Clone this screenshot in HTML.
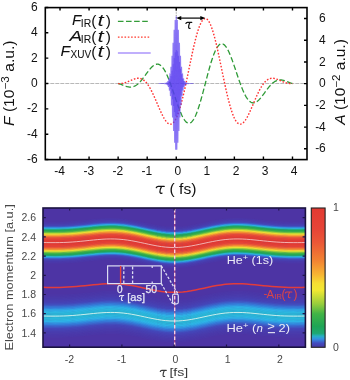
<!DOCTYPE html>
<html><head><meta charset="utf-8"><style>
html,body{margin:0;padding:0;background:#fff;width:350px;height:380px;overflow:hidden}
svg{display:block}
</style></head><body>
<svg style="will-change:transform" width="350" height="380" viewBox="0 0 350 380">
<line x1="45.3" y1="83.5" x2="307.0" y2="83.5" stroke="#b0b0b0" stroke-width="0.9" stroke-dasharray="4 1"/>
<line x1="176.25" y1="7.6" x2="176.25" y2="18" stroke="#888" stroke-width="0.9" stroke-dasharray="1.2 1.2"/>
<path d="M118.13,83.5 L118.71,83.65 L119.29,83.82 L119.87,84.01 L120.45,84.21 L121.04,84.42 L121.62,84.64 L122.2,84.87 L122.78,85.1 L123.36,85.33 L123.94,85.55 L124.52,85.77 L125.1,85.98 L125.69,86.18 L126.27,86.37 L126.85,86.54 L127.43,86.69 L128.01,86.82 L128.59,86.93 L129.17,87.01 L129.75,87.06 L130.34,87.08 L130.92,87.06 L131.5,87.01 L132.08,86.93 L132.66,86.81 L133.24,86.64 L133.82,86.44 L134.4,86.2 L134.98,85.92 L135.57,85.6 L136.15,85.24 L136.73,84.84 L137.31,84.4 L137.89,83.92 L138.47,83.4 L139.05,82.85 L139.63,82.26 L140.22,81.64 L140.8,80.99 L141.38,80.31 L141.96,79.6 L142.54,78.87 L143.12,78.13 L143.7,77.36 L144.28,76.59 L144.87,75.8 L145.45,75.01 L146.03,74.21 L146.61,73.42 L147.19,72.63 L147.77,71.86 L148.35,71.09 L148.93,70.35 L149.51,69.63 L150.1,68.93 L150.68,68.27 L151.26,67.64 L151.84,67.06 L152.42,66.51 L153,66.01 L153.58,65.57 L154.16,65.18 L154.75,64.85 L155.33,64.58 L155.91,64.37 L156.49,64.23 L157.07,64.17 L157.65,64.17 L158.23,64.25 L158.81,64.41 L159.4,64.65 L159.98,64.96 L160.56,65.36 L161.14,65.84 L161.72,66.4 L162.3,67.04 L162.88,67.76 L163.46,68.56 L164.04,69.44 L164.63,70.39 L165.21,71.43 L165.79,72.53 L166.37,73.71 L166.95,74.95 L167.53,76.26 L168.11,77.63 L168.69,79.06 L169.28,80.54 L169.86,82.07 L170.44,83.65 L171.02,85.26 L171.6,86.91 L172.18,88.59 L172.76,90.29 L173.34,92 L173.93,93.73 L174.51,95.46 L175.09,97.2 L175.67,98.92 L176.25,100.64 L176.83,102.33 L177.41,104 L177.99,105.64 L178.57,107.23 L179.16,108.79 L179.74,110.29 L180.32,111.74 L180.9,113.12 L181.48,114.44 L182.06,115.68 L182.64,116.84 L183.22,117.92 L183.81,118.91 L184.39,119.81 L184.97,120.61 L185.55,121.31 L186.13,121.91 L186.71,122.4 L187.29,122.78 L187.87,123.04 L188.46,123.2 L189.04,123.23 L189.62,123.15 L190.2,122.95 L190.78,122.63 L191.36,122.19 L191.94,121.63 L192.52,120.96 L193.1,120.17 L193.69,119.27 L194.27,118.26 L194.85,117.14 L195.43,115.91 L196.01,114.58 L196.59,113.15 L197.17,111.63 L197.75,110.02 L198.34,108.32 L198.92,106.54 L199.5,104.69 L200.08,102.77 L200.66,100.79 L201.24,98.76 L201.82,96.67 L202.4,94.54 L202.99,92.38 L203.57,90.18 L204.15,87.97 L204.73,85.74 L205.31,83.5 L205.89,81.26 L206.47,79.03 L207.05,76.82 L207.63,74.62 L208.22,72.46 L208.8,70.33 L209.38,68.24 L209.96,66.21 L210.54,64.23 L211.12,62.31 L211.7,60.46 L212.28,58.68 L212.87,56.98 L213.45,55.37 L214.03,53.85 L214.61,52.42 L215.19,51.09 L215.77,49.86 L216.35,48.74 L216.93,47.73 L217.52,46.83 L218.1,46.04 L218.68,45.37 L219.26,44.81 L219.84,44.37 L220.42,44.05 L221,43.85 L221.58,43.77 L222.16,43.8 L222.75,43.96 L223.33,44.22 L223.91,44.6 L224.49,45.09 L225.07,45.69 L225.65,46.39 L226.23,47.19 L226.81,48.09 L227.4,49.08 L227.98,50.16 L228.56,51.32 L229.14,52.56 L229.72,53.88 L230.3,55.26 L230.88,56.71 L231.46,58.21 L232.05,59.77 L232.63,61.36 L233.21,63 L233.79,64.67 L234.37,66.36 L234.95,68.08 L235.53,69.8 L236.11,71.54 L236.69,73.27 L237.28,75 L237.86,76.71 L238.44,78.41 L239.02,80.09 L239.6,81.74 L240.18,83.35 L240.76,84.93 L241.34,86.46 L241.93,87.94 L242.51,89.37 L243.09,90.74 L243.67,92.05 L244.25,93.29 L244.83,94.47 L245.41,95.57 L245.99,96.61 L246.58,97.56 L247.16,98.44 L247.74,99.24 L248.32,99.96 L248.9,100.6 L249.48,101.16 L250.06,101.64 L250.64,102.04 L251.22,102.35 L251.81,102.59 L252.39,102.75 L252.97,102.83 L253.55,102.83 L254.13,102.77 L254.71,102.63 L255.29,102.42 L255.87,102.15 L256.46,101.82 L257.04,101.43 L257.62,100.99 L258.2,100.49 L258.78,99.94 L259.36,99.36 L259.94,98.73 L260.52,98.07 L261.11,97.37 L261.69,96.65 L262.27,95.91 L262.85,95.14 L263.43,94.37 L264.01,93.58 L264.59,92.79 L265.17,91.99 L265.75,91.2 L266.34,90.41 L266.92,89.64 L267.5,88.87 L268.08,88.13 L268.66,87.4 L269.24,86.69 L269.82,86.01 L270.4,85.36 L270.99,84.74 L271.57,84.15 L272.15,83.6 L272.73,83.08 L273.31,82.6 L273.89,82.16 L274.47,81.76 L275.05,81.4 L275.64,81.08 L276.22,80.8 L276.8,80.56 L277.38,80.36 L277.96,80.19 L278.54,80.07 L279.12,79.99 L279.7,79.94 L280.28,79.92 L280.87,79.94 L281.45,79.99 L282.03,80.07 L282.61,80.18 L283.19,80.31 L283.77,80.46 L284.35,80.63 L284.93,80.82 L285.52,81.02 L286.1,81.23 L286.68,81.45 L287.26,81.67 L287.84,81.9 L288.42,82.13 L289,82.36 L289.58,82.58 L290.17,82.79 L290.75,82.99 L291.33,83.18 L291.91,83.35 L292.49,83.5" fill="none" stroke="#2e9a36" stroke-width="1.3" stroke-dasharray="5.5 2.5"/>
<path d="M118.13,83.65 L118.71,83.64 L119.29,83.63 L119.87,83.6 L120.45,83.55 L121.04,83.5 L121.62,83.42 L122.2,83.33 L122.78,83.23 L123.36,83.11 L123.94,82.97 L124.52,82.82 L125.1,82.65 L125.69,82.47 L126.27,82.27 L126.85,82.06 L127.43,81.84 L128.01,81.61 L128.59,81.37 L129.17,81.12 L129.75,80.87 L130.34,80.62 L130.92,80.37 L131.5,80.11 L132.08,79.87 L132.66,79.63 L133.24,79.4 L133.82,79.19 L134.4,78.98 L134.98,78.8 L135.57,78.64 L136.15,78.51 L136.73,78.4 L137.31,78.32 L137.89,78.27 L138.47,78.26 L139.05,78.28 L139.63,78.35 L140.22,78.46 L140.8,78.62 L141.38,78.82 L141.96,79.07 L142.54,79.37 L143.12,79.73 L143.7,80.13 L144.28,80.6 L144.87,81.11 L145.45,81.69 L146.03,82.32 L146.61,83 L147.19,83.75 L147.77,84.54 L148.35,85.4 L148.93,86.3 L149.51,87.26 L150.1,88.27 L150.68,89.32 L151.26,90.42 L151.84,91.57 L152.42,92.75 L153,93.98 L153.58,95.23 L154.16,96.52 L154.75,97.83 L155.33,99.16 L155.91,100.51 L156.49,101.87 L157.07,103.24 L157.65,104.61 L158.23,105.97 L158.81,107.33 L159.4,108.68 L159.98,110 L160.56,111.3 L161.14,112.57 L161.72,113.8 L162.3,114.99 L162.88,116.14 L163.46,117.22 L164.04,118.25 L164.63,119.22 L165.21,120.11 L165.79,120.92 L166.37,121.66 L166.95,122.31 L167.53,122.87 L168.11,123.33 L168.69,123.7 L169.28,123.96 L169.86,124.12 L170.44,124.16 L171.02,124.1 L171.6,123.91 L172.18,123.61 L172.76,123.19 L173.34,122.65 L173.93,121.99 L174.51,121.2 L175.09,120.29 L175.67,119.26 L176.25,118.1 L176.83,116.83 L177.41,115.44 L177.99,113.92 L178.57,112.3 L179.16,110.56 L179.74,108.72 L180.32,106.77 L180.9,104.72 L181.48,102.57 L182.06,100.33 L182.64,98.01 L183.22,95.61 L183.81,93.13 L184.39,90.59 L184.97,87.99 L185.55,85.33 L186.13,82.63 L186.71,79.89 L187.29,77.12 L187.87,74.33 L188.46,71.52 L189.04,68.7 L189.62,65.89 L190.2,63.09 L190.78,60.3 L191.36,57.54 L191.94,54.82 L192.52,52.14 L193.1,49.51 L193.69,46.95 L194.27,44.45 L194.85,42.02 L195.43,39.68 L196.01,37.43 L196.59,35.28 L197.17,33.23 L197.75,31.29 L198.34,29.47 L198.92,27.78 L199.5,26.21 L200.08,24.77 L200.66,23.48 L201.24,22.33 L201.82,21.32 L202.4,20.46 L202.99,19.75 L203.57,19.2 L204.15,18.81 L204.73,18.57 L205.31,18.49 L205.89,18.57 L206.47,18.81 L207.05,19.2 L207.63,19.75 L208.22,20.46 L208.8,21.32 L209.38,22.33 L209.96,23.48 L210.54,24.77 L211.12,26.21 L211.7,27.78 L212.28,29.47 L212.87,31.29 L213.45,33.23 L214.03,35.28 L214.61,37.43 L215.19,39.68 L215.77,42.02 L216.35,44.45 L216.93,46.95 L217.52,49.51 L218.1,52.14 L218.68,54.82 L219.26,57.54 L219.84,60.3 L220.42,63.09 L221,65.89 L221.58,68.7 L222.16,71.52 L222.75,74.33 L223.33,77.12 L223.91,79.89 L224.49,82.63 L225.07,85.33 L225.65,87.99 L226.23,90.59 L226.81,93.13 L227.4,95.61 L227.98,98.01 L228.56,100.33 L229.14,102.57 L229.72,104.72 L230.3,106.77 L230.88,108.72 L231.46,110.56 L232.05,112.3 L232.63,113.92 L233.21,115.44 L233.79,116.83 L234.37,118.1 L234.95,119.26 L235.53,120.29 L236.11,121.2 L236.69,121.99 L237.28,122.65 L237.86,123.19 L238.44,123.61 L239.02,123.91 L239.6,124.1 L240.18,124.16 L240.76,124.12 L241.34,123.96 L241.93,123.7 L242.51,123.33 L243.09,122.87 L243.67,122.31 L244.25,121.66 L244.83,120.92 L245.41,120.11 L245.99,119.22 L246.58,118.25 L247.16,117.22 L247.74,116.14 L248.32,114.99 L248.9,113.8 L249.48,112.57 L250.06,111.3 L250.64,110 L251.22,108.68 L251.81,107.33 L252.39,105.97 L252.97,104.61 L253.55,103.24 L254.13,101.87 L254.71,100.51 L255.29,99.16 L255.87,97.83 L256.46,96.52 L257.04,95.23 L257.62,93.98 L258.2,92.75 L258.78,91.57 L259.36,90.42 L259.94,89.32 L260.52,88.27 L261.11,87.26 L261.69,86.3 L262.27,85.4 L262.85,84.54 L263.43,83.75 L264.01,83 L264.59,82.32 L265.17,81.69 L265.75,81.11 L266.34,80.6 L266.92,80.13 L267.5,79.73 L268.08,79.37 L268.66,79.07 L269.24,78.82 L269.82,78.62 L270.4,78.46 L270.99,78.35 L271.57,78.28 L272.15,78.26 L272.73,78.27 L273.31,78.32 L273.89,78.4 L274.47,78.51 L275.05,78.64 L275.64,78.8 L276.22,78.98 L276.8,79.19 L277.38,79.4 L277.96,79.63 L278.54,79.87 L279.12,80.11 L279.7,80.37 L280.28,80.62 L280.87,80.87 L281.45,81.12 L282.03,81.37 L282.61,81.61 L283.19,81.84 L283.77,82.06 L284.35,82.27 L284.93,82.47 L285.52,82.65 L286.1,82.82 L286.68,82.97 L287.26,83.11 L287.84,83.23 L288.42,83.33 L289,83.42 L289.58,83.5 L290.17,83.55 L290.75,83.6 L291.33,83.63 L291.91,83.64 L292.49,83.65" fill="none" stroke="#ff3030" stroke-width="1.4" stroke-dasharray="1.6 1.7"/>
<g fill="none" stroke="rgb(88,60,240)" stroke-opacity="0.64" stroke-width="1.2"><path d="M158.81,83.5 L158.86,83.5 L158.9,83.5 L158.94,83.5 L158.99,83.5 L159.03,83.5 L159.08,83.5 L159.12,83.5 L159.16,83.5 L159.21,83.5 L159.25,83.5 L159.29,83.5 L159.34,83.5"/><path d="M159.34,83.5 L159.38,83.5 L159.42,83.5 L159.47,83.5 L159.51,83.5 L159.56,83.5 L159.6,83.5 L159.64,83.5 L159.69,83.5 L159.73,83.5 L159.77,83.5 L159.82,83.5 L159.86,83.5"/><path d="M159.86,83.5 L159.9,83.5 L159.95,83.5 L159.99,83.5 L160.03,83.5 L160.08,83.5 L160.12,83.5 L160.17,83.5 L160.21,83.5 L160.25,83.5 L160.3,83.5 L160.34,83.5 L160.38,83.5"/><path d="M160.38,83.5 L160.43,83.5 L160.47,83.5 L160.51,83.5 L160.56,83.5 L160.6,83.5 L160.64,83.5 L160.69,83.5 L160.73,83.5 L160.78,83.5 L160.82,83.5 L160.86,83.5 L160.91,83.5"/><path d="M160.91,83.5 L160.95,83.5 L160.99,83.5 L161.04,83.5 L161.08,83.5 L161.12,83.5 L161.17,83.5 L161.21,83.5 L161.26,83.5 L161.3,83.5 L161.34,83.5 L161.39,83.5 L161.43,83.5"/><path d="M161.43,83.5 L161.47,83.5 L161.52,83.5 L161.56,83.5 L161.6,83.5 L161.65,83.5 L161.69,83.5 L161.73,83.5 L161.78,83.5 L161.82,83.5 L161.87,83.5 L161.91,83.5 L161.95,83.5"/><path d="M161.95,83.5 L162,83.5 L162.04,83.5 L162.08,83.5 L162.13,83.5 L162.17,83.5 L162.21,83.5 L162.26,83.5 L162.3,83.5 L162.34,83.5 L162.39,83.5 L162.43,83.5 L162.48,83.5"/><path d="M162.48,83.5 L162.52,83.5 L162.56,83.5 L162.61,83.49 L162.65,83.49 L162.69,83.49 L162.74,83.49 L162.78,83.5 L162.82,83.5 L162.87,83.5 L162.91,83.5 L162.96,83.5 L163,83.5"/><path d="M163,83.5 L163.04,83.51 L163.09,83.51 L163.13,83.51 L163.17,83.51 L163.22,83.51 L163.26,83.51 L163.3,83.51 L163.35,83.51 L163.39,83.5 L163.43,83.5 L163.48,83.5 L163.52,83.49"/><path d="M163.52,83.49 L163.57,83.49 L163.61,83.48 L163.65,83.48 L163.7,83.48 L163.74,83.48 L163.78,83.48 L163.83,83.48 L163.87,83.49 L163.91,83.49 L163.96,83.5 L164,83.51 L164.04,83.52"/><path d="M164.04,83.52 L164.09,83.53 L164.13,83.53 L164.18,83.54 L164.22,83.54 L164.26,83.54 L164.31,83.54 L164.35,83.54 L164.39,83.53 L164.44,83.51 L164.48,83.5 L164.52,83.48 L164.57,83.47"/><path d="M164.57,83.47 L164.61,83.45 L164.66,83.44 L164.7,83.43 L164.74,83.42 L164.79,83.42 L164.83,83.42 L164.87,83.43 L164.92,83.45 L164.96,83.47 L165,83.5 L165.05,83.53 L165.09,83.56"/><path d="M165.09,83.56 L165.13,83.59 L165.18,83.62 L165.22,83.64 L165.27,83.65 L165.31,83.65 L165.35,83.64 L165.4,83.62 L165.44,83.59 L165.48,83.55 L165.53,83.5 L165.57,83.45 L165.61,83.39"/><path d="M165.61,83.39 L165.66,83.34 L165.7,83.3 L165.74,83.26 L165.79,83.24 L165.83,83.24 L165.88,83.25 L165.92,83.29 L165.96,83.34 L166.01,83.42 L166.05,83.5 L166.09,83.59 L166.14,83.69"/><path d="M166.14,83.69 L166.18,83.78 L166.22,83.85 L166.27,83.91 L166.31,83.95 L166.36,83.95 L166.4,83.92 L166.44,83.86 L166.49,83.77 L166.53,83.64 L166.57,83.5 L166.62,83.34 L166.66,83.18"/><path d="M166.66,83.18 L166.7,83.03 L166.75,82.91 L166.79,82.81 L166.83,82.75 L166.88,82.75 L166.92,82.8 L166.97,82.9 L167.01,83.06 L167.05,83.26 L167.1,83.5 L167.14,83.76 L167.18,84.02"/><path d="M167.18,84.02 L167.23,84.26 L167.27,84.47 L167.31,84.63 L167.36,84.71 L167.4,84.72 L167.44,84.64 L167.49,84.46 L167.53,84.21 L167.58,83.88 L167.62,83.5 L167.66,83.09 L167.71,82.67"/><path d="M167.71,82.67 L167.75,82.29 L167.79,81.96 L167.84,81.71 L167.88,81.58 L167.92,81.58 L167.97,81.71 L168.01,81.99 L168.06,82.39 L168.1,82.9 L168.14,83.5 L168.19,84.14 L168.23,84.78"/><path d="M168.23,84.78 L168.27,85.38 L168.32,85.88 L168.36,86.25 L168.4,86.45 L168.45,86.45 L168.49,86.24 L168.53,85.81 L168.58,85.19 L168.62,84.41 L168.67,83.5 L168.71,82.53 L168.75,81.56"/><path d="M168.75,81.56 L168.8,80.67 L168.84,79.92 L168.88,79.37 L168.93,79.09 L168.97,79.1 L169.01,79.42 L169.06,80.06 L169.1,80.99 L169.14,82.16 L169.19,83.5 L169.23,84.93 L169.28,86.34"/><path d="M169.28,86.34 L169.32,87.65 L169.36,88.73 L169.41,89.52 L169.45,89.92 L169.49,89.89 L169.54,89.4 L169.58,88.47 L169.62,87.12 L169.67,85.43 L169.71,83.5 L169.76,81.46 L169.8,79.44"/><path d="M169.8,79.44 L169.84,77.59 L169.89,76.06 L169.93,74.96 L169.97,74.41 L170.02,74.48 L170.06,75.18 L170.1,76.52 L170.15,78.43 L170.19,80.8 L170.23,83.5 L170.28,86.34 L170.32,89.14"/><path d="M170.32,89.14 L170.37,91.69 L170.41,93.79 L170.45,95.28 L170.5,96.01 L170.54,95.89 L170.58,94.89 L170.63,93.04 L170.67,90.41 L170.71,87.17 L170.76,83.5 L170.8,79.65 L170.84,75.88"/><path d="M170.84,75.88 L170.89,72.46 L170.93,69.66 L170.98,67.7 L171.02,66.76 L171.06,66.95 L171.11,68.32 L171.15,70.82 L171.19,74.33 L171.24,78.65 L171.28,83.5 L171.32,88.57 L171.37,93.51"/><path d="M171.37,93.51 L171.41,97.97 L171.46,101.6 L171.5,104.12 L171.54,105.3 L171.59,105 L171.63,103.18 L171.67,99.9 L171.72,95.33 L171.76,89.75 L171.8,83.5 L171.85,77 L171.89,70.7"/><path d="M171.89,70.7 L171.93,65.05 L171.98,60.47 L172.02,57.33 L172.07,55.89 L172.11,56.34 L172.15,58.7 L172.2,62.88 L172.24,68.66 L172.28,75.68 L172.33,83.5 L172.37,91.6 L172.41,99.41"/><path d="M172.41,99.41 L172.46,106.38 L172.5,112 L172.54,115.81 L172.59,117.5 L172.63,116.88 L172.68,113.9 L172.72,108.72 L172.76,101.61 L172.81,93.02 L172.85,83.5 L172.89,73.69 L172.94,64.27"/><path d="M172.94,64.27 L172.98,55.9 L173.02,49.21 L173.07,44.71 L173.11,42.77 L173.16,43.61 L173.2,47.25 L173.24,53.5 L173.29,62.01 L173.33,72.23 L173.37,83.5 L173.42,95.06 L173.46,106.12"/><path d="M173.46,106.12 L173.5,115.88 L173.55,123.64 L173.59,128.8 L173.63,130.95 L173.68,129.86 L173.72,125.54 L173.77,118.21 L173.81,108.31 L173.85,96.48 L173.9,83.5 L173.94,70.24 L173.98,57.63"/><path d="M173.98,57.63 L174.03,46.55 L174.07,37.81 L174.11,32.05 L174.16,29.73 L174.2,31.08 L174.24,36.08 L174.29,44.44 L174.33,55.64 L174.38,68.96 L174.42,83.5 L174.46,98.28 L174.51,112.27"/><path d="M174.51,112.27 L174.55,124.5 L174.59,134.09 L174.64,140.34 L174.68,142.76 L174.72,141.13 L174.77,135.52 L174.81,126.25 L174.86,113.92 L174.9,99.34 L174.94,83.5 L174.99,67.47 L175.03,52.37"/><path d="M175.03,52.37 L175.07,39.24 L175.12,29.02 L175.16,22.43 L175.2,19.98 L175.25,21.86 L175.29,28 L175.33,37.99 L175.38,51.2 L175.42,66.71 L175.47,83.5 L175.51,100.4 L175.55,116.26"/><path d="M175.55,116.26 L175.6,129.96 L175.64,140.57 L175.68,147.31 L175.73,149.72 L175.77,147.61 L175.81,141.1 L175.86,130.61 L175.9,116.87 L175.94,100.8 L175.99,83.5 L176.03,66.16 L176.08,49.98"/><path d="M176.08,49.98 L176.12,36.06 L176.16,25.37 L176.21,18.64 L176.25,16.35 L176.29,18.64 L176.34,25.37 L176.38,36.06 L176.42,49.98 L176.47,66.16 L176.51,83.5 L176.56,100.8 L176.6,116.87"/><path d="M176.6,116.87 L176.64,130.61 L176.69,141.1 L176.73,147.61 L176.77,149.72 L176.82,147.31 L176.86,140.57 L176.9,129.96 L176.95,116.26 L176.99,100.4 L177.03,83.5 L177.08,66.71 L177.12,51.2"/><path d="M177.12,51.2 L177.17,37.99 L177.21,28 L177.25,21.86 L177.3,19.98 L177.34,22.43 L177.38,29.02 L177.43,39.24 L177.47,52.37 L177.51,67.47 L177.56,83.5 L177.6,99.34 L177.64,113.92"/><path d="M177.64,113.92 L177.69,126.25 L177.73,135.52 L177.78,141.13 L177.82,142.76 L177.86,140.34 L177.91,134.09 L177.95,124.5 L177.99,112.27 L178.04,98.28 L178.08,83.5 L178.12,68.96 L178.17,55.64"/><path d="M178.17,55.64 L178.21,44.44 L178.26,36.08 L178.3,31.08 L178.34,29.73 L178.39,32.05 L178.43,37.81 L178.47,46.55 L178.52,57.63 L178.56,70.24 L178.6,83.5 L178.65,96.48 L178.69,108.31"/><path d="M178.69,108.31 L178.73,118.21 L178.78,125.54 L178.82,129.86 L178.87,130.95 L178.91,128.8 L178.95,123.64 L179,115.88 L179.04,106.12 L179.08,95.06 L179.13,83.5 L179.17,72.23 L179.21,62.01"/><path d="M179.21,62.01 L179.26,53.5 L179.3,47.25 L179.34,43.61 L179.39,42.77 L179.43,44.71 L179.48,49.21 L179.52,55.9 L179.56,64.27 L179.61,73.69 L179.65,83.5 L179.69,93.02 L179.74,101.61"/><path d="M179.74,101.61 L179.78,108.72 L179.82,113.9 L179.87,116.88 L179.91,117.5 L179.96,115.81 L180,112 L180.04,106.38 L180.09,99.41 L180.13,91.6 L180.17,83.5 L180.22,75.68 L180.26,68.66"/><path d="M180.26,68.66 L180.3,62.88 L180.35,58.7 L180.39,56.34 L180.43,55.89 L180.48,57.33 L180.52,60.47 L180.57,65.05 L180.61,70.7 L180.65,77 L180.7,83.5 L180.74,89.75 L180.78,95.33"/><path d="M180.78,95.33 L180.83,99.9 L180.87,103.18 L180.91,105 L180.96,105.3 L181,104.12 L181.04,101.6 L181.09,97.97 L181.13,93.51 L181.18,88.57 L181.22,83.5 L181.26,78.65 L181.31,74.33"/><path d="M181.31,74.33 L181.35,70.82 L181.39,68.32 L181.44,66.95 L181.48,66.76 L181.52,67.7 L181.57,69.66 L181.61,72.46 L181.66,75.88 L181.7,79.65 L181.74,83.5 L181.79,87.17 L181.83,90.41"/><path d="M181.83,90.41 L181.87,93.04 L181.92,94.89 L181.96,95.89 L182,96.01 L182.05,95.28 L182.09,93.79 L182.13,91.69 L182.18,89.14 L182.22,86.34 L182.27,83.5 L182.31,80.8 L182.35,78.43"/><path d="M182.35,78.43 L182.4,76.52 L182.44,75.18 L182.48,74.48 L182.53,74.41 L182.57,74.96 L182.61,76.06 L182.66,77.59 L182.7,79.44 L182.74,81.46 L182.79,83.5 L182.83,85.43 L182.88,87.12"/><path d="M182.88,87.12 L182.92,88.47 L182.96,89.4 L183.01,89.89 L183.05,89.92 L183.09,89.52 L183.14,88.73 L183.18,87.65 L183.22,86.34 L183.27,84.93 L183.31,83.5 L183.36,82.16 L183.4,80.99"/><path d="M183.4,80.99 L183.44,80.06 L183.49,79.42 L183.53,79.1 L183.57,79.09 L183.62,79.37 L183.66,79.92 L183.7,80.67 L183.75,81.56 L183.79,82.53 L183.83,83.5 L183.88,84.41 L183.92,85.19"/><path d="M183.92,85.19 L183.97,85.81 L184.01,86.24 L184.05,86.45 L184.1,86.45 L184.14,86.25 L184.18,85.88 L184.23,85.38 L184.27,84.78 L184.31,84.14 L184.36,83.5 L184.4,82.9 L184.44,82.39"/><path d="M184.44,82.39 L184.49,81.99 L184.53,81.71 L184.58,81.58 L184.62,81.58 L184.66,81.71 L184.71,81.96 L184.75,82.29 L184.79,82.67 L184.84,83.09 L184.88,83.5 L184.92,83.88 L184.97,84.21"/><path d="M184.97,84.21 L185.01,84.46 L185.06,84.64 L185.1,84.72 L185.14,84.71 L185.19,84.63 L185.23,84.47 L185.27,84.26 L185.32,84.02 L185.36,83.76 L185.4,83.5 L185.45,83.26 L185.49,83.06"/><path d="M185.49,83.06 L185.53,82.9 L185.58,82.8 L185.62,82.75 L185.67,82.75 L185.71,82.81 L185.75,82.91 L185.8,83.03 L185.84,83.18 L185.88,83.34 L185.93,83.5 L185.97,83.64 L186.01,83.77"/><path d="M186.01,83.77 L186.06,83.86 L186.1,83.92 L186.14,83.95 L186.19,83.95 L186.23,83.91 L186.28,83.85 L186.32,83.78 L186.36,83.69 L186.41,83.59 L186.45,83.5 L186.49,83.42 L186.54,83.34"/><path d="M186.54,83.34 L186.58,83.29 L186.62,83.25 L186.67,83.24 L186.71,83.24 L186.76,83.26 L186.8,83.3 L186.84,83.34 L186.89,83.39 L186.93,83.45 L186.97,83.5 L187.02,83.55 L187.06,83.59"/><path d="M187.06,83.59 L187.1,83.62 L187.15,83.64 L187.19,83.65 L187.23,83.65 L187.28,83.64 L187.32,83.62 L187.37,83.59 L187.41,83.56 L187.45,83.53 L187.5,83.5 L187.54,83.47 L187.58,83.45"/><path d="M187.58,83.45 L187.63,83.43 L187.67,83.42 L187.71,83.42 L187.76,83.42 L187.8,83.43 L187.84,83.44 L187.89,83.45 L187.93,83.47 L187.98,83.48 L188.02,83.5 L188.06,83.51 L188.11,83.53"/><path d="M188.11,83.53 L188.15,83.54 L188.19,83.54 L188.24,83.54 L188.28,83.54 L188.32,83.54 L188.37,83.53 L188.41,83.53 L188.46,83.52 L188.5,83.51 L188.54,83.5 L188.59,83.49 L188.63,83.49"/><path d="M188.63,83.49 L188.67,83.48 L188.72,83.48 L188.76,83.48 L188.8,83.48 L188.85,83.48 L188.89,83.48 L188.93,83.49 L188.98,83.49 L189.02,83.5 L189.07,83.5 L189.11,83.5 L189.15,83.51"/><path d="M189.15,83.51 L189.2,83.51 L189.24,83.51 L189.28,83.51 L189.33,83.51 L189.37,83.51 L189.41,83.51 L189.46,83.51 L189.5,83.5 L189.54,83.5 L189.59,83.5 L189.63,83.5 L189.68,83.5"/><path d="M189.68,83.5 L189.72,83.5 L189.76,83.49 L189.81,83.49 L189.85,83.49 L189.89,83.49 L189.94,83.5 L189.98,83.5 L190.02,83.5 L190.07,83.5 L190.11,83.5 L190.16,83.5 L190.2,83.5"/><path d="M190.2,83.5 L190.24,83.5 L190.29,83.5 L190.33,83.5 L190.37,83.5 L190.42,83.5 L190.46,83.5 L190.5,83.5 L190.55,83.5 L190.59,83.5 L190.63,83.5 L190.68,83.5 L190.72,83.5"/><path d="M190.72,83.5 L190.77,83.5 L190.81,83.5 L190.85,83.5 L190.9,83.5 L190.94,83.5 L190.98,83.5 L191.03,83.5 L191.07,83.5 L191.11,83.5 L191.16,83.5 L191.2,83.5 L191.24,83.5"/><path d="M191.24,83.5 L191.29,83.5 L191.33,83.5 L191.38,83.5 L191.42,83.5 L191.46,83.5 L191.51,83.5 L191.55,83.5 L191.59,83.5 L191.64,83.5 L191.68,83.5 L191.72,83.5 L191.77,83.5"/><path d="M191.77,83.5 L191.81,83.5 L191.86,83.5 L191.9,83.5 L191.94,83.5 L191.99,83.5 L192.03,83.5 L192.07,83.5 L192.12,83.5 L192.16,83.5 L192.2,83.5 L192.25,83.5 L192.29,83.5"/><path d="M192.29,83.5 L192.33,83.5 L192.38,83.5 L192.42,83.5 L192.47,83.5 L192.51,83.5 L192.55,83.5 L192.6,83.5 L192.64,83.5 L192.68,83.5 L192.73,83.5 L192.77,83.5 L192.81,83.5"/><path d="M192.81,83.5 L192.86,83.5 L192.9,83.5 L192.94,83.5 L192.99,83.5 L193.03,83.5 L193.08,83.5 L193.12,83.5 L193.16,83.5 L193.21,83.5 L193.25,83.5 L193.29,83.5 L193.34,83.5"/></g>
<rect x="45.3" y="7.6" width="261.7" height="152" fill="none" stroke="#000" stroke-width="1.6"/>
<path d="M60.01,7.6v3M60.01,159.6v-3M89.07,7.6v3M89.07,159.6v-3M118.13,7.6v3M118.13,159.6v-3M147.19,7.6v3M147.19,159.6v-3M176.25,7.6v3M176.25,159.6v-3M205.31,7.6v3M205.31,159.6v-3M234.37,7.6v3M234.37,159.6v-3M263.43,7.6v3M263.43,159.6v-3M292.49,7.6v3M292.49,159.6v-3M45.3,159.52h3M307.0,148.81h-3M45.3,134.18h3M307.0,127.09h-3M45.3,108.84h3M307.0,105.37h-3M45.3,83.5h3M307.0,83.65h-3M45.3,58.16h3M307.0,61.93h-3M45.3,32.82h3M307.0,40.21h-3M45.3,7.48h3M307.0,18.49h-3" stroke="#000" stroke-width="1.4" fill="none"/>
<g font-family="Liberation Sans, sans-serif" font-size="12" fill="#111"><text x="59.71" y="175.3" text-anchor="middle">-4</text><text x="88.77" y="175.3" text-anchor="middle">-3</text><text x="117.83" y="175.3" text-anchor="middle">-2</text><text x="146.89" y="175.3" text-anchor="middle">-1</text><text x="177.85" y="175.3" text-anchor="middle">0</text><text x="206.91" y="175.3" text-anchor="middle">1</text><text x="235.97" y="175.3" text-anchor="middle">2</text><text x="265.03" y="175.3" text-anchor="middle">3</text><text x="294.09" y="175.3" text-anchor="middle">4</text><text x="37.6" y="163.12" text-anchor="end">-6</text><text x="325.8" y="152.41" text-anchor="end">-6</text><text x="37.6" y="137.78" text-anchor="end">-4</text><text x="325.8" y="130.69" text-anchor="end">-4</text><text x="37.6" y="112.44" text-anchor="end">-2</text><text x="325.8" y="108.97" text-anchor="end">-2</text><text x="37.6" y="87.1" text-anchor="end">0</text><text x="325.8" y="87.25" text-anchor="end">0</text><text x="37.6" y="61.76" text-anchor="end">2</text><text x="325.8" y="65.53" text-anchor="end">2</text><text x="37.6" y="36.42" text-anchor="end">4</text><text x="325.8" y="43.81" text-anchor="end">4</text><text x="37.6" y="11.08" text-anchor="end">6</text><text x="325.8" y="22.09" text-anchor="end">6</text></g>
<text font-family="Liberation Sans, sans-serif" font-size="14" fill="#111" transform="translate(14.2,126) rotate(-90)" textLength="85.5" lengthAdjust="spacingAndGlyphs"><tspan font-style="italic">F</tspan> (10<tspan font-size="10.5" dy="-5.5">−3</tspan><tspan dy="5.5"> a.u.)</tspan></text>
<text font-family="Liberation Sans, sans-serif" font-size="14" fill="#111" transform="translate(345.2,124.7) rotate(-90)" textLength="85.5" lengthAdjust="spacingAndGlyphs"><tspan font-style="italic">A</tspan> (10<tspan font-size="10.5" dy="-5.5">−2</tspan><tspan dy="5.5"> a.u.)</tspan></text>
<path d="M0,0.22 C0.05,0.08 0.12,0.05 0.25,0.05 L1,0.05 M0.66,0.07 C0.52,0.35 0.45,0.6 0.46,0.78 C0.47,0.95 0.58,0.98 0.72,0.95" transform="translate(156.3,186.0) scale(7.9,7.6)" fill="none" stroke="#111" stroke-width="1.3" vector-effect="non-scaling-stroke" stroke-linecap="round"/>
<text font-family="Liberation Sans, sans-serif" font-size="14" fill="#111" x="169.5" y="193.7" textLength="27" lengthAdjust="spacingAndGlyphs">( fs)</text>
<g font-family="Liberation Sans, sans-serif" fill="#111" stroke="#111" stroke-width="0.05"><text x="72.0" y="25.2" font-size="14" font-style="italic" textLength="9.2" lengthAdjust="spacingAndGlyphs">F</text><text x="80.8" y="27.2" font-size="10.5" textLength="10.4" lengthAdjust="spacingAndGlyphs">IR</text><text x="69.6" y="40.9" font-size="14" font-style="italic" textLength="12.6" lengthAdjust="spacingAndGlyphs">A</text><text x="80.8" y="42.9" font-size="10.5" textLength="10.4" lengthAdjust="spacingAndGlyphs">IR</text><text x="60.4" y="56.2" font-size="14" font-style="italic" textLength="9.6" lengthAdjust="spacingAndGlyphs">F</text><text x="70.4" y="58.2" font-size="10.5" textLength="20.8" lengthAdjust="spacingAndGlyphs">XUV</text></g>
<g font-family="Liberation Sans, sans-serif" fill="#111"><text x="91.2" y="25.8" font-size="15.5">(</text><text x="97.4" y="25.8" font-size="16" font-style="italic" textLength="6.2" lengthAdjust="spacingAndGlyphs">t</text><text x="105.8" y="25.8" font-size="15.5">)</text><text x="91.2" y="41.5" font-size="15.5">(</text><text x="97.4" y="41.5" font-size="16" font-style="italic" textLength="6.2" lengthAdjust="spacingAndGlyphs">t</text><text x="105.8" y="41.5" font-size="15.5">)</text><text x="91.2" y="56.800000000000004" font-size="15.5">(</text><text x="97.4" y="56.800000000000004" font-size="16" font-style="italic" textLength="6.2" lengthAdjust="spacingAndGlyphs">t</text><text x="105.8" y="56.800000000000004" font-size="15.5">)</text></g>
<line x1="117.9" y1="21.4" x2="148" y2="21.4" stroke="#339c38" stroke-width="1.25" stroke-dasharray="5.6 2.5"/>
<line x1="117.9" y1="37.1" x2="150.7" y2="37.1" stroke="#ff3a2e" stroke-width="1.25" stroke-dasharray="1.6 1.7"/>
<line x1="117.9" y1="52.9" x2="150.7" y2="52.9" stroke="rgba(140,110,250,0.55)" stroke-width="2"/>
<line x1="179.25" y1="18.1" x2="202.31" y2="18.1" stroke="#000" stroke-width="1.2"/>
<path d="M176.25,18.1 l5,-2.2 v4.4z M205.31,18.1 l-5,-2.2 v4.4z" fill="#000"/>
<path d="M0,0.22 C0.05,0.08 0.12,0.05 0.25,0.05 L1,0.05 M0.66,0.07 C0.52,0.35 0.45,0.6 0.46,0.78 C0.47,0.95 0.58,0.98 0.72,0.95" transform="translate(185.9,22.0) scale(5.9,6.6)" fill="none" stroke="#111" stroke-width="1.2" vector-effect="non-scaling-stroke" stroke-linecap="round"/>
<defs>
<clipPath id="cb"><rect x="43.0" y="208.0" width="262.4" height="139.2"/></clipPath>
</defs>
<g clip-path="url(#cb)">
<rect x="43.0" y="208.0" width="262.4" height="139.2" fill="#4d34a4"/>
<path d="M38.22,222.03l4.25 0.08 4.25 0.07 4.25 0.05 4.25 0.01 4.25 -0.05 4.25 -0.11 4.25 -0.19 4.25 -0.26 4.25 -0.33 4.25 -0.39 4.25 -0.43 4.25 -0.45 4.25 -0.44 4.25 -0.4 4.25 -0.33 4.25 -0.23 4.25 -0.1 4.25 0.05 4.25 0.21 4.25 0.37 4.25 0.53 4.25 0.67 4.25 0.79 4.25 0.88 4.25 0.92 4.25 0.92 4.25 0.88 4.25 0.79 4.25 0.67 4.25 0.5 4.25 0.31 4.25 0.11 4.25 -0.11 4.25 -0.31 4.25 -0.5 4.25 -0.67 4.25 -0.79 4.25 -0.88 4.25 -0.92 4.25 -0.92 4.25 -0.88 4.25 -0.79 4.25 -0.67 4.25 -0.53 4.25 -0.37 4.25 -0.21 4.25 -0.05 4.25 0.1 4.25 0.23 4.25 0.33 4.25 0.4 4.25 0.44 4.25 0.45 4.25 0.43 4.25 0.39 4.25 0.33 4.25 0.26 4.25 0.19 4.25 0.11 4.25 0.05 4.25 -0.01 4.25 -0.05 4.25 -0.07 4.25 -0.08" fill="none" stroke="#4c37a7" stroke-width="1.08"/>
<path d="M38.22,262.83l4.25 0.08 4.25 0.07 4.25 0.05 4.25 0.01 4.25 -0.05 4.25 -0.11 4.25 -0.19 4.25 -0.26 4.25 -0.33 4.25 -0.39 4.25 -0.43 4.25 -0.45 4.25 -0.44 4.25 -0.4 4.25 -0.33 4.25 -0.23 4.25 -0.1 4.25 0.05 4.25 0.21 4.25 0.37 4.25 0.53 4.25 0.67 4.25 0.79 4.25 0.88 4.25 0.92 4.25 0.92 4.25 0.88 4.25 0.79 4.25 0.67 4.25 0.5 4.25 0.31 4.25 0.11 4.25 -0.11 4.25 -0.31 4.25 -0.5 4.25 -0.67 4.25 -0.79 4.25 -0.88 4.25 -0.92 4.25 -0.92 4.25 -0.88 4.25 -0.79 4.25 -0.67 4.25 -0.53 4.25 -0.37 4.25 -0.21 4.25 -0.05 4.25 0.1 4.25 0.23 4.25 0.33 4.25 0.4 4.25 0.44 4.25 0.45 4.25 0.43 4.25 0.39 4.25 0.33 4.25 0.26 4.25 0.19 4.25 0.11 4.25 0.05 4.25 -0.01 4.25 -0.05 4.25 -0.07 4.25 -0.08" fill="none" stroke="#4c37a7" stroke-width="1.08"/>
<path d="M38.22,222.63l4.25 0.08 4.25 0.07 4.25 0.05 4.25 0.01 4.25 -0.05 4.25 -0.11 4.25 -0.19 4.25 -0.26 4.25 -0.33 4.25 -0.39 4.25 -0.43 4.25 -0.45 4.25 -0.44 4.25 -0.4 4.25 -0.33 4.25 -0.23 4.25 -0.1 4.25 0.05 4.25 0.21 4.25 0.37 4.25 0.53 4.25 0.67 4.25 0.79 4.25 0.88 4.25 0.92 4.25 0.92 4.25 0.88 4.25 0.79 4.25 0.67 4.25 0.5 4.25 0.31 4.25 0.11 4.25 -0.11 4.25 -0.31 4.25 -0.5 4.25 -0.67 4.25 -0.79 4.25 -0.88 4.25 -0.92 4.25 -0.92 4.25 -0.88 4.25 -0.79 4.25 -0.67 4.25 -0.53 4.25 -0.37 4.25 -0.21 4.25 -0.05 4.25 0.1 4.25 0.23 4.25 0.33 4.25 0.4 4.25 0.44 4.25 0.45 4.25 0.43 4.25 0.39 4.25 0.33 4.25 0.26 4.25 0.19 4.25 0.11 4.25 0.05 4.25 -0.01 4.25 -0.05 4.25 -0.07 4.25 -0.08" fill="none" stroke="#4b38a9" stroke-width="1.08"/>
<path d="M38.22,262.23l4.25 0.08 4.25 0.07 4.25 0.05 4.25 0.01 4.25 -0.05 4.25 -0.11 4.25 -0.19 4.25 -0.26 4.25 -0.33 4.25 -0.39 4.25 -0.43 4.25 -0.45 4.25 -0.44 4.25 -0.4 4.25 -0.33 4.25 -0.23 4.25 -0.1 4.25 0.05 4.25 0.21 4.25 0.37 4.25 0.53 4.25 0.67 4.25 0.79 4.25 0.88 4.25 0.92 4.25 0.92 4.25 0.88 4.25 0.79 4.25 0.67 4.25 0.5 4.25 0.31 4.25 0.11 4.25 -0.11 4.25 -0.31 4.25 -0.5 4.25 -0.67 4.25 -0.79 4.25 -0.88 4.25 -0.92 4.25 -0.92 4.25 -0.88 4.25 -0.79 4.25 -0.67 4.25 -0.53 4.25 -0.37 4.25 -0.21 4.25 -0.05 4.25 0.1 4.25 0.23 4.25 0.33 4.25 0.4 4.25 0.44 4.25 0.45 4.25 0.43 4.25 0.39 4.25 0.33 4.25 0.26 4.25 0.19 4.25 0.11 4.25 0.05 4.25 -0.01 4.25 -0.05 4.25 -0.07 4.25 -0.08" fill="none" stroke="#4b38a9" stroke-width="1.08"/>
<path d="M38.22,223.23l4.25 0.08 4.25 0.07 4.25 0.05 4.25 0.01 4.25 -0.05 4.25 -0.11 4.25 -0.19 4.25 -0.26 4.25 -0.33 4.25 -0.39 4.25 -0.43 4.25 -0.45 4.25 -0.44 4.25 -0.4 4.25 -0.33 4.25 -0.23 4.25 -0.1 4.25 0.05 4.25 0.21 4.25 0.37 4.25 0.53 4.25 0.67 4.25 0.79 4.25 0.88 4.25 0.92 4.25 0.92 4.25 0.88 4.25 0.79 4.25 0.67 4.25 0.5 4.25 0.31 4.25 0.11 4.25 -0.11 4.25 -0.31 4.25 -0.5 4.25 -0.67 4.25 -0.79 4.25 -0.88 4.25 -0.92 4.25 -0.92 4.25 -0.88 4.25 -0.79 4.25 -0.67 4.25 -0.53 4.25 -0.37 4.25 -0.21 4.25 -0.05 4.25 0.1 4.25 0.23 4.25 0.33 4.25 0.4 4.25 0.44 4.25 0.45 4.25 0.43 4.25 0.39 4.25 0.33 4.25 0.26 4.25 0.19 4.25 0.11 4.25 0.05 4.25 -0.01 4.25 -0.05 4.25 -0.07 4.25 -0.08" fill="none" stroke="#4b39aa" stroke-width="1.08"/>
<path d="M38.22,261.63l4.25 0.08 4.25 0.07 4.25 0.05 4.25 0.01 4.25 -0.05 4.25 -0.11 4.25 -0.19 4.25 -0.26 4.25 -0.33 4.25 -0.39 4.25 -0.43 4.25 -0.45 4.25 -0.44 4.25 -0.4 4.25 -0.33 4.25 -0.23 4.25 -0.1 4.25 0.05 4.25 0.21 4.25 0.37 4.25 0.53 4.25 0.67 4.25 0.79 4.25 0.88 4.25 0.92 4.25 0.92 4.25 0.88 4.25 0.79 4.25 0.67 4.25 0.5 4.25 0.31 4.25 0.11 4.25 -0.11 4.25 -0.31 4.25 -0.5 4.25 -0.67 4.25 -0.79 4.25 -0.88 4.25 -0.92 4.25 -0.92 4.25 -0.88 4.25 -0.79 4.25 -0.67 4.25 -0.53 4.25 -0.37 4.25 -0.21 4.25 -0.05 4.25 0.1 4.25 0.23 4.25 0.33 4.25 0.4 4.25 0.44 4.25 0.45 4.25 0.43 4.25 0.39 4.25 0.33 4.25 0.26 4.25 0.19 4.25 0.11 4.25 0.05 4.25 -0.01 4.25 -0.05 4.25 -0.07 4.25 -0.08" fill="none" stroke="#4b39aa" stroke-width="1.08"/>
<path d="M38.22,223.83l4.25 0.08 4.25 0.07 4.25 0.05 4.25 0.01 4.25 -0.05 4.25 -0.11 4.25 -0.19 4.25 -0.26 4.25 -0.33 4.25 -0.39 4.25 -0.43 4.25 -0.45 4.25 -0.44 4.25 -0.4 4.25 -0.33 4.25 -0.23 4.25 -0.1 4.25 0.05 4.25 0.21 4.25 0.37 4.25 0.53 4.25 0.67 4.25 0.79 4.25 0.88 4.25 0.92 4.25 0.92 4.25 0.88 4.25 0.79 4.25 0.67 4.25 0.5 4.25 0.31 4.25 0.11 4.25 -0.11 4.25 -0.31 4.25 -0.5 4.25 -0.67 4.25 -0.79 4.25 -0.88 4.25 -0.92 4.25 -0.92 4.25 -0.88 4.25 -0.79 4.25 -0.67 4.25 -0.53 4.25 -0.37 4.25 -0.21 4.25 -0.05 4.25 0.1 4.25 0.23 4.25 0.33 4.25 0.4 4.25 0.44 4.25 0.45 4.25 0.43 4.25 0.39 4.25 0.33 4.25 0.26 4.25 0.19 4.25 0.11 4.25 0.05 4.25 -0.01 4.25 -0.05 4.25 -0.07 4.25 -0.08" fill="none" stroke="#4a3bac" stroke-width="1.08"/>
<path d="M38.22,261.03l4.25 0.08 4.25 0.07 4.25 0.05 4.25 0.01 4.25 -0.05 4.25 -0.11 4.25 -0.19 4.25 -0.26 4.25 -0.33 4.25 -0.39 4.25 -0.43 4.25 -0.45 4.25 -0.44 4.25 -0.4 4.25 -0.33 4.25 -0.23 4.25 -0.1 4.25 0.05 4.25 0.21 4.25 0.37 4.25 0.53 4.25 0.67 4.25 0.79 4.25 0.88 4.25 0.92 4.25 0.92 4.25 0.88 4.25 0.79 4.25 0.67 4.25 0.5 4.25 0.31 4.25 0.11 4.25 -0.11 4.25 -0.31 4.25 -0.5 4.25 -0.67 4.25 -0.79 4.25 -0.88 4.25 -0.92 4.25 -0.92 4.25 -0.88 4.25 -0.79 4.25 -0.67 4.25 -0.53 4.25 -0.37 4.25 -0.21 4.25 -0.05 4.25 0.1 4.25 0.23 4.25 0.33 4.25 0.4 4.25 0.44 4.25 0.45 4.25 0.43 4.25 0.39 4.25 0.33 4.25 0.26 4.25 0.19 4.25 0.11 4.25 0.05 4.25 -0.01 4.25 -0.05 4.25 -0.07 4.25 -0.08" fill="none" stroke="#4a3bac" stroke-width="1.08"/>
<path d="M38.22,224.43l4.25 0.08 4.25 0.07 4.25 0.05 4.25 0.01 4.25 -0.05 4.25 -0.11 4.25 -0.19 4.25 -0.26 4.25 -0.33 4.25 -0.39 4.25 -0.43 4.25 -0.45 4.25 -0.44 4.25 -0.4 4.25 -0.33 4.25 -0.23 4.25 -0.1 4.25 0.05 4.25 0.21 4.25 0.37 4.25 0.53 4.25 0.67 4.25 0.79 4.25 0.88 4.25 0.92 4.25 0.92 4.25 0.88 4.25 0.79 4.25 0.67 4.25 0.5 4.25 0.31 4.25 0.11 4.25 -0.11 4.25 -0.31 4.25 -0.5 4.25 -0.67 4.25 -0.79 4.25 -0.88 4.25 -0.92 4.25 -0.92 4.25 -0.88 4.25 -0.79 4.25 -0.67 4.25 -0.53 4.25 -0.37 4.25 -0.21 4.25 -0.05 4.25 0.1 4.25 0.23 4.25 0.33 4.25 0.4 4.25 0.44 4.25 0.45 4.25 0.43 4.25 0.39 4.25 0.33 4.25 0.26 4.25 0.19 4.25 0.11 4.25 0.05 4.25 -0.01 4.25 -0.05 4.25 -0.07 4.25 -0.08" fill="none" stroke="#493eaf" stroke-width="1.08"/>
<path d="M38.22,260.43l4.25 0.08 4.25 0.07 4.25 0.05 4.25 0.01 4.25 -0.05 4.25 -0.11 4.25 -0.19 4.25 -0.26 4.25 -0.33 4.25 -0.39 4.25 -0.43 4.25 -0.45 4.25 -0.44 4.25 -0.4 4.25 -0.33 4.25 -0.23 4.25 -0.1 4.25 0.05 4.25 0.21 4.25 0.37 4.25 0.53 4.25 0.67 4.25 0.79 4.25 0.88 4.25 0.92 4.25 0.92 4.25 0.88 4.25 0.79 4.25 0.67 4.25 0.5 4.25 0.31 4.25 0.11 4.25 -0.11 4.25 -0.31 4.25 -0.5 4.25 -0.67 4.25 -0.79 4.25 -0.88 4.25 -0.92 4.25 -0.92 4.25 -0.88 4.25 -0.79 4.25 -0.67 4.25 -0.53 4.25 -0.37 4.25 -0.21 4.25 -0.05 4.25 0.1 4.25 0.23 4.25 0.33 4.25 0.4 4.25 0.44 4.25 0.45 4.25 0.43 4.25 0.39 4.25 0.33 4.25 0.26 4.25 0.19 4.25 0.11 4.25 0.05 4.25 -0.01 4.25 -0.05 4.25 -0.07 4.25 -0.08" fill="none" stroke="#493eaf" stroke-width="1.08"/>
<path d="M38.22,225.03l4.25 0.08 4.25 0.07 4.25 0.05 4.25 0.01 4.25 -0.05 4.25 -0.11 4.25 -0.19 4.25 -0.26 4.25 -0.33 4.25 -0.39 4.25 -0.43 4.25 -0.45 4.25 -0.44 4.25 -0.4 4.25 -0.33 4.25 -0.23 4.25 -0.1 4.25 0.05 4.25 0.21 4.25 0.37 4.25 0.53 4.25 0.67 4.25 0.79 4.25 0.88 4.25 0.92 4.25 0.92 4.25 0.88 4.25 0.79 4.25 0.67 4.25 0.5 4.25 0.31 4.25 0.11 4.25 -0.11 4.25 -0.31 4.25 -0.5 4.25 -0.67 4.25 -0.79 4.25 -0.88 4.25 -0.92 4.25 -0.92 4.25 -0.88 4.25 -0.79 4.25 -0.67 4.25 -0.53 4.25 -0.37 4.25 -0.21 4.25 -0.05 4.25 0.1 4.25 0.23 4.25 0.33 4.25 0.4 4.25 0.44 4.25 0.45 4.25 0.43 4.25 0.39 4.25 0.33 4.25 0.26 4.25 0.19 4.25 0.11 4.25 0.05 4.25 -0.01 4.25 -0.05 4.25 -0.07 4.25 -0.08" fill="none" stroke="#4741b2" stroke-width="1.08"/>
<path d="M38.22,259.83l4.25 0.08 4.25 0.07 4.25 0.05 4.25 0.01 4.25 -0.05 4.25 -0.11 4.25 -0.19 4.25 -0.26 4.25 -0.33 4.25 -0.39 4.25 -0.43 4.25 -0.45 4.25 -0.44 4.25 -0.4 4.25 -0.33 4.25 -0.23 4.25 -0.1 4.25 0.05 4.25 0.21 4.25 0.37 4.25 0.53 4.25 0.67 4.25 0.79 4.25 0.88 4.25 0.92 4.25 0.92 4.25 0.88 4.25 0.79 4.25 0.67 4.25 0.5 4.25 0.31 4.25 0.11 4.25 -0.11 4.25 -0.31 4.25 -0.5 4.25 -0.67 4.25 -0.79 4.25 -0.88 4.25 -0.92 4.25 -0.92 4.25 -0.88 4.25 -0.79 4.25 -0.67 4.25 -0.53 4.25 -0.37 4.25 -0.21 4.25 -0.05 4.25 0.1 4.25 0.23 4.25 0.33 4.25 0.4 4.25 0.44 4.25 0.45 4.25 0.43 4.25 0.39 4.25 0.33 4.25 0.26 4.25 0.19 4.25 0.11 4.25 0.05 4.25 -0.01 4.25 -0.05 4.25 -0.07 4.25 -0.08" fill="none" stroke="#4741b2" stroke-width="1.08"/>
<path d="M38.22,225.63l4.25 0.08 4.25 0.07 4.25 0.05 4.25 0.01 4.25 -0.05 4.25 -0.11 4.25 -0.19 4.25 -0.26 4.25 -0.33 4.25 -0.39 4.25 -0.43 4.25 -0.45 4.25 -0.44 4.25 -0.4 4.25 -0.33 4.25 -0.23 4.25 -0.1 4.25 0.05 4.25 0.21 4.25 0.37 4.25 0.53 4.25 0.67 4.25 0.79 4.25 0.88 4.25 0.92 4.25 0.92 4.25 0.88 4.25 0.79 4.25 0.67 4.25 0.5 4.25 0.31 4.25 0.11 4.25 -0.11 4.25 -0.31 4.25 -0.5 4.25 -0.67 4.25 -0.79 4.25 -0.88 4.25 -0.92 4.25 -0.92 4.25 -0.88 4.25 -0.79 4.25 -0.67 4.25 -0.53 4.25 -0.37 4.25 -0.21 4.25 -0.05 4.25 0.1 4.25 0.23 4.25 0.33 4.25 0.4 4.25 0.44 4.25 0.45 4.25 0.43 4.25 0.39 4.25 0.33 4.25 0.26 4.25 0.19 4.25 0.11 4.25 0.05 4.25 -0.01 4.25 -0.05 4.25 -0.07 4.25 -0.08" fill="none" stroke="#4644b6" stroke-width="1.08"/>
<path d="M38.22,259.23l4.25 0.08 4.25 0.07 4.25 0.05 4.25 0.01 4.25 -0.05 4.25 -0.11 4.25 -0.19 4.25 -0.26 4.25 -0.33 4.25 -0.39 4.25 -0.43 4.25 -0.45 4.25 -0.44 4.25 -0.4 4.25 -0.33 4.25 -0.23 4.25 -0.1 4.25 0.05 4.25 0.21 4.25 0.37 4.25 0.53 4.25 0.67 4.25 0.79 4.25 0.88 4.25 0.92 4.25 0.92 4.25 0.88 4.25 0.79 4.25 0.67 4.25 0.5 4.25 0.31 4.25 0.11 4.25 -0.11 4.25 -0.31 4.25 -0.5 4.25 -0.67 4.25 -0.79 4.25 -0.88 4.25 -0.92 4.25 -0.92 4.25 -0.88 4.25 -0.79 4.25 -0.67 4.25 -0.53 4.25 -0.37 4.25 -0.21 4.25 -0.05 4.25 0.1 4.25 0.23 4.25 0.33 4.25 0.4 4.25 0.44 4.25 0.45 4.25 0.43 4.25 0.39 4.25 0.33 4.25 0.26 4.25 0.19 4.25 0.11 4.25 0.05 4.25 -0.01 4.25 -0.05 4.25 -0.07 4.25 -0.08" fill="none" stroke="#4644b6" stroke-width="1.08"/>
<path d="M38.22,226.23l4.25 0.08 4.25 0.07 4.25 0.05 4.25 0.01 4.25 -0.05 4.25 -0.11 4.25 -0.19 4.25 -0.26 4.25 -0.33 4.25 -0.39 4.25 -0.43 4.25 -0.45 4.25 -0.44 4.25 -0.4 4.25 -0.33 4.25 -0.23 4.25 -0.1 4.25 0.05 4.25 0.21 4.25 0.37 4.25 0.53 4.25 0.67 4.25 0.79 4.25 0.88 4.25 0.92 4.25 0.92 4.25 0.88 4.25 0.79 4.25 0.67 4.25 0.5 4.25 0.31 4.25 0.11 4.25 -0.11 4.25 -0.31 4.25 -0.5 4.25 -0.67 4.25 -0.79 4.25 -0.88 4.25 -0.92 4.25 -0.92 4.25 -0.88 4.25 -0.79 4.25 -0.67 4.25 -0.53 4.25 -0.37 4.25 -0.21 4.25 -0.05 4.25 0.1 4.25 0.23 4.25 0.33 4.25 0.4 4.25 0.44 4.25 0.45 4.25 0.43 4.25 0.39 4.25 0.33 4.25 0.26 4.25 0.19 4.25 0.11 4.25 0.05 4.25 -0.01 4.25 -0.05 4.25 -0.07 4.25 -0.08" fill="none" stroke="#434cbc" stroke-width="1.08"/>
<path d="M38.22,258.63l4.25 0.08 4.25 0.07 4.25 0.05 4.25 0.01 4.25 -0.05 4.25 -0.11 4.25 -0.19 4.25 -0.26 4.25 -0.33 4.25 -0.39 4.25 -0.43 4.25 -0.45 4.25 -0.44 4.25 -0.4 4.25 -0.33 4.25 -0.23 4.25 -0.1 4.25 0.05 4.25 0.21 4.25 0.37 4.25 0.53 4.25 0.67 4.25 0.79 4.25 0.88 4.25 0.92 4.25 0.92 4.25 0.88 4.25 0.79 4.25 0.67 4.25 0.5 4.25 0.31 4.25 0.11 4.25 -0.11 4.25 -0.31 4.25 -0.5 4.25 -0.67 4.25 -0.79 4.25 -0.88 4.25 -0.92 4.25 -0.92 4.25 -0.88 4.25 -0.79 4.25 -0.67 4.25 -0.53 4.25 -0.37 4.25 -0.21 4.25 -0.05 4.25 0.1 4.25 0.23 4.25 0.33 4.25 0.4 4.25 0.44 4.25 0.45 4.25 0.43 4.25 0.39 4.25 0.33 4.25 0.26 4.25 0.19 4.25 0.11 4.25 0.05 4.25 -0.01 4.25 -0.05 4.25 -0.07 4.25 -0.08" fill="none" stroke="#434cbc" stroke-width="1.08"/>
<path d="M38.22,226.83l4.25 0.08 4.25 0.07 4.25 0.05 4.25 0.01 4.25 -0.05 4.25 -0.11 4.25 -0.19 4.25 -0.26 4.25 -0.33 4.25 -0.39 4.25 -0.43 4.25 -0.45 4.25 -0.44 4.25 -0.4 4.25 -0.33 4.25 -0.23 4.25 -0.1 4.25 0.05 4.25 0.21 4.25 0.37 4.25 0.53 4.25 0.67 4.25 0.79 4.25 0.88 4.25 0.92 4.25 0.92 4.25 0.88 4.25 0.79 4.25 0.67 4.25 0.5 4.25 0.31 4.25 0.11 4.25 -0.11 4.25 -0.31 4.25 -0.5 4.25 -0.67 4.25 -0.79 4.25 -0.88 4.25 -0.92 4.25 -0.92 4.25 -0.88 4.25 -0.79 4.25 -0.67 4.25 -0.53 4.25 -0.37 4.25 -0.21 4.25 -0.05 4.25 0.1 4.25 0.23 4.25 0.33 4.25 0.4 4.25 0.44 4.25 0.45 4.25 0.43 4.25 0.39 4.25 0.33 4.25 0.26 4.25 0.19 4.25 0.11 4.25 0.05 4.25 -0.01 4.25 -0.05 4.25 -0.07 4.25 -0.08" fill="none" stroke="#3d62ca" stroke-width="1.08"/>
<path d="M38.22,258.03l4.25 0.08 4.25 0.07 4.25 0.05 4.25 0.01 4.25 -0.05 4.25 -0.11 4.25 -0.19 4.25 -0.26 4.25 -0.33 4.25 -0.39 4.25 -0.43 4.25 -0.45 4.25 -0.44 4.25 -0.4 4.25 -0.33 4.25 -0.23 4.25 -0.1 4.25 0.05 4.25 0.21 4.25 0.37 4.25 0.53 4.25 0.67 4.25 0.79 4.25 0.88 4.25 0.92 4.25 0.92 4.25 0.88 4.25 0.79 4.25 0.67 4.25 0.5 4.25 0.31 4.25 0.11 4.25 -0.11 4.25 -0.31 4.25 -0.5 4.25 -0.67 4.25 -0.79 4.25 -0.88 4.25 -0.92 4.25 -0.92 4.25 -0.88 4.25 -0.79 4.25 -0.67 4.25 -0.53 4.25 -0.37 4.25 -0.21 4.25 -0.05 4.25 0.1 4.25 0.23 4.25 0.33 4.25 0.4 4.25 0.44 4.25 0.45 4.25 0.43 4.25 0.39 4.25 0.33 4.25 0.26 4.25 0.19 4.25 0.11 4.25 0.05 4.25 -0.01 4.25 -0.05 4.25 -0.07 4.25 -0.08" fill="none" stroke="#3d62ca" stroke-width="1.08"/>
<path d="M38.22,227.43l4.25 0.08 4.25 0.07 4.25 0.05 4.25 0.01 4.25 -0.05 4.25 -0.11 4.25 -0.19 4.25 -0.26 4.25 -0.33 4.25 -0.39 4.25 -0.43 4.25 -0.45 4.25 -0.44 4.25 -0.4 4.25 -0.33 4.25 -0.23 4.25 -0.1 4.25 0.05 4.25 0.21 4.25 0.37 4.25 0.53 4.25 0.67 4.25 0.79 4.25 0.88 4.25 0.92 4.25 0.92 4.25 0.88 4.25 0.79 4.25 0.67 4.25 0.5 4.25 0.31 4.25 0.11 4.25 -0.11 4.25 -0.31 4.25 -0.5 4.25 -0.67 4.25 -0.79 4.25 -0.88 4.25 -0.92 4.25 -0.92 4.25 -0.88 4.25 -0.79 4.25 -0.67 4.25 -0.53 4.25 -0.37 4.25 -0.21 4.25 -0.05 4.25 0.1 4.25 0.23 4.25 0.33 4.25 0.4 4.25 0.44 4.25 0.45 4.25 0.43 4.25 0.39 4.25 0.33 4.25 0.26 4.25 0.19 4.25 0.11 4.25 0.05 4.25 -0.01 4.25 -0.05 4.25 -0.07 4.25 -0.08" fill="none" stroke="#357dda" stroke-width="1.08"/>
<path d="M38.22,257.43l4.25 0.08 4.25 0.07 4.25 0.05 4.25 0.01 4.25 -0.05 4.25 -0.11 4.25 -0.19 4.25 -0.26 4.25 -0.33 4.25 -0.39 4.25 -0.43 4.25 -0.45 4.25 -0.44 4.25 -0.4 4.25 -0.33 4.25 -0.23 4.25 -0.1 4.25 0.05 4.25 0.21 4.25 0.37 4.25 0.53 4.25 0.67 4.25 0.79 4.25 0.88 4.25 0.92 4.25 0.92 4.25 0.88 4.25 0.79 4.25 0.67 4.25 0.5 4.25 0.31 4.25 0.11 4.25 -0.11 4.25 -0.31 4.25 -0.5 4.25 -0.67 4.25 -0.79 4.25 -0.88 4.25 -0.92 4.25 -0.92 4.25 -0.88 4.25 -0.79 4.25 -0.67 4.25 -0.53 4.25 -0.37 4.25 -0.21 4.25 -0.05 4.25 0.1 4.25 0.23 4.25 0.33 4.25 0.4 4.25 0.44 4.25 0.45 4.25 0.43 4.25 0.39 4.25 0.33 4.25 0.26 4.25 0.19 4.25 0.11 4.25 0.05 4.25 -0.01 4.25 -0.05 4.25 -0.07 4.25 -0.08" fill="none" stroke="#357dda" stroke-width="1.08"/>
<path d="M38.22,228.03l4.25 0.08 4.25 0.07 4.25 0.05 4.25 0.01 4.25 -0.05 4.25 -0.11 4.25 -0.19 4.25 -0.26 4.25 -0.33 4.25 -0.39 4.25 -0.43 4.25 -0.45 4.25 -0.44 4.25 -0.4 4.25 -0.33 4.25 -0.23 4.25 -0.1 4.25 0.05 4.25 0.21 4.25 0.37 4.25 0.53 4.25 0.67 4.25 0.79 4.25 0.88 4.25 0.92 4.25 0.92 4.25 0.88 4.25 0.79 4.25 0.67 4.25 0.5 4.25 0.31 4.25 0.11 4.25 -0.11 4.25 -0.31 4.25 -0.5 4.25 -0.67 4.25 -0.79 4.25 -0.88 4.25 -0.92 4.25 -0.92 4.25 -0.88 4.25 -0.79 4.25 -0.67 4.25 -0.53 4.25 -0.37 4.25 -0.21 4.25 -0.05 4.25 0.1 4.25 0.23 4.25 0.33 4.25 0.4 4.25 0.44 4.25 0.45 4.25 0.43 4.25 0.39 4.25 0.33 4.25 0.26 4.25 0.19 4.25 0.11 4.25 0.05 4.25 -0.01 4.25 -0.05 4.25 -0.07 4.25 -0.08" fill="none" stroke="#30a4e4" stroke-width="1.08"/>
<path d="M38.22,256.83l4.25 0.08 4.25 0.07 4.25 0.05 4.25 0.01 4.25 -0.05 4.25 -0.11 4.25 -0.19 4.25 -0.26 4.25 -0.33 4.25 -0.39 4.25 -0.43 4.25 -0.45 4.25 -0.44 4.25 -0.4 4.25 -0.33 4.25 -0.23 4.25 -0.1 4.25 0.05 4.25 0.21 4.25 0.37 4.25 0.53 4.25 0.67 4.25 0.79 4.25 0.88 4.25 0.92 4.25 0.92 4.25 0.88 4.25 0.79 4.25 0.67 4.25 0.5 4.25 0.31 4.25 0.11 4.25 -0.11 4.25 -0.31 4.25 -0.5 4.25 -0.67 4.25 -0.79 4.25 -0.88 4.25 -0.92 4.25 -0.92 4.25 -0.88 4.25 -0.79 4.25 -0.67 4.25 -0.53 4.25 -0.37 4.25 -0.21 4.25 -0.05 4.25 0.1 4.25 0.23 4.25 0.33 4.25 0.4 4.25 0.44 4.25 0.45 4.25 0.43 4.25 0.39 4.25 0.33 4.25 0.26 4.25 0.19 4.25 0.11 4.25 0.05 4.25 -0.01 4.25 -0.05 4.25 -0.07 4.25 -0.08" fill="none" stroke="#30a4e4" stroke-width="1.08"/>
<path d="M38.22,228.63l4.25 0.08 4.25 0.07 4.25 0.05 4.25 0.01 4.25 -0.05 4.25 -0.11 4.25 -0.19 4.25 -0.26 4.25 -0.33 4.25 -0.39 4.25 -0.43 4.25 -0.45 4.25 -0.44 4.25 -0.4 4.25 -0.33 4.25 -0.23 4.25 -0.1 4.25 0.05 4.25 0.21 4.25 0.37 4.25 0.53 4.25 0.67 4.25 0.79 4.25 0.88 4.25 0.92 4.25 0.92 4.25 0.88 4.25 0.79 4.25 0.67 4.25 0.5 4.25 0.31 4.25 0.11 4.25 -0.11 4.25 -0.31 4.25 -0.5 4.25 -0.67 4.25 -0.79 4.25 -0.88 4.25 -0.92 4.25 -0.92 4.25 -0.88 4.25 -0.79 4.25 -0.67 4.25 -0.53 4.25 -0.37 4.25 -0.21 4.25 -0.05 4.25 0.1 4.25 0.23 4.25 0.33 4.25 0.4 4.25 0.44 4.25 0.45 4.25 0.43 4.25 0.39 4.25 0.33 4.25 0.26 4.25 0.19 4.25 0.11 4.25 0.05 4.25 -0.01 4.25 -0.05 4.25 -0.07 4.25 -0.08" fill="none" stroke="#2bb7d9" stroke-width="1.08"/>
<path d="M38.22,256.23l4.25 0.08 4.25 0.07 4.25 0.05 4.25 0.01 4.25 -0.05 4.25 -0.11 4.25 -0.19 4.25 -0.26 4.25 -0.33 4.25 -0.39 4.25 -0.43 4.25 -0.45 4.25 -0.44 4.25 -0.4 4.25 -0.33 4.25 -0.23 4.25 -0.1 4.25 0.05 4.25 0.21 4.25 0.37 4.25 0.53 4.25 0.67 4.25 0.79 4.25 0.88 4.25 0.92 4.25 0.92 4.25 0.88 4.25 0.79 4.25 0.67 4.25 0.5 4.25 0.31 4.25 0.11 4.25 -0.11 4.25 -0.31 4.25 -0.5 4.25 -0.67 4.25 -0.79 4.25 -0.88 4.25 -0.92 4.25 -0.92 4.25 -0.88 4.25 -0.79 4.25 -0.67 4.25 -0.53 4.25 -0.37 4.25 -0.21 4.25 -0.05 4.25 0.1 4.25 0.23 4.25 0.33 4.25 0.4 4.25 0.44 4.25 0.45 4.25 0.43 4.25 0.39 4.25 0.33 4.25 0.26 4.25 0.19 4.25 0.11 4.25 0.05 4.25 -0.01 4.25 -0.05 4.25 -0.07 4.25 -0.08" fill="none" stroke="#2bb7d9" stroke-width="1.08"/>
<path d="M38.22,229.23l4.25 0.08 4.25 0.07 4.25 0.05 4.25 0.01 4.25 -0.05 4.25 -0.11 4.25 -0.19 4.25 -0.26 4.25 -0.33 4.25 -0.39 4.25 -0.43 4.25 -0.45 4.25 -0.44 4.25 -0.4 4.25 -0.33 4.25 -0.23 4.25 -0.1 4.25 0.05 4.25 0.21 4.25 0.37 4.25 0.53 4.25 0.67 4.25 0.79 4.25 0.88 4.25 0.92 4.25 0.92 4.25 0.88 4.25 0.79 4.25 0.67 4.25 0.5 4.25 0.31 4.25 0.11 4.25 -0.11 4.25 -0.31 4.25 -0.5 4.25 -0.67 4.25 -0.79 4.25 -0.88 4.25 -0.92 4.25 -0.92 4.25 -0.88 4.25 -0.79 4.25 -0.67 4.25 -0.53 4.25 -0.37 4.25 -0.21 4.25 -0.05 4.25 0.1 4.25 0.23 4.25 0.33 4.25 0.4 4.25 0.44 4.25 0.45 4.25 0.43 4.25 0.39 4.25 0.33 4.25 0.26 4.25 0.19 4.25 0.11 4.25 0.05 4.25 -0.01 4.25 -0.05 4.25 -0.07 4.25 -0.08" fill="none" stroke="#23b0a2" stroke-width="1.08"/>
<path d="M38.22,255.63l4.25 0.08 4.25 0.07 4.25 0.05 4.25 0.01 4.25 -0.05 4.25 -0.11 4.25 -0.19 4.25 -0.26 4.25 -0.33 4.25 -0.39 4.25 -0.43 4.25 -0.45 4.25 -0.44 4.25 -0.4 4.25 -0.33 4.25 -0.23 4.25 -0.1 4.25 0.05 4.25 0.21 4.25 0.37 4.25 0.53 4.25 0.67 4.25 0.79 4.25 0.88 4.25 0.92 4.25 0.92 4.25 0.88 4.25 0.79 4.25 0.67 4.25 0.5 4.25 0.31 4.25 0.11 4.25 -0.11 4.25 -0.31 4.25 -0.5 4.25 -0.67 4.25 -0.79 4.25 -0.88 4.25 -0.92 4.25 -0.92 4.25 -0.88 4.25 -0.79 4.25 -0.67 4.25 -0.53 4.25 -0.37 4.25 -0.21 4.25 -0.05 4.25 0.1 4.25 0.23 4.25 0.33 4.25 0.4 4.25 0.44 4.25 0.45 4.25 0.43 4.25 0.39 4.25 0.33 4.25 0.26 4.25 0.19 4.25 0.11 4.25 0.05 4.25 -0.01 4.25 -0.05 4.25 -0.07 4.25 -0.08" fill="none" stroke="#23b0a2" stroke-width="1.08"/>
<path d="M38.22,229.83l4.25 0.08 4.25 0.07 4.25 0.05 4.25 0.01 4.25 -0.05 4.25 -0.11 4.25 -0.19 4.25 -0.26 4.25 -0.33 4.25 -0.39 4.25 -0.43 4.25 -0.45 4.25 -0.44 4.25 -0.4 4.25 -0.33 4.25 -0.23 4.25 -0.1 4.25 0.05 4.25 0.21 4.25 0.37 4.25 0.53 4.25 0.67 4.25 0.79 4.25 0.88 4.25 0.92 4.25 0.92 4.25 0.88 4.25 0.79 4.25 0.67 4.25 0.5 4.25 0.31 4.25 0.11 4.25 -0.11 4.25 -0.31 4.25 -0.5 4.25 -0.67 4.25 -0.79 4.25 -0.88 4.25 -0.92 4.25 -0.92 4.25 -0.88 4.25 -0.79 4.25 -0.67 4.25 -0.53 4.25 -0.37 4.25 -0.21 4.25 -0.05 4.25 0.1 4.25 0.23 4.25 0.33 4.25 0.4 4.25 0.44 4.25 0.45 4.25 0.43 4.25 0.39 4.25 0.33 4.25 0.26 4.25 0.19 4.25 0.11 4.25 0.05 4.25 -0.01 4.25 -0.05 4.25 -0.07 4.25 -0.08" fill="none" stroke="#1fa76b" stroke-width="1.08"/>
<path d="M38.22,255.03l4.25 0.08 4.25 0.07 4.25 0.05 4.25 0.01 4.25 -0.05 4.25 -0.11 4.25 -0.19 4.25 -0.26 4.25 -0.33 4.25 -0.39 4.25 -0.43 4.25 -0.45 4.25 -0.44 4.25 -0.4 4.25 -0.33 4.25 -0.23 4.25 -0.1 4.25 0.05 4.25 0.21 4.25 0.37 4.25 0.53 4.25 0.67 4.25 0.79 4.25 0.88 4.25 0.92 4.25 0.92 4.25 0.88 4.25 0.79 4.25 0.67 4.25 0.5 4.25 0.31 4.25 0.11 4.25 -0.11 4.25 -0.31 4.25 -0.5 4.25 -0.67 4.25 -0.79 4.25 -0.88 4.25 -0.92 4.25 -0.92 4.25 -0.88 4.25 -0.79 4.25 -0.67 4.25 -0.53 4.25 -0.37 4.25 -0.21 4.25 -0.05 4.25 0.1 4.25 0.23 4.25 0.33 4.25 0.4 4.25 0.44 4.25 0.45 4.25 0.43 4.25 0.39 4.25 0.33 4.25 0.26 4.25 0.19 4.25 0.11 4.25 0.05 4.25 -0.01 4.25 -0.05 4.25 -0.07 4.25 -0.08" fill="none" stroke="#1fa76b" stroke-width="1.08"/>
<path d="M38.22,230.43l4.25 0.08 4.25 0.07 4.25 0.05 4.25 0.01 4.25 -0.05 4.25 -0.11 4.25 -0.19 4.25 -0.26 4.25 -0.33 4.25 -0.39 4.25 -0.43 4.25 -0.45 4.25 -0.44 4.25 -0.4 4.25 -0.33 4.25 -0.23 4.25 -0.1 4.25 0.05 4.25 0.21 4.25 0.37 4.25 0.53 4.25 0.67 4.25 0.79 4.25 0.88 4.25 0.92 4.25 0.92 4.25 0.88 4.25 0.79 4.25 0.67 4.25 0.5 4.25 0.31 4.25 0.11 4.25 -0.11 4.25 -0.31 4.25 -0.5 4.25 -0.67 4.25 -0.79 4.25 -0.88 4.25 -0.92 4.25 -0.92 4.25 -0.88 4.25 -0.79 4.25 -0.67 4.25 -0.53 4.25 -0.37 4.25 -0.21 4.25 -0.05 4.25 0.1 4.25 0.23 4.25 0.33 4.25 0.4 4.25 0.44 4.25 0.45 4.25 0.43 4.25 0.39 4.25 0.33 4.25 0.26 4.25 0.19 4.25 0.11 4.25 0.05 4.25 -0.01 4.25 -0.05 4.25 -0.07 4.25 -0.08" fill="none" stroke="#22a753" stroke-width="1.08"/>
<path d="M38.22,254.43l4.25 0.08 4.25 0.07 4.25 0.05 4.25 0.01 4.25 -0.05 4.25 -0.11 4.25 -0.19 4.25 -0.26 4.25 -0.33 4.25 -0.39 4.25 -0.43 4.25 -0.45 4.25 -0.44 4.25 -0.4 4.25 -0.33 4.25 -0.23 4.25 -0.1 4.25 0.05 4.25 0.21 4.25 0.37 4.25 0.53 4.25 0.67 4.25 0.79 4.25 0.88 4.25 0.92 4.25 0.92 4.25 0.88 4.25 0.79 4.25 0.67 4.25 0.5 4.25 0.31 4.25 0.11 4.25 -0.11 4.25 -0.31 4.25 -0.5 4.25 -0.67 4.25 -0.79 4.25 -0.88 4.25 -0.92 4.25 -0.92 4.25 -0.88 4.25 -0.79 4.25 -0.67 4.25 -0.53 4.25 -0.37 4.25 -0.21 4.25 -0.05 4.25 0.1 4.25 0.23 4.25 0.33 4.25 0.4 4.25 0.44 4.25 0.45 4.25 0.43 4.25 0.39 4.25 0.33 4.25 0.26 4.25 0.19 4.25 0.11 4.25 0.05 4.25 -0.01 4.25 -0.05 4.25 -0.07 4.25 -0.08" fill="none" stroke="#22a753" stroke-width="1.08"/>
<path d="M38.22,231.03l4.25 0.08 4.25 0.07 4.25 0.05 4.25 0.01 4.25 -0.05 4.25 -0.11 4.25 -0.19 4.25 -0.26 4.25 -0.33 4.25 -0.39 4.25 -0.43 4.25 -0.45 4.25 -0.44 4.25 -0.4 4.25 -0.33 4.25 -0.23 4.25 -0.1 4.25 0.05 4.25 0.21 4.25 0.37 4.25 0.53 4.25 0.67 4.25 0.79 4.25 0.88 4.25 0.92 4.25 0.92 4.25 0.88 4.25 0.79 4.25 0.67 4.25 0.5 4.25 0.31 4.25 0.11 4.25 -0.11 4.25 -0.31 4.25 -0.5 4.25 -0.67 4.25 -0.79 4.25 -0.88 4.25 -0.92 4.25 -0.92 4.25 -0.88 4.25 -0.79 4.25 -0.67 4.25 -0.53 4.25 -0.37 4.25 -0.21 4.25 -0.05 4.25 0.1 4.25 0.23 4.25 0.33 4.25 0.4 4.25 0.44 4.25 0.45 4.25 0.43 4.25 0.39 4.25 0.33 4.25 0.26 4.25 0.19 4.25 0.11 4.25 0.05 4.25 -0.01 4.25 -0.05 4.25 -0.07 4.25 -0.08" fill="none" stroke="#2cac4e" stroke-width="1.08"/>
<path d="M38.22,253.83l4.25 0.08 4.25 0.07 4.25 0.05 4.25 0.01 4.25 -0.05 4.25 -0.11 4.25 -0.19 4.25 -0.26 4.25 -0.33 4.25 -0.39 4.25 -0.43 4.25 -0.45 4.25 -0.44 4.25 -0.4 4.25 -0.33 4.25 -0.23 4.25 -0.1 4.25 0.05 4.25 0.21 4.25 0.37 4.25 0.53 4.25 0.67 4.25 0.79 4.25 0.88 4.25 0.92 4.25 0.92 4.25 0.88 4.25 0.79 4.25 0.67 4.25 0.5 4.25 0.31 4.25 0.11 4.25 -0.11 4.25 -0.31 4.25 -0.5 4.25 -0.67 4.25 -0.79 4.25 -0.88 4.25 -0.92 4.25 -0.92 4.25 -0.88 4.25 -0.79 4.25 -0.67 4.25 -0.53 4.25 -0.37 4.25 -0.21 4.25 -0.05 4.25 0.1 4.25 0.23 4.25 0.33 4.25 0.4 4.25 0.44 4.25 0.45 4.25 0.43 4.25 0.39 4.25 0.33 4.25 0.26 4.25 0.19 4.25 0.11 4.25 0.05 4.25 -0.01 4.25 -0.05 4.25 -0.07 4.25 -0.08" fill="none" stroke="#2cac4e" stroke-width="1.08"/>
<path d="M38.22,231.63l4.25 0.08 4.25 0.07 4.25 0.05 4.25 0.01 4.25 -0.05 4.25 -0.11 4.25 -0.19 4.25 -0.26 4.25 -0.33 4.25 -0.39 4.25 -0.43 4.25 -0.45 4.25 -0.44 4.25 -0.4 4.25 -0.33 4.25 -0.23 4.25 -0.1 4.25 0.05 4.25 0.21 4.25 0.37 4.25 0.53 4.25 0.67 4.25 0.79 4.25 0.88 4.25 0.92 4.25 0.92 4.25 0.88 4.25 0.79 4.25 0.67 4.25 0.5 4.25 0.31 4.25 0.11 4.25 -0.11 4.25 -0.31 4.25 -0.5 4.25 -0.67 4.25 -0.79 4.25 -0.88 4.25 -0.92 4.25 -0.92 4.25 -0.88 4.25 -0.79 4.25 -0.67 4.25 -0.53 4.25 -0.37 4.25 -0.21 4.25 -0.05 4.25 0.1 4.25 0.23 4.25 0.33 4.25 0.4 4.25 0.44 4.25 0.45 4.25 0.43 4.25 0.39 4.25 0.33 4.25 0.26 4.25 0.19 4.25 0.11 4.25 0.05 4.25 -0.01 4.25 -0.05 4.25 -0.07 4.25 -0.08" fill="none" stroke="#38b149" stroke-width="1.08"/>
<path d="M38.22,253.23l4.25 0.08 4.25 0.07 4.25 0.05 4.25 0.01 4.25 -0.05 4.25 -0.11 4.25 -0.19 4.25 -0.26 4.25 -0.33 4.25 -0.39 4.25 -0.43 4.25 -0.45 4.25 -0.44 4.25 -0.4 4.25 -0.33 4.25 -0.23 4.25 -0.1 4.25 0.05 4.25 0.21 4.25 0.37 4.25 0.53 4.25 0.67 4.25 0.79 4.25 0.88 4.25 0.92 4.25 0.92 4.25 0.88 4.25 0.79 4.25 0.67 4.25 0.5 4.25 0.31 4.25 0.11 4.25 -0.11 4.25 -0.31 4.25 -0.5 4.25 -0.67 4.25 -0.79 4.25 -0.88 4.25 -0.92 4.25 -0.92 4.25 -0.88 4.25 -0.79 4.25 -0.67 4.25 -0.53 4.25 -0.37 4.25 -0.21 4.25 -0.05 4.25 0.1 4.25 0.23 4.25 0.33 4.25 0.4 4.25 0.44 4.25 0.45 4.25 0.43 4.25 0.39 4.25 0.33 4.25 0.26 4.25 0.19 4.25 0.11 4.25 0.05 4.25 -0.01 4.25 -0.05 4.25 -0.07 4.25 -0.08" fill="none" stroke="#38b149" stroke-width="1.08"/>
<path d="M38.22,232.23l4.25 0.08 4.25 0.07 4.25 0.05 4.25 0.01 4.25 -0.05 4.25 -0.11 4.25 -0.19 4.25 -0.26 4.25 -0.33 4.25 -0.39 4.25 -0.43 4.25 -0.45 4.25 -0.44 4.25 -0.4 4.25 -0.33 4.25 -0.23 4.25 -0.1 4.25 0.05 4.25 0.21 4.25 0.37 4.25 0.53 4.25 0.67 4.25 0.79 4.25 0.88 4.25 0.92 4.25 0.92 4.25 0.88 4.25 0.79 4.25 0.67 4.25 0.5 4.25 0.31 4.25 0.11 4.25 -0.11 4.25 -0.31 4.25 -0.5 4.25 -0.67 4.25 -0.79 4.25 -0.88 4.25 -0.92 4.25 -0.92 4.25 -0.88 4.25 -0.79 4.25 -0.67 4.25 -0.53 4.25 -0.37 4.25 -0.21 4.25 -0.05 4.25 0.1 4.25 0.23 4.25 0.33 4.25 0.4 4.25 0.44 4.25 0.45 4.25 0.43 4.25 0.39 4.25 0.33 4.25 0.26 4.25 0.19 4.25 0.11 4.25 0.05 4.25 -0.01 4.25 -0.05 4.25 -0.07 4.25 -0.08" fill="none" stroke="#54ba44" stroke-width="1.08"/>
<path d="M38.22,252.63l4.25 0.08 4.25 0.07 4.25 0.05 4.25 0.01 4.25 -0.05 4.25 -0.11 4.25 -0.19 4.25 -0.26 4.25 -0.33 4.25 -0.39 4.25 -0.43 4.25 -0.45 4.25 -0.44 4.25 -0.4 4.25 -0.33 4.25 -0.23 4.25 -0.1 4.25 0.05 4.25 0.21 4.25 0.37 4.25 0.53 4.25 0.67 4.25 0.79 4.25 0.88 4.25 0.92 4.25 0.92 4.25 0.88 4.25 0.79 4.25 0.67 4.25 0.5 4.25 0.31 4.25 0.11 4.25 -0.11 4.25 -0.31 4.25 -0.5 4.25 -0.67 4.25 -0.79 4.25 -0.88 4.25 -0.92 4.25 -0.92 4.25 -0.88 4.25 -0.79 4.25 -0.67 4.25 -0.53 4.25 -0.37 4.25 -0.21 4.25 -0.05 4.25 0.1 4.25 0.23 4.25 0.33 4.25 0.4 4.25 0.44 4.25 0.45 4.25 0.43 4.25 0.39 4.25 0.33 4.25 0.26 4.25 0.19 4.25 0.11 4.25 0.05 4.25 -0.01 4.25 -0.05 4.25 -0.07 4.25 -0.08" fill="none" stroke="#54ba44" stroke-width="1.08"/>
<path d="M38.22,232.83l4.25 0.08 4.25 0.07 4.25 0.05 4.25 0.01 4.25 -0.05 4.25 -0.11 4.25 -0.19 4.25 -0.26 4.25 -0.33 4.25 -0.39 4.25 -0.43 4.25 -0.45 4.25 -0.44 4.25 -0.4 4.25 -0.33 4.25 -0.23 4.25 -0.1 4.25 0.05 4.25 0.21 4.25 0.37 4.25 0.53 4.25 0.67 4.25 0.79 4.25 0.88 4.25 0.92 4.25 0.92 4.25 0.88 4.25 0.79 4.25 0.67 4.25 0.5 4.25 0.31 4.25 0.11 4.25 -0.11 4.25 -0.31 4.25 -0.5 4.25 -0.67 4.25 -0.79 4.25 -0.88 4.25 -0.92 4.25 -0.92 4.25 -0.88 4.25 -0.79 4.25 -0.67 4.25 -0.53 4.25 -0.37 4.25 -0.21 4.25 -0.05 4.25 0.1 4.25 0.23 4.25 0.33 4.25 0.4 4.25 0.44 4.25 0.45 4.25 0.43 4.25 0.39 4.25 0.33 4.25 0.26 4.25 0.19 4.25 0.11 4.25 0.05 4.25 -0.01 4.25 -0.05 4.25 -0.07 4.25 -0.08" fill="none" stroke="#83c83e" stroke-width="1.08"/>
<path d="M38.22,252.03l4.25 0.08 4.25 0.07 4.25 0.05 4.25 0.01 4.25 -0.05 4.25 -0.11 4.25 -0.19 4.25 -0.26 4.25 -0.33 4.25 -0.39 4.25 -0.43 4.25 -0.45 4.25 -0.44 4.25 -0.4 4.25 -0.33 4.25 -0.23 4.25 -0.1 4.25 0.05 4.25 0.21 4.25 0.37 4.25 0.53 4.25 0.67 4.25 0.79 4.25 0.88 4.25 0.92 4.25 0.92 4.25 0.88 4.25 0.79 4.25 0.67 4.25 0.5 4.25 0.31 4.25 0.11 4.25 -0.11 4.25 -0.31 4.25 -0.5 4.25 -0.67 4.25 -0.79 4.25 -0.88 4.25 -0.92 4.25 -0.92 4.25 -0.88 4.25 -0.79 4.25 -0.67 4.25 -0.53 4.25 -0.37 4.25 -0.21 4.25 -0.05 4.25 0.1 4.25 0.23 4.25 0.33 4.25 0.4 4.25 0.44 4.25 0.45 4.25 0.43 4.25 0.39 4.25 0.33 4.25 0.26 4.25 0.19 4.25 0.11 4.25 0.05 4.25 -0.01 4.25 -0.05 4.25 -0.07 4.25 -0.08" fill="none" stroke="#83c83e" stroke-width="1.08"/>
<path d="M38.22,233.43l4.25 0.08 4.25 0.07 4.25 0.05 4.25 0.01 4.25 -0.05 4.25 -0.11 4.25 -0.19 4.25 -0.26 4.25 -0.33 4.25 -0.39 4.25 -0.43 4.25 -0.45 4.25 -0.44 4.25 -0.4 4.25 -0.33 4.25 -0.23 4.25 -0.1 4.25 0.05 4.25 0.21 4.25 0.37 4.25 0.53 4.25 0.67 4.25 0.79 4.25 0.88 4.25 0.92 4.25 0.92 4.25 0.88 4.25 0.79 4.25 0.67 4.25 0.5 4.25 0.31 4.25 0.11 4.25 -0.11 4.25 -0.31 4.25 -0.5 4.25 -0.67 4.25 -0.79 4.25 -0.88 4.25 -0.92 4.25 -0.92 4.25 -0.88 4.25 -0.79 4.25 -0.67 4.25 -0.53 4.25 -0.37 4.25 -0.21 4.25 -0.05 4.25 0.1 4.25 0.23 4.25 0.33 4.25 0.4 4.25 0.44 4.25 0.45 4.25 0.43 4.25 0.39 4.25 0.33 4.25 0.26 4.25 0.19 4.25 0.11 4.25 0.05 4.25 -0.01 4.25 -0.05 4.25 -0.07 4.25 -0.08" fill="none" stroke="#b3d539" stroke-width="1.08"/>
<path d="M38.22,251.43l4.25 0.08 4.25 0.07 4.25 0.05 4.25 0.01 4.25 -0.05 4.25 -0.11 4.25 -0.19 4.25 -0.26 4.25 -0.33 4.25 -0.39 4.25 -0.43 4.25 -0.45 4.25 -0.44 4.25 -0.4 4.25 -0.33 4.25 -0.23 4.25 -0.1 4.25 0.05 4.25 0.21 4.25 0.37 4.25 0.53 4.25 0.67 4.25 0.79 4.25 0.88 4.25 0.92 4.25 0.92 4.25 0.88 4.25 0.79 4.25 0.67 4.25 0.5 4.25 0.31 4.25 0.11 4.25 -0.11 4.25 -0.31 4.25 -0.5 4.25 -0.67 4.25 -0.79 4.25 -0.88 4.25 -0.92 4.25 -0.92 4.25 -0.88 4.25 -0.79 4.25 -0.67 4.25 -0.53 4.25 -0.37 4.25 -0.21 4.25 -0.05 4.25 0.1 4.25 0.23 4.25 0.33 4.25 0.4 4.25 0.44 4.25 0.45 4.25 0.43 4.25 0.39 4.25 0.33 4.25 0.26 4.25 0.19 4.25 0.11 4.25 0.05 4.25 -0.01 4.25 -0.05 4.25 -0.07 4.25 -0.08" fill="none" stroke="#b3d539" stroke-width="1.08"/>
<path d="M38.22,234.03l4.25 0.08 4.25 0.07 4.25 0.05 4.25 0.01 4.25 -0.05 4.25 -0.11 4.25 -0.19 4.25 -0.26 4.25 -0.33 4.25 -0.39 4.25 -0.43 4.25 -0.45 4.25 -0.44 4.25 -0.4 4.25 -0.33 4.25 -0.23 4.25 -0.1 4.25 0.05 4.25 0.21 4.25 0.37 4.25 0.53 4.25 0.67 4.25 0.79 4.25 0.88 4.25 0.92 4.25 0.92 4.25 0.88 4.25 0.79 4.25 0.67 4.25 0.5 4.25 0.31 4.25 0.11 4.25 -0.11 4.25 -0.31 4.25 -0.5 4.25 -0.67 4.25 -0.79 4.25 -0.88 4.25 -0.92 4.25 -0.92 4.25 -0.88 4.25 -0.79 4.25 -0.67 4.25 -0.53 4.25 -0.37 4.25 -0.21 4.25 -0.05 4.25 0.1 4.25 0.23 4.25 0.33 4.25 0.4 4.25 0.44 4.25 0.45 4.25 0.43 4.25 0.39 4.25 0.33 4.25 0.26 4.25 0.19 4.25 0.11 4.25 0.05 4.25 -0.01 4.25 -0.05 4.25 -0.07 4.25 -0.08" fill="none" stroke="#e3e334" stroke-width="1.08"/>
<path d="M38.22,250.83l4.25 0.08 4.25 0.07 4.25 0.05 4.25 0.01 4.25 -0.05 4.25 -0.11 4.25 -0.19 4.25 -0.26 4.25 -0.33 4.25 -0.39 4.25 -0.43 4.25 -0.45 4.25 -0.44 4.25 -0.4 4.25 -0.33 4.25 -0.23 4.25 -0.1 4.25 0.05 4.25 0.21 4.25 0.37 4.25 0.53 4.25 0.67 4.25 0.79 4.25 0.88 4.25 0.92 4.25 0.92 4.25 0.88 4.25 0.79 4.25 0.67 4.25 0.5 4.25 0.31 4.25 0.11 4.25 -0.11 4.25 -0.31 4.25 -0.5 4.25 -0.67 4.25 -0.79 4.25 -0.88 4.25 -0.92 4.25 -0.92 4.25 -0.88 4.25 -0.79 4.25 -0.67 4.25 -0.53 4.25 -0.37 4.25 -0.21 4.25 -0.05 4.25 0.1 4.25 0.23 4.25 0.33 4.25 0.4 4.25 0.44 4.25 0.45 4.25 0.43 4.25 0.39 4.25 0.33 4.25 0.26 4.25 0.19 4.25 0.11 4.25 0.05 4.25 -0.01 4.25 -0.05 4.25 -0.07 4.25 -0.08" fill="none" stroke="#e3e334" stroke-width="1.08"/>
<path d="M38.22,234.63l4.25 0.08 4.25 0.07 4.25 0.05 4.25 0.01 4.25 -0.05 4.25 -0.11 4.25 -0.19 4.25 -0.26 4.25 -0.33 4.25 -0.39 4.25 -0.43 4.25 -0.45 4.25 -0.44 4.25 -0.4 4.25 -0.33 4.25 -0.23 4.25 -0.1 4.25 0.05 4.25 0.21 4.25 0.37 4.25 0.53 4.25 0.67 4.25 0.79 4.25 0.88 4.25 0.92 4.25 0.92 4.25 0.88 4.25 0.79 4.25 0.67 4.25 0.5 4.25 0.31 4.25 0.11 4.25 -0.11 4.25 -0.31 4.25 -0.5 4.25 -0.67 4.25 -0.79 4.25 -0.88 4.25 -0.92 4.25 -0.92 4.25 -0.88 4.25 -0.79 4.25 -0.67 4.25 -0.53 4.25 -0.37 4.25 -0.21 4.25 -0.05 4.25 0.1 4.25 0.23 4.25 0.33 4.25 0.4 4.25 0.44 4.25 0.45 4.25 0.43 4.25 0.39 4.25 0.33 4.25 0.26 4.25 0.19 4.25 0.11 4.25 0.05 4.25 -0.01 4.25 -0.05 4.25 -0.07 4.25 -0.08" fill="none" stroke="#f6d532" stroke-width="1.08"/>
<path d="M38.22,250.23l4.25 0.08 4.25 0.07 4.25 0.05 4.25 0.01 4.25 -0.05 4.25 -0.11 4.25 -0.19 4.25 -0.26 4.25 -0.33 4.25 -0.39 4.25 -0.43 4.25 -0.45 4.25 -0.44 4.25 -0.4 4.25 -0.33 4.25 -0.23 4.25 -0.1 4.25 0.05 4.25 0.21 4.25 0.37 4.25 0.53 4.25 0.67 4.25 0.79 4.25 0.88 4.25 0.92 4.25 0.92 4.25 0.88 4.25 0.79 4.25 0.67 4.25 0.5 4.25 0.31 4.25 0.11 4.25 -0.11 4.25 -0.31 4.25 -0.5 4.25 -0.67 4.25 -0.79 4.25 -0.88 4.25 -0.92 4.25 -0.92 4.25 -0.88 4.25 -0.79 4.25 -0.67 4.25 -0.53 4.25 -0.37 4.25 -0.21 4.25 -0.05 4.25 0.1 4.25 0.23 4.25 0.33 4.25 0.4 4.25 0.44 4.25 0.45 4.25 0.43 4.25 0.39 4.25 0.33 4.25 0.26 4.25 0.19 4.25 0.11 4.25 0.05 4.25 -0.01 4.25 -0.05 4.25 -0.07 4.25 -0.08" fill="none" stroke="#f6d532" stroke-width="1.08"/>
<path d="M38.22,235.23l4.25 0.08 4.25 0.07 4.25 0.05 4.25 0.01 4.25 -0.05 4.25 -0.11 4.25 -0.19 4.25 -0.26 4.25 -0.33 4.25 -0.39 4.25 -0.43 4.25 -0.45 4.25 -0.44 4.25 -0.4 4.25 -0.33 4.25 -0.23 4.25 -0.1 4.25 0.05 4.25 0.21 4.25 0.37 4.25 0.53 4.25 0.67 4.25 0.79 4.25 0.88 4.25 0.92 4.25 0.92 4.25 0.88 4.25 0.79 4.25 0.67 4.25 0.5 4.25 0.31 4.25 0.11 4.25 -0.11 4.25 -0.31 4.25 -0.5 4.25 -0.67 4.25 -0.79 4.25 -0.88 4.25 -0.92 4.25 -0.92 4.25 -0.88 4.25 -0.79 4.25 -0.67 4.25 -0.53 4.25 -0.37 4.25 -0.21 4.25 -0.05 4.25 0.1 4.25 0.23 4.25 0.33 4.25 0.4 4.25 0.44 4.25 0.45 4.25 0.43 4.25 0.39 4.25 0.33 4.25 0.26 4.25 0.19 4.25 0.11 4.25 0.05 4.25 -0.01 4.25 -0.05 4.25 -0.07 4.25 -0.08" fill="none" stroke="#f7b632" stroke-width="1.08"/>
<path d="M38.22,249.63l4.25 0.08 4.25 0.07 4.25 0.05 4.25 0.01 4.25 -0.05 4.25 -0.11 4.25 -0.19 4.25 -0.26 4.25 -0.33 4.25 -0.39 4.25 -0.43 4.25 -0.45 4.25 -0.44 4.25 -0.4 4.25 -0.33 4.25 -0.23 4.25 -0.1 4.25 0.05 4.25 0.21 4.25 0.37 4.25 0.53 4.25 0.67 4.25 0.79 4.25 0.88 4.25 0.92 4.25 0.92 4.25 0.88 4.25 0.79 4.25 0.67 4.25 0.5 4.25 0.31 4.25 0.11 4.25 -0.11 4.25 -0.31 4.25 -0.5 4.25 -0.67 4.25 -0.79 4.25 -0.88 4.25 -0.92 4.25 -0.92 4.25 -0.88 4.25 -0.79 4.25 -0.67 4.25 -0.53 4.25 -0.37 4.25 -0.21 4.25 -0.05 4.25 0.1 4.25 0.23 4.25 0.33 4.25 0.4 4.25 0.44 4.25 0.45 4.25 0.43 4.25 0.39 4.25 0.33 4.25 0.26 4.25 0.19 4.25 0.11 4.25 0.05 4.25 -0.01 4.25 -0.05 4.25 -0.07 4.25 -0.08" fill="none" stroke="#f7b632" stroke-width="1.08"/>
<path d="M38.22,235.83l4.25 0.08 4.25 0.07 4.25 0.05 4.25 0.01 4.25 -0.05 4.25 -0.11 4.25 -0.19 4.25 -0.26 4.25 -0.33 4.25 -0.39 4.25 -0.43 4.25 -0.45 4.25 -0.44 4.25 -0.4 4.25 -0.33 4.25 -0.23 4.25 -0.1 4.25 0.05 4.25 0.21 4.25 0.37 4.25 0.53 4.25 0.67 4.25 0.79 4.25 0.88 4.25 0.92 4.25 0.92 4.25 0.88 4.25 0.79 4.25 0.67 4.25 0.5 4.25 0.31 4.25 0.11 4.25 -0.11 4.25 -0.31 4.25 -0.5 4.25 -0.67 4.25 -0.79 4.25 -0.88 4.25 -0.92 4.25 -0.92 4.25 -0.88 4.25 -0.79 4.25 -0.67 4.25 -0.53 4.25 -0.37 4.25 -0.21 4.25 -0.05 4.25 0.1 4.25 0.23 4.25 0.33 4.25 0.4 4.25 0.44 4.25 0.45 4.25 0.43 4.25 0.39 4.25 0.33 4.25 0.26 4.25 0.19 4.25 0.11 4.25 0.05 4.25 -0.01 4.25 -0.05 4.25 -0.07 4.25 -0.08" fill="none" stroke="#f49932" stroke-width="1.08"/>
<path d="M38.22,249.03l4.25 0.08 4.25 0.07 4.25 0.05 4.25 0.01 4.25 -0.05 4.25 -0.11 4.25 -0.19 4.25 -0.26 4.25 -0.33 4.25 -0.39 4.25 -0.43 4.25 -0.45 4.25 -0.44 4.25 -0.4 4.25 -0.33 4.25 -0.23 4.25 -0.1 4.25 0.05 4.25 0.21 4.25 0.37 4.25 0.53 4.25 0.67 4.25 0.79 4.25 0.88 4.25 0.92 4.25 0.92 4.25 0.88 4.25 0.79 4.25 0.67 4.25 0.5 4.25 0.31 4.25 0.11 4.25 -0.11 4.25 -0.31 4.25 -0.5 4.25 -0.67 4.25 -0.79 4.25 -0.88 4.25 -0.92 4.25 -0.92 4.25 -0.88 4.25 -0.79 4.25 -0.67 4.25 -0.53 4.25 -0.37 4.25 -0.21 4.25 -0.05 4.25 0.1 4.25 0.23 4.25 0.33 4.25 0.4 4.25 0.44 4.25 0.45 4.25 0.43 4.25 0.39 4.25 0.33 4.25 0.26 4.25 0.19 4.25 0.11 4.25 0.05 4.25 -0.01 4.25 -0.05 4.25 -0.07 4.25 -0.08" fill="none" stroke="#f49932" stroke-width="1.08"/>
<path d="M38.22,236.43l4.25 0.08 4.25 0.07 4.25 0.05 4.25 0.01 4.25 -0.05 4.25 -0.11 4.25 -0.19 4.25 -0.26 4.25 -0.33 4.25 -0.39 4.25 -0.43 4.25 -0.45 4.25 -0.44 4.25 -0.4 4.25 -0.33 4.25 -0.23 4.25 -0.1 4.25 0.05 4.25 0.21 4.25 0.37 4.25 0.53 4.25 0.67 4.25 0.79 4.25 0.88 4.25 0.92 4.25 0.92 4.25 0.88 4.25 0.79 4.25 0.67 4.25 0.5 4.25 0.31 4.25 0.11 4.25 -0.11 4.25 -0.31 4.25 -0.5 4.25 -0.67 4.25 -0.79 4.25 -0.88 4.25 -0.92 4.25 -0.92 4.25 -0.88 4.25 -0.79 4.25 -0.67 4.25 -0.53 4.25 -0.37 4.25 -0.21 4.25 -0.05 4.25 0.1 4.25 0.23 4.25 0.33 4.25 0.4 4.25 0.44 4.25 0.45 4.25 0.43 4.25 0.39 4.25 0.33 4.25 0.26 4.25 0.19 4.25 0.11 4.25 0.05 4.25 -0.01 4.25 -0.05 4.25 -0.07 4.25 -0.08" fill="none" stroke="#f17f33" stroke-width="1.08"/>
<path d="M38.22,248.43l4.25 0.08 4.25 0.07 4.25 0.05 4.25 0.01 4.25 -0.05 4.25 -0.11 4.25 -0.19 4.25 -0.26 4.25 -0.33 4.25 -0.39 4.25 -0.43 4.25 -0.45 4.25 -0.44 4.25 -0.4 4.25 -0.33 4.25 -0.23 4.25 -0.1 4.25 0.05 4.25 0.21 4.25 0.37 4.25 0.53 4.25 0.67 4.25 0.79 4.25 0.88 4.25 0.92 4.25 0.92 4.25 0.88 4.25 0.79 4.25 0.67 4.25 0.5 4.25 0.31 4.25 0.11 4.25 -0.11 4.25 -0.31 4.25 -0.5 4.25 -0.67 4.25 -0.79 4.25 -0.88 4.25 -0.92 4.25 -0.92 4.25 -0.88 4.25 -0.79 4.25 -0.67 4.25 -0.53 4.25 -0.37 4.25 -0.21 4.25 -0.05 4.25 0.1 4.25 0.23 4.25 0.33 4.25 0.4 4.25 0.44 4.25 0.45 4.25 0.43 4.25 0.39 4.25 0.33 4.25 0.26 4.25 0.19 4.25 0.11 4.25 0.05 4.25 -0.01 4.25 -0.05 4.25 -0.07 4.25 -0.08" fill="none" stroke="#f17f33" stroke-width="1.08"/>
<path d="M38.22,237.03l4.25 0.08 4.25 0.07 4.25 0.05 4.25 0.01 4.25 -0.05 4.25 -0.11 4.25 -0.19 4.25 -0.26 4.25 -0.33 4.25 -0.39 4.25 -0.43 4.25 -0.45 4.25 -0.44 4.25 -0.4 4.25 -0.33 4.25 -0.23 4.25 -0.1 4.25 0.05 4.25 0.21 4.25 0.37 4.25 0.53 4.25 0.67 4.25 0.79 4.25 0.88 4.25 0.92 4.25 0.92 4.25 0.88 4.25 0.79 4.25 0.67 4.25 0.5 4.25 0.31 4.25 0.11 4.25 -0.11 4.25 -0.31 4.25 -0.5 4.25 -0.67 4.25 -0.79 4.25 -0.88 4.25 -0.92 4.25 -0.92 4.25 -0.88 4.25 -0.79 4.25 -0.67 4.25 -0.53 4.25 -0.37 4.25 -0.21 4.25 -0.05 4.25 0.1 4.25 0.23 4.25 0.33 4.25 0.4 4.25 0.44 4.25 0.45 4.25 0.43 4.25 0.39 4.25 0.33 4.25 0.26 4.25 0.19 4.25 0.11 4.25 0.05 4.25 -0.01 4.25 -0.05 4.25 -0.07 4.25 -0.08" fill="none" stroke="#ee6b35" stroke-width="1.08"/>
<path d="M38.22,247.83l4.25 0.08 4.25 0.07 4.25 0.05 4.25 0.01 4.25 -0.05 4.25 -0.11 4.25 -0.19 4.25 -0.26 4.25 -0.33 4.25 -0.39 4.25 -0.43 4.25 -0.45 4.25 -0.44 4.25 -0.4 4.25 -0.33 4.25 -0.23 4.25 -0.1 4.25 0.05 4.25 0.21 4.25 0.37 4.25 0.53 4.25 0.67 4.25 0.79 4.25 0.88 4.25 0.92 4.25 0.92 4.25 0.88 4.25 0.79 4.25 0.67 4.25 0.5 4.25 0.31 4.25 0.11 4.25 -0.11 4.25 -0.31 4.25 -0.5 4.25 -0.67 4.25 -0.79 4.25 -0.88 4.25 -0.92 4.25 -0.92 4.25 -0.88 4.25 -0.79 4.25 -0.67 4.25 -0.53 4.25 -0.37 4.25 -0.21 4.25 -0.05 4.25 0.1 4.25 0.23 4.25 0.33 4.25 0.4 4.25 0.44 4.25 0.45 4.25 0.43 4.25 0.39 4.25 0.33 4.25 0.26 4.25 0.19 4.25 0.11 4.25 0.05 4.25 -0.01 4.25 -0.05 4.25 -0.07 4.25 -0.08" fill="none" stroke="#ee6b35" stroke-width="1.08"/>
<path d="M38.22,237.63l4.25 0.08 4.25 0.07 4.25 0.05 4.25 0.01 4.25 -0.05 4.25 -0.11 4.25 -0.19 4.25 -0.26 4.25 -0.33 4.25 -0.39 4.25 -0.43 4.25 -0.45 4.25 -0.44 4.25 -0.4 4.25 -0.33 4.25 -0.23 4.25 -0.1 4.25 0.05 4.25 0.21 4.25 0.37 4.25 0.53 4.25 0.67 4.25 0.79 4.25 0.88 4.25 0.92 4.25 0.92 4.25 0.88 4.25 0.79 4.25 0.67 4.25 0.5 4.25 0.31 4.25 0.11 4.25 -0.11 4.25 -0.31 4.25 -0.5 4.25 -0.67 4.25 -0.79 4.25 -0.88 4.25 -0.92 4.25 -0.92 4.25 -0.88 4.25 -0.79 4.25 -0.67 4.25 -0.53 4.25 -0.37 4.25 -0.21 4.25 -0.05 4.25 0.1 4.25 0.23 4.25 0.33 4.25 0.4 4.25 0.44 4.25 0.45 4.25 0.43 4.25 0.39 4.25 0.33 4.25 0.26 4.25 0.19 4.25 0.11 4.25 0.05 4.25 -0.01 4.25 -0.05 4.25 -0.07 4.25 -0.08" fill="none" stroke="#eb5937" stroke-width="1.08"/>
<path d="M38.22,247.23l4.25 0.08 4.25 0.07 4.25 0.05 4.25 0.01 4.25 -0.05 4.25 -0.11 4.25 -0.19 4.25 -0.26 4.25 -0.33 4.25 -0.39 4.25 -0.43 4.25 -0.45 4.25 -0.44 4.25 -0.4 4.25 -0.33 4.25 -0.23 4.25 -0.1 4.25 0.05 4.25 0.21 4.25 0.37 4.25 0.53 4.25 0.67 4.25 0.79 4.25 0.88 4.25 0.92 4.25 0.92 4.25 0.88 4.25 0.79 4.25 0.67 4.25 0.5 4.25 0.31 4.25 0.11 4.25 -0.11 4.25 -0.31 4.25 -0.5 4.25 -0.67 4.25 -0.79 4.25 -0.88 4.25 -0.92 4.25 -0.92 4.25 -0.88 4.25 -0.79 4.25 -0.67 4.25 -0.53 4.25 -0.37 4.25 -0.21 4.25 -0.05 4.25 0.1 4.25 0.23 4.25 0.33 4.25 0.4 4.25 0.44 4.25 0.45 4.25 0.43 4.25 0.39 4.25 0.33 4.25 0.26 4.25 0.19 4.25 0.11 4.25 0.05 4.25 -0.01 4.25 -0.05 4.25 -0.07 4.25 -0.08" fill="none" stroke="#eb5937" stroke-width="1.08"/>
<path d="M38.22,238.23l4.25 0.08 4.25 0.07 4.25 0.05 4.25 0.01 4.25 -0.05 4.25 -0.11 4.25 -0.19 4.25 -0.26 4.25 -0.33 4.25 -0.39 4.25 -0.43 4.25 -0.45 4.25 -0.44 4.25 -0.4 4.25 -0.33 4.25 -0.23 4.25 -0.1 4.25 0.05 4.25 0.21 4.25 0.37 4.25 0.53 4.25 0.67 4.25 0.79 4.25 0.88 4.25 0.92 4.25 0.92 4.25 0.88 4.25 0.79 4.25 0.67 4.25 0.5 4.25 0.31 4.25 0.11 4.25 -0.11 4.25 -0.31 4.25 -0.5 4.25 -0.67 4.25 -0.79 4.25 -0.88 4.25 -0.92 4.25 -0.92 4.25 -0.88 4.25 -0.79 4.25 -0.67 4.25 -0.53 4.25 -0.37 4.25 -0.21 4.25 -0.05 4.25 0.1 4.25 0.23 4.25 0.33 4.25 0.4 4.25 0.44 4.25 0.45 4.25 0.43 4.25 0.39 4.25 0.33 4.25 0.26 4.25 0.19 4.25 0.11 4.25 0.05 4.25 -0.01 4.25 -0.05 4.25 -0.07 4.25 -0.08" fill="none" stroke="#e84e37" stroke-width="1.08"/>
<path d="M38.22,246.63l4.25 0.08 4.25 0.07 4.25 0.05 4.25 0.01 4.25 -0.05 4.25 -0.11 4.25 -0.19 4.25 -0.26 4.25 -0.33 4.25 -0.39 4.25 -0.43 4.25 -0.45 4.25 -0.44 4.25 -0.4 4.25 -0.33 4.25 -0.23 4.25 -0.1 4.25 0.05 4.25 0.21 4.25 0.37 4.25 0.53 4.25 0.67 4.25 0.79 4.25 0.88 4.25 0.92 4.25 0.92 4.25 0.88 4.25 0.79 4.25 0.67 4.25 0.5 4.25 0.31 4.25 0.11 4.25 -0.11 4.25 -0.31 4.25 -0.5 4.25 -0.67 4.25 -0.79 4.25 -0.88 4.25 -0.92 4.25 -0.92 4.25 -0.88 4.25 -0.79 4.25 -0.67 4.25 -0.53 4.25 -0.37 4.25 -0.21 4.25 -0.05 4.25 0.1 4.25 0.23 4.25 0.33 4.25 0.4 4.25 0.44 4.25 0.45 4.25 0.43 4.25 0.39 4.25 0.33 4.25 0.26 4.25 0.19 4.25 0.11 4.25 0.05 4.25 -0.01 4.25 -0.05 4.25 -0.07 4.25 -0.08" fill="none" stroke="#e84e37" stroke-width="1.08"/>
<path d="M38.22,238.83l4.25 0.08 4.25 0.07 4.25 0.05 4.25 0.01 4.25 -0.05 4.25 -0.11 4.25 -0.19 4.25 -0.26 4.25 -0.33 4.25 -0.39 4.25 -0.43 4.25 -0.45 4.25 -0.44 4.25 -0.4 4.25 -0.33 4.25 -0.23 4.25 -0.1 4.25 0.05 4.25 0.21 4.25 0.37 4.25 0.53 4.25 0.67 4.25 0.79 4.25 0.88 4.25 0.92 4.25 0.92 4.25 0.88 4.25 0.79 4.25 0.67 4.25 0.5 4.25 0.31 4.25 0.11 4.25 -0.11 4.25 -0.31 4.25 -0.5 4.25 -0.67 4.25 -0.79 4.25 -0.88 4.25 -0.92 4.25 -0.92 4.25 -0.88 4.25 -0.79 4.25 -0.67 4.25 -0.53 4.25 -0.37 4.25 -0.21 4.25 -0.05 4.25 0.1 4.25 0.23 4.25 0.33 4.25 0.4 4.25 0.44 4.25 0.45 4.25 0.43 4.25 0.39 4.25 0.33 4.25 0.26 4.25 0.19 4.25 0.11 4.25 0.05 4.25 -0.01 4.25 -0.05 4.25 -0.07 4.25 -0.08" fill="none" stroke="#e64437" stroke-width="1.08"/>
<path d="M38.22,246.03l4.25 0.08 4.25 0.07 4.25 0.05 4.25 0.01 4.25 -0.05 4.25 -0.11 4.25 -0.19 4.25 -0.26 4.25 -0.33 4.25 -0.39 4.25 -0.43 4.25 -0.45 4.25 -0.44 4.25 -0.4 4.25 -0.33 4.25 -0.23 4.25 -0.1 4.25 0.05 4.25 0.21 4.25 0.37 4.25 0.53 4.25 0.67 4.25 0.79 4.25 0.88 4.25 0.92 4.25 0.92 4.25 0.88 4.25 0.79 4.25 0.67 4.25 0.5 4.25 0.31 4.25 0.11 4.25 -0.11 4.25 -0.31 4.25 -0.5 4.25 -0.67 4.25 -0.79 4.25 -0.88 4.25 -0.92 4.25 -0.92 4.25 -0.88 4.25 -0.79 4.25 -0.67 4.25 -0.53 4.25 -0.37 4.25 -0.21 4.25 -0.05 4.25 0.1 4.25 0.23 4.25 0.33 4.25 0.4 4.25 0.44 4.25 0.45 4.25 0.43 4.25 0.39 4.25 0.33 4.25 0.26 4.25 0.19 4.25 0.11 4.25 0.05 4.25 -0.01 4.25 -0.05 4.25 -0.07 4.25 -0.08" fill="none" stroke="#e64437" stroke-width="1.08"/>
<path d="M38.22,239.43l4.25 0.08 4.25 0.07 4.25 0.05 4.25 0.01 4.25 -0.05 4.25 -0.11 4.25 -0.19 4.25 -0.26 4.25 -0.33 4.25 -0.39 4.25 -0.43 4.25 -0.45 4.25 -0.44 4.25 -0.4 4.25 -0.33 4.25 -0.23 4.25 -0.1 4.25 0.05 4.25 0.21 4.25 0.37 4.25 0.53 4.25 0.67 4.25 0.79 4.25 0.88 4.25 0.92 4.25 0.92 4.25 0.88 4.25 0.79 4.25 0.67 4.25 0.5 4.25 0.31 4.25 0.11 4.25 -0.11 4.25 -0.31 4.25 -0.5 4.25 -0.67 4.25 -0.79 4.25 -0.88 4.25 -0.92 4.25 -0.92 4.25 -0.88 4.25 -0.79 4.25 -0.67 4.25 -0.53 4.25 -0.37 4.25 -0.21 4.25 -0.05 4.25 0.1 4.25 0.23 4.25 0.33 4.25 0.4 4.25 0.44 4.25 0.45 4.25 0.43 4.25 0.39 4.25 0.33 4.25 0.26 4.25 0.19 4.25 0.11 4.25 0.05 4.25 -0.01 4.25 -0.05 4.25 -0.07 4.25 -0.08" fill="none" stroke="#e54136" stroke-width="1.08"/>
<path d="M38.22,245.43l4.25 0.08 4.25 0.07 4.25 0.05 4.25 0.01 4.25 -0.05 4.25 -0.11 4.25 -0.19 4.25 -0.26 4.25 -0.33 4.25 -0.39 4.25 -0.43 4.25 -0.45 4.25 -0.44 4.25 -0.4 4.25 -0.33 4.25 -0.23 4.25 -0.1 4.25 0.05 4.25 0.21 4.25 0.37 4.25 0.53 4.25 0.67 4.25 0.79 4.25 0.88 4.25 0.92 4.25 0.92 4.25 0.88 4.25 0.79 4.25 0.67 4.25 0.5 4.25 0.31 4.25 0.11 4.25 -0.11 4.25 -0.31 4.25 -0.5 4.25 -0.67 4.25 -0.79 4.25 -0.88 4.25 -0.92 4.25 -0.92 4.25 -0.88 4.25 -0.79 4.25 -0.67 4.25 -0.53 4.25 -0.37 4.25 -0.21 4.25 -0.05 4.25 0.1 4.25 0.23 4.25 0.33 4.25 0.4 4.25 0.44 4.25 0.45 4.25 0.43 4.25 0.39 4.25 0.33 4.25 0.26 4.25 0.19 4.25 0.11 4.25 0.05 4.25 -0.01 4.25 -0.05 4.25 -0.07 4.25 -0.08" fill="none" stroke="#e54136" stroke-width="1.08"/>
<path d="M38.22,240.03l4.25 0.08 4.25 0.07 4.25 0.05 4.25 0.01 4.25 -0.05 4.25 -0.11 4.25 -0.19 4.25 -0.26 4.25 -0.33 4.25 -0.39 4.25 -0.43 4.25 -0.45 4.25 -0.44 4.25 -0.4 4.25 -0.33 4.25 -0.23 4.25 -0.1 4.25 0.05 4.25 0.21 4.25 0.37 4.25 0.53 4.25 0.67 4.25 0.79 4.25 0.88 4.25 0.92 4.25 0.92 4.25 0.88 4.25 0.79 4.25 0.67 4.25 0.5 4.25 0.31 4.25 0.11 4.25 -0.11 4.25 -0.31 4.25 -0.5 4.25 -0.67 4.25 -0.79 4.25 -0.88 4.25 -0.92 4.25 -0.92 4.25 -0.88 4.25 -0.79 4.25 -0.67 4.25 -0.53 4.25 -0.37 4.25 -0.21 4.25 -0.05 4.25 0.1 4.25 0.23 4.25 0.33 4.25 0.4 4.25 0.44 4.25 0.45 4.25 0.43 4.25 0.39 4.25 0.33 4.25 0.26 4.25 0.19 4.25 0.11 4.25 0.05 4.25 -0.01 4.25 -0.05 4.25 -0.07 4.25 -0.08" fill="none" stroke="#e43f34" stroke-width="1.08"/>
<path d="M38.22,244.83l4.25 0.08 4.25 0.07 4.25 0.05 4.25 0.01 4.25 -0.05 4.25 -0.11 4.25 -0.19 4.25 -0.26 4.25 -0.33 4.25 -0.39 4.25 -0.43 4.25 -0.45 4.25 -0.44 4.25 -0.4 4.25 -0.33 4.25 -0.23 4.25 -0.1 4.25 0.05 4.25 0.21 4.25 0.37 4.25 0.53 4.25 0.67 4.25 0.79 4.25 0.88 4.25 0.92 4.25 0.92 4.25 0.88 4.25 0.79 4.25 0.67 4.25 0.5 4.25 0.31 4.25 0.11 4.25 -0.11 4.25 -0.31 4.25 -0.5 4.25 -0.67 4.25 -0.79 4.25 -0.88 4.25 -0.92 4.25 -0.92 4.25 -0.88 4.25 -0.79 4.25 -0.67 4.25 -0.53 4.25 -0.37 4.25 -0.21 4.25 -0.05 4.25 0.1 4.25 0.23 4.25 0.33 4.25 0.4 4.25 0.44 4.25 0.45 4.25 0.43 4.25 0.39 4.25 0.33 4.25 0.26 4.25 0.19 4.25 0.11 4.25 0.05 4.25 -0.01 4.25 -0.05 4.25 -0.07 4.25 -0.08" fill="none" stroke="#e43f34" stroke-width="1.08"/>
<path d="M38.22,240.63l4.25 0.08 4.25 0.07 4.25 0.05 4.25 0.01 4.25 -0.05 4.25 -0.11 4.25 -0.19 4.25 -0.26 4.25 -0.33 4.25 -0.39 4.25 -0.43 4.25 -0.45 4.25 -0.44 4.25 -0.4 4.25 -0.33 4.25 -0.23 4.25 -0.1 4.25 0.05 4.25 0.21 4.25 0.37 4.25 0.53 4.25 0.67 4.25 0.79 4.25 0.88 4.25 0.92 4.25 0.92 4.25 0.88 4.25 0.79 4.25 0.67 4.25 0.5 4.25 0.31 4.25 0.11 4.25 -0.11 4.25 -0.31 4.25 -0.5 4.25 -0.67 4.25 -0.79 4.25 -0.88 4.25 -0.92 4.25 -0.92 4.25 -0.88 4.25 -0.79 4.25 -0.67 4.25 -0.53 4.25 -0.37 4.25 -0.21 4.25 -0.05 4.25 0.1 4.25 0.23 4.25 0.33 4.25 0.4 4.25 0.44 4.25 0.45 4.25 0.43 4.25 0.39 4.25 0.33 4.25 0.26 4.25 0.19 4.25 0.11 4.25 0.05 4.25 -0.01 4.25 -0.05 4.25 -0.07 4.25 -0.08" fill="none" stroke="#e33d33" stroke-width="1.08"/>
<path d="M38.22,244.23l4.25 0.08 4.25 0.07 4.25 0.05 4.25 0.01 4.25 -0.05 4.25 -0.11 4.25 -0.19 4.25 -0.26 4.25 -0.33 4.25 -0.39 4.25 -0.43 4.25 -0.45 4.25 -0.44 4.25 -0.4 4.25 -0.33 4.25 -0.23 4.25 -0.1 4.25 0.05 4.25 0.21 4.25 0.37 4.25 0.53 4.25 0.67 4.25 0.79 4.25 0.88 4.25 0.92 4.25 0.92 4.25 0.88 4.25 0.79 4.25 0.67 4.25 0.5 4.25 0.31 4.25 0.11 4.25 -0.11 4.25 -0.31 4.25 -0.5 4.25 -0.67 4.25 -0.79 4.25 -0.88 4.25 -0.92 4.25 -0.92 4.25 -0.88 4.25 -0.79 4.25 -0.67 4.25 -0.53 4.25 -0.37 4.25 -0.21 4.25 -0.05 4.25 0.1 4.25 0.23 4.25 0.33 4.25 0.4 4.25 0.44 4.25 0.45 4.25 0.43 4.25 0.39 4.25 0.33 4.25 0.26 4.25 0.19 4.25 0.11 4.25 0.05 4.25 -0.01 4.25 -0.05 4.25 -0.07 4.25 -0.08" fill="none" stroke="#e33d33" stroke-width="1.08"/>
<path d="M38.22,241.23l4.25 0.08 4.25 0.07 4.25 0.05 4.25 0.01 4.25 -0.05 4.25 -0.11 4.25 -0.19 4.25 -0.26 4.25 -0.33 4.25 -0.39 4.25 -0.43 4.25 -0.45 4.25 -0.44 4.25 -0.4 4.25 -0.33 4.25 -0.23 4.25 -0.1 4.25 0.05 4.25 0.21 4.25 0.37 4.25 0.53 4.25 0.67 4.25 0.79 4.25 0.88 4.25 0.92 4.25 0.92 4.25 0.88 4.25 0.79 4.25 0.67 4.25 0.5 4.25 0.31 4.25 0.11 4.25 -0.11 4.25 -0.31 4.25 -0.5 4.25 -0.67 4.25 -0.79 4.25 -0.88 4.25 -0.92 4.25 -0.92 4.25 -0.88 4.25 -0.79 4.25 -0.67 4.25 -0.53 4.25 -0.37 4.25 -0.21 4.25 -0.05 4.25 0.1 4.25 0.23 4.25 0.33 4.25 0.4 4.25 0.44 4.25 0.45 4.25 0.43 4.25 0.39 4.25 0.33 4.25 0.26 4.25 0.19 4.25 0.11 4.25 0.05 4.25 -0.01 4.25 -0.05 4.25 -0.07 4.25 -0.08" fill="none" stroke="#e23b33" stroke-width="1.08"/>
<path d="M38.22,243.63l4.25 0.08 4.25 0.07 4.25 0.05 4.25 0.01 4.25 -0.05 4.25 -0.11 4.25 -0.19 4.25 -0.26 4.25 -0.33 4.25 -0.39 4.25 -0.43 4.25 -0.45 4.25 -0.44 4.25 -0.4 4.25 -0.33 4.25 -0.23 4.25 -0.1 4.25 0.05 4.25 0.21 4.25 0.37 4.25 0.53 4.25 0.67 4.25 0.79 4.25 0.88 4.25 0.92 4.25 0.92 4.25 0.88 4.25 0.79 4.25 0.67 4.25 0.5 4.25 0.31 4.25 0.11 4.25 -0.11 4.25 -0.31 4.25 -0.5 4.25 -0.67 4.25 -0.79 4.25 -0.88 4.25 -0.92 4.25 -0.92 4.25 -0.88 4.25 -0.79 4.25 -0.67 4.25 -0.53 4.25 -0.37 4.25 -0.21 4.25 -0.05 4.25 0.1 4.25 0.23 4.25 0.33 4.25 0.4 4.25 0.44 4.25 0.45 4.25 0.43 4.25 0.39 4.25 0.33 4.25 0.26 4.25 0.19 4.25 0.11 4.25 0.05 4.25 -0.01 4.25 -0.05 4.25 -0.07 4.25 -0.08" fill="none" stroke="#e23b33" stroke-width="1.08"/>
<path d="M38.22,241.83l4.25 0.08 4.25 0.07 4.25 0.05 4.25 0.01 4.25 -0.05 4.25 -0.11 4.25 -0.19 4.25 -0.26 4.25 -0.33 4.25 -0.39 4.25 -0.43 4.25 -0.45 4.25 -0.44 4.25 -0.4 4.25 -0.33 4.25 -0.23 4.25 -0.1 4.25 0.05 4.25 0.21 4.25 0.37 4.25 0.53 4.25 0.67 4.25 0.79 4.25 0.88 4.25 0.92 4.25 0.92 4.25 0.88 4.25 0.79 4.25 0.67 4.25 0.5 4.25 0.31 4.25 0.11 4.25 -0.11 4.25 -0.31 4.25 -0.5 4.25 -0.67 4.25 -0.79 4.25 -0.88 4.25 -0.92 4.25 -0.92 4.25 -0.88 4.25 -0.79 4.25 -0.67 4.25 -0.53 4.25 -0.37 4.25 -0.21 4.25 -0.05 4.25 0.1 4.25 0.23 4.25 0.33 4.25 0.4 4.25 0.44 4.25 0.45 4.25 0.43 4.25 0.39 4.25 0.33 4.25 0.26 4.25 0.19 4.25 0.11 4.25 0.05 4.25 -0.01 4.25 -0.05 4.25 -0.07 4.25 -0.08" fill="none" stroke="#e23a32" stroke-width="1.08"/>
<path d="M38.22,243.03l4.25 0.08 4.25 0.07 4.25 0.05 4.25 0.01 4.25 -0.05 4.25 -0.11 4.25 -0.19 4.25 -0.26 4.25 -0.33 4.25 -0.39 4.25 -0.43 4.25 -0.45 4.25 -0.44 4.25 -0.4 4.25 -0.33 4.25 -0.23 4.25 -0.1 4.25 0.05 4.25 0.21 4.25 0.37 4.25 0.53 4.25 0.67 4.25 0.79 4.25 0.88 4.25 0.92 4.25 0.92 4.25 0.88 4.25 0.79 4.25 0.67 4.25 0.5 4.25 0.31 4.25 0.11 4.25 -0.11 4.25 -0.31 4.25 -0.5 4.25 -0.67 4.25 -0.79 4.25 -0.88 4.25 -0.92 4.25 -0.92 4.25 -0.88 4.25 -0.79 4.25 -0.67 4.25 -0.53 4.25 -0.37 4.25 -0.21 4.25 -0.05 4.25 0.1 4.25 0.23 4.25 0.33 4.25 0.4 4.25 0.44 4.25 0.45 4.25 0.43 4.25 0.39 4.25 0.33 4.25 0.26 4.25 0.19 4.25 0.11 4.25 0.05 4.25 -0.01 4.25 -0.05 4.25 -0.07 4.25 -0.08" fill="none" stroke="#e23a32" stroke-width="1.08"/>
<path d="M38.22,242.43l4.25 0.08 4.25 0.07 4.25 0.05 4.25 0.01 4.25 -0.05 4.25 -0.11 4.25 -0.19 4.25 -0.26 4.25 -0.33 4.25 -0.39 4.25 -0.43 4.25 -0.45 4.25 -0.44 4.25 -0.4 4.25 -0.33 4.25 -0.23 4.25 -0.1 4.25 0.05 4.25 0.21 4.25 0.37 4.25 0.53 4.25 0.67 4.25 0.79 4.25 0.88 4.25 0.92 4.25 0.92 4.25 0.88 4.25 0.79 4.25 0.67 4.25 0.5 4.25 0.31 4.25 0.11 4.25 -0.11 4.25 -0.31 4.25 -0.5 4.25 -0.67 4.25 -0.79 4.25 -0.88 4.25 -0.92 4.25 -0.92 4.25 -0.88 4.25 -0.79 4.25 -0.67 4.25 -0.53 4.25 -0.37 4.25 -0.21 4.25 -0.05 4.25 0.1 4.25 0.23 4.25 0.33 4.25 0.4 4.25 0.44 4.25 0.45 4.25 0.43 4.25 0.39 4.25 0.33 4.25 0.26 4.25 0.19 4.25 0.11 4.25 0.05 4.25 -0.01 4.25 -0.05 4.25 -0.07 4.25 -0.08" fill="none" stroke="#e23a32" stroke-width="1.2"/>
<path d="M38.22,294.93l4.25 0.08 4.25 0.07 4.25 0.05 4.25 0.01 4.25 -0.05 4.25 -0.11 4.25 -0.19 4.25 -0.26 4.25 -0.33 4.25 -0.39 4.25 -0.43 4.25 -0.45 4.25 -0.44 4.25 -0.4 4.25 -0.33 4.25 -0.23 4.25 -0.1 4.25 0.05 4.25 0.21 4.25 0.37 4.25 0.53 4.25 0.67 4.25 0.79 4.25 0.88 4.25 0.92 4.25 0.92 4.25 0.88 4.25 0.79 4.25 0.67 4.25 0.5 4.25 0.31 4.25 0.11 4.25 -0.11 4.25 -0.31 4.25 -0.5 4.25 -0.67 4.25 -0.79 4.25 -0.88 4.25 -0.92 4.25 -0.92 4.25 -0.88 4.25 -0.79 4.25 -0.67 4.25 -0.53 4.25 -0.37 4.25 -0.21 4.25 -0.05 4.25 0.1 4.25 0.23 4.25 0.33 4.25 0.4 4.25 0.44 4.25 0.45 4.25 0.43 4.25 0.39 4.25 0.33 4.25 0.26 4.25 0.19 4.25 0.11 4.25 0.05 4.25 -0.01 4.25 -0.05 4.25 -0.07 4.25 -0.08" fill="none" stroke="#4c37a7" stroke-width="1.08"/>
<path d="M38.22,336.93l4.25 0.08 4.25 0.07 4.25 0.05 4.25 0.01 4.25 -0.05 4.25 -0.11 4.25 -0.19 4.25 -0.26 4.25 -0.33 4.25 -0.39 4.25 -0.43 4.25 -0.45 4.25 -0.44 4.25 -0.4 4.25 -0.33 4.25 -0.23 4.25 -0.1 4.25 0.05 4.25 0.21 4.25 0.37 4.25 0.53 4.25 0.67 4.25 0.79 4.25 0.88 4.25 0.92 4.25 0.92 4.25 0.88 4.25 0.79 4.25 0.67 4.25 0.5 4.25 0.31 4.25 0.11 4.25 -0.11 4.25 -0.31 4.25 -0.5 4.25 -0.67 4.25 -0.79 4.25 -0.88 4.25 -0.92 4.25 -0.92 4.25 -0.88 4.25 -0.79 4.25 -0.67 4.25 -0.53 4.25 -0.37 4.25 -0.21 4.25 -0.05 4.25 0.1 4.25 0.23 4.25 0.33 4.25 0.4 4.25 0.44 4.25 0.45 4.25 0.43 4.25 0.39 4.25 0.33 4.25 0.26 4.25 0.19 4.25 0.11 4.25 0.05 4.25 -0.01 4.25 -0.05 4.25 -0.07 4.25 -0.08" fill="none" stroke="#4c37a7" stroke-width="1.08"/>
<path d="M38.22,295.53l4.25 0.08 4.25 0.07 4.25 0.05 4.25 0.01 4.25 -0.05 4.25 -0.11 4.25 -0.19 4.25 -0.26 4.25 -0.33 4.25 -0.39 4.25 -0.43 4.25 -0.45 4.25 -0.44 4.25 -0.4 4.25 -0.33 4.25 -0.23 4.25 -0.1 4.25 0.05 4.25 0.21 4.25 0.37 4.25 0.53 4.25 0.67 4.25 0.79 4.25 0.88 4.25 0.92 4.25 0.92 4.25 0.88 4.25 0.79 4.25 0.67 4.25 0.5 4.25 0.31 4.25 0.11 4.25 -0.11 4.25 -0.31 4.25 -0.5 4.25 -0.67 4.25 -0.79 4.25 -0.88 4.25 -0.92 4.25 -0.92 4.25 -0.88 4.25 -0.79 4.25 -0.67 4.25 -0.53 4.25 -0.37 4.25 -0.21 4.25 -0.05 4.25 0.1 4.25 0.23 4.25 0.33 4.25 0.4 4.25 0.44 4.25 0.45 4.25 0.43 4.25 0.39 4.25 0.33 4.25 0.26 4.25 0.19 4.25 0.11 4.25 0.05 4.25 -0.01 4.25 -0.05 4.25 -0.07 4.25 -0.08" fill="none" stroke="#4c37a7" stroke-width="1.08"/>
<path d="M38.22,336.33l4.25 0.08 4.25 0.07 4.25 0.05 4.25 0.01 4.25 -0.05 4.25 -0.11 4.25 -0.19 4.25 -0.26 4.25 -0.33 4.25 -0.39 4.25 -0.43 4.25 -0.45 4.25 -0.44 4.25 -0.4 4.25 -0.33 4.25 -0.23 4.25 -0.1 4.25 0.05 4.25 0.21 4.25 0.37 4.25 0.53 4.25 0.67 4.25 0.79 4.25 0.88 4.25 0.92 4.25 0.92 4.25 0.88 4.25 0.79 4.25 0.67 4.25 0.5 4.25 0.31 4.25 0.11 4.25 -0.11 4.25 -0.31 4.25 -0.5 4.25 -0.67 4.25 -0.79 4.25 -0.88 4.25 -0.92 4.25 -0.92 4.25 -0.88 4.25 -0.79 4.25 -0.67 4.25 -0.53 4.25 -0.37 4.25 -0.21 4.25 -0.05 4.25 0.1 4.25 0.23 4.25 0.33 4.25 0.4 4.25 0.44 4.25 0.45 4.25 0.43 4.25 0.39 4.25 0.33 4.25 0.26 4.25 0.19 4.25 0.11 4.25 0.05 4.25 -0.01 4.25 -0.05 4.25 -0.07 4.25 -0.08" fill="none" stroke="#4c37a7" stroke-width="1.08"/>
<path d="M38.22,296.13l4.25 0.08 4.25 0.07 4.25 0.05 4.25 0.01 4.25 -0.05 4.25 -0.11 4.25 -0.19 4.25 -0.26 4.25 -0.33 4.25 -0.39 4.25 -0.43 4.25 -0.45 4.25 -0.44 4.25 -0.4 4.25 -0.33 4.25 -0.23 4.25 -0.1 4.25 0.05 4.25 0.21 4.25 0.37 4.25 0.53 4.25 0.67 4.25 0.79 4.25 0.88 4.25 0.92 4.25 0.92 4.25 0.88 4.25 0.79 4.25 0.67 4.25 0.5 4.25 0.31 4.25 0.11 4.25 -0.11 4.25 -0.31 4.25 -0.5 4.25 -0.67 4.25 -0.79 4.25 -0.88 4.25 -0.92 4.25 -0.92 4.25 -0.88 4.25 -0.79 4.25 -0.67 4.25 -0.53 4.25 -0.37 4.25 -0.21 4.25 -0.05 4.25 0.1 4.25 0.23 4.25 0.33 4.25 0.4 4.25 0.44 4.25 0.45 4.25 0.43 4.25 0.39 4.25 0.33 4.25 0.26 4.25 0.19 4.25 0.11 4.25 0.05 4.25 -0.01 4.25 -0.05 4.25 -0.07 4.25 -0.08" fill="none" stroke="#4b38a8" stroke-width="1.08"/>
<path d="M38.22,335.73l4.25 0.08 4.25 0.07 4.25 0.05 4.25 0.01 4.25 -0.05 4.25 -0.11 4.25 -0.19 4.25 -0.26 4.25 -0.33 4.25 -0.39 4.25 -0.43 4.25 -0.45 4.25 -0.44 4.25 -0.4 4.25 -0.33 4.25 -0.23 4.25 -0.1 4.25 0.05 4.25 0.21 4.25 0.37 4.25 0.53 4.25 0.67 4.25 0.79 4.25 0.88 4.25 0.92 4.25 0.92 4.25 0.88 4.25 0.79 4.25 0.67 4.25 0.5 4.25 0.31 4.25 0.11 4.25 -0.11 4.25 -0.31 4.25 -0.5 4.25 -0.67 4.25 -0.79 4.25 -0.88 4.25 -0.92 4.25 -0.92 4.25 -0.88 4.25 -0.79 4.25 -0.67 4.25 -0.53 4.25 -0.37 4.25 -0.21 4.25 -0.05 4.25 0.1 4.25 0.23 4.25 0.33 4.25 0.4 4.25 0.44 4.25 0.45 4.25 0.43 4.25 0.39 4.25 0.33 4.25 0.26 4.25 0.19 4.25 0.11 4.25 0.05 4.25 -0.01 4.25 -0.05 4.25 -0.07 4.25 -0.08" fill="none" stroke="#4b38a8" stroke-width="1.08"/>
<path d="M38.22,296.73l4.25 0.08 4.25 0.07 4.25 0.05 4.25 0.01 4.25 -0.05 4.25 -0.11 4.25 -0.19 4.25 -0.26 4.25 -0.33 4.25 -0.39 4.25 -0.43 4.25 -0.45 4.25 -0.44 4.25 -0.4 4.25 -0.33 4.25 -0.23 4.25 -0.1 4.25 0.05 4.25 0.21 4.25 0.37 4.25 0.53 4.25 0.67 4.25 0.79 4.25 0.88 4.25 0.92 4.25 0.92 4.25 0.88 4.25 0.79 4.25 0.67 4.25 0.5 4.25 0.31 4.25 0.11 4.25 -0.11 4.25 -0.31 4.25 -0.5 4.25 -0.67 4.25 -0.79 4.25 -0.88 4.25 -0.92 4.25 -0.92 4.25 -0.88 4.25 -0.79 4.25 -0.67 4.25 -0.53 4.25 -0.37 4.25 -0.21 4.25 -0.05 4.25 0.1 4.25 0.23 4.25 0.33 4.25 0.4 4.25 0.44 4.25 0.45 4.25 0.43 4.25 0.39 4.25 0.33 4.25 0.26 4.25 0.19 4.25 0.11 4.25 0.05 4.25 -0.01 4.25 -0.05 4.25 -0.07 4.25 -0.08" fill="none" stroke="#4b38a9" stroke-width="1.08"/>
<path d="M38.22,335.13l4.25 0.08 4.25 0.07 4.25 0.05 4.25 0.01 4.25 -0.05 4.25 -0.11 4.25 -0.19 4.25 -0.26 4.25 -0.33 4.25 -0.39 4.25 -0.43 4.25 -0.45 4.25 -0.44 4.25 -0.4 4.25 -0.33 4.25 -0.23 4.25 -0.1 4.25 0.05 4.25 0.21 4.25 0.37 4.25 0.53 4.25 0.67 4.25 0.79 4.25 0.88 4.25 0.92 4.25 0.92 4.25 0.88 4.25 0.79 4.25 0.67 4.25 0.5 4.25 0.31 4.25 0.11 4.25 -0.11 4.25 -0.31 4.25 -0.5 4.25 -0.67 4.25 -0.79 4.25 -0.88 4.25 -0.92 4.25 -0.92 4.25 -0.88 4.25 -0.79 4.25 -0.67 4.25 -0.53 4.25 -0.37 4.25 -0.21 4.25 -0.05 4.25 0.1 4.25 0.23 4.25 0.33 4.25 0.4 4.25 0.44 4.25 0.45 4.25 0.43 4.25 0.39 4.25 0.33 4.25 0.26 4.25 0.19 4.25 0.11 4.25 0.05 4.25 -0.01 4.25 -0.05 4.25 -0.07 4.25 -0.08" fill="none" stroke="#4b38a9" stroke-width="1.08"/>
<path d="M38.22,297.33l4.25 0.08 4.25 0.07 4.25 0.05 4.25 0.01 4.25 -0.05 4.25 -0.11 4.25 -0.19 4.25 -0.26 4.25 -0.33 4.25 -0.39 4.25 -0.43 4.25 -0.45 4.25 -0.44 4.25 -0.4 4.25 -0.33 4.25 -0.23 4.25 -0.1 4.25 0.05 4.25 0.21 4.25 0.37 4.25 0.53 4.25 0.67 4.25 0.79 4.25 0.88 4.25 0.92 4.25 0.92 4.25 0.88 4.25 0.79 4.25 0.67 4.25 0.5 4.25 0.31 4.25 0.11 4.25 -0.11 4.25 -0.31 4.25 -0.5 4.25 -0.67 4.25 -0.79 4.25 -0.88 4.25 -0.92 4.25 -0.92 4.25 -0.88 4.25 -0.79 4.25 -0.67 4.25 -0.53 4.25 -0.37 4.25 -0.21 4.25 -0.05 4.25 0.1 4.25 0.23 4.25 0.33 4.25 0.4 4.25 0.44 4.25 0.45 4.25 0.43 4.25 0.39 4.25 0.33 4.25 0.26 4.25 0.19 4.25 0.11 4.25 0.05 4.25 -0.01 4.25 -0.05 4.25 -0.07 4.25 -0.08" fill="none" stroke="#4b39a9" stroke-width="1.08"/>
<path d="M38.22,334.53l4.25 0.08 4.25 0.07 4.25 0.05 4.25 0.01 4.25 -0.05 4.25 -0.11 4.25 -0.19 4.25 -0.26 4.25 -0.33 4.25 -0.39 4.25 -0.43 4.25 -0.45 4.25 -0.44 4.25 -0.4 4.25 -0.33 4.25 -0.23 4.25 -0.1 4.25 0.05 4.25 0.21 4.25 0.37 4.25 0.53 4.25 0.67 4.25 0.79 4.25 0.88 4.25 0.92 4.25 0.92 4.25 0.88 4.25 0.79 4.25 0.67 4.25 0.5 4.25 0.31 4.25 0.11 4.25 -0.11 4.25 -0.31 4.25 -0.5 4.25 -0.67 4.25 -0.79 4.25 -0.88 4.25 -0.92 4.25 -0.92 4.25 -0.88 4.25 -0.79 4.25 -0.67 4.25 -0.53 4.25 -0.37 4.25 -0.21 4.25 -0.05 4.25 0.1 4.25 0.23 4.25 0.33 4.25 0.4 4.25 0.44 4.25 0.45 4.25 0.43 4.25 0.39 4.25 0.33 4.25 0.26 4.25 0.19 4.25 0.11 4.25 0.05 4.25 -0.01 4.25 -0.05 4.25 -0.07 4.25 -0.08" fill="none" stroke="#4b39a9" stroke-width="1.08"/>
<path d="M38.22,297.93l4.25 0.08 4.25 0.07 4.25 0.05 4.25 0.01 4.25 -0.05 4.25 -0.11 4.25 -0.19 4.25 -0.26 4.25 -0.33 4.25 -0.39 4.25 -0.43 4.25 -0.45 4.25 -0.44 4.25 -0.4 4.25 -0.33 4.25 -0.23 4.25 -0.1 4.25 0.05 4.25 0.21 4.25 0.37 4.25 0.53 4.25 0.67 4.25 0.79 4.25 0.88 4.25 0.92 4.25 0.92 4.25 0.88 4.25 0.79 4.25 0.67 4.25 0.5 4.25 0.31 4.25 0.11 4.25 -0.11 4.25 -0.31 4.25 -0.5 4.25 -0.67 4.25 -0.79 4.25 -0.88 4.25 -0.92 4.25 -0.92 4.25 -0.88 4.25 -0.79 4.25 -0.67 4.25 -0.53 4.25 -0.37 4.25 -0.21 4.25 -0.05 4.25 0.1 4.25 0.23 4.25 0.33 4.25 0.4 4.25 0.44 4.25 0.45 4.25 0.43 4.25 0.39 4.25 0.33 4.25 0.26 4.25 0.19 4.25 0.11 4.25 0.05 4.25 -0.01 4.25 -0.05 4.25 -0.07 4.25 -0.08" fill="none" stroke="#4a3aaa" stroke-width="1.08"/>
<path d="M38.22,333.93l4.25 0.08 4.25 0.07 4.25 0.05 4.25 0.01 4.25 -0.05 4.25 -0.11 4.25 -0.19 4.25 -0.26 4.25 -0.33 4.25 -0.39 4.25 -0.43 4.25 -0.45 4.25 -0.44 4.25 -0.4 4.25 -0.33 4.25 -0.23 4.25 -0.1 4.25 0.05 4.25 0.21 4.25 0.37 4.25 0.53 4.25 0.67 4.25 0.79 4.25 0.88 4.25 0.92 4.25 0.92 4.25 0.88 4.25 0.79 4.25 0.67 4.25 0.5 4.25 0.31 4.25 0.11 4.25 -0.11 4.25 -0.31 4.25 -0.5 4.25 -0.67 4.25 -0.79 4.25 -0.88 4.25 -0.92 4.25 -0.92 4.25 -0.88 4.25 -0.79 4.25 -0.67 4.25 -0.53 4.25 -0.37 4.25 -0.21 4.25 -0.05 4.25 0.1 4.25 0.23 4.25 0.33 4.25 0.4 4.25 0.44 4.25 0.45 4.25 0.43 4.25 0.39 4.25 0.33 4.25 0.26 4.25 0.19 4.25 0.11 4.25 0.05 4.25 -0.01 4.25 -0.05 4.25 -0.07 4.25 -0.08" fill="none" stroke="#4a3aaa" stroke-width="1.08"/>
<path d="M38.22,298.53l4.25 0.08 4.25 0.07 4.25 0.05 4.25 0.01 4.25 -0.05 4.25 -0.11 4.25 -0.19 4.25 -0.26 4.25 -0.33 4.25 -0.39 4.25 -0.43 4.25 -0.45 4.25 -0.44 4.25 -0.4 4.25 -0.33 4.25 -0.23 4.25 -0.1 4.25 0.05 4.25 0.21 4.25 0.37 4.25 0.53 4.25 0.67 4.25 0.79 4.25 0.88 4.25 0.92 4.25 0.92 4.25 0.88 4.25 0.79 4.25 0.67 4.25 0.5 4.25 0.31 4.25 0.11 4.25 -0.11 4.25 -0.31 4.25 -0.5 4.25 -0.67 4.25 -0.79 4.25 -0.88 4.25 -0.92 4.25 -0.92 4.25 -0.88 4.25 -0.79 4.25 -0.67 4.25 -0.53 4.25 -0.37 4.25 -0.21 4.25 -0.05 4.25 0.1 4.25 0.23 4.25 0.33 4.25 0.4 4.25 0.44 4.25 0.45 4.25 0.43 4.25 0.39 4.25 0.33 4.25 0.26 4.25 0.19 4.25 0.11 4.25 0.05 4.25 -0.01 4.25 -0.05 4.25 -0.07 4.25 -0.08" fill="none" stroke="#4a3bab" stroke-width="1.08"/>
<path d="M38.22,333.33l4.25 0.08 4.25 0.07 4.25 0.05 4.25 0.01 4.25 -0.05 4.25 -0.11 4.25 -0.19 4.25 -0.26 4.25 -0.33 4.25 -0.39 4.25 -0.43 4.25 -0.45 4.25 -0.44 4.25 -0.4 4.25 -0.33 4.25 -0.23 4.25 -0.1 4.25 0.05 4.25 0.21 4.25 0.37 4.25 0.53 4.25 0.67 4.25 0.79 4.25 0.88 4.25 0.92 4.25 0.92 4.25 0.88 4.25 0.79 4.25 0.67 4.25 0.5 4.25 0.31 4.25 0.11 4.25 -0.11 4.25 -0.31 4.25 -0.5 4.25 -0.67 4.25 -0.79 4.25 -0.88 4.25 -0.92 4.25 -0.92 4.25 -0.88 4.25 -0.79 4.25 -0.67 4.25 -0.53 4.25 -0.37 4.25 -0.21 4.25 -0.05 4.25 0.1 4.25 0.23 4.25 0.33 4.25 0.4 4.25 0.44 4.25 0.45 4.25 0.43 4.25 0.39 4.25 0.33 4.25 0.26 4.25 0.19 4.25 0.11 4.25 0.05 4.25 -0.01 4.25 -0.05 4.25 -0.07 4.25 -0.08" fill="none" stroke="#4a3bab" stroke-width="1.08"/>
<path d="M38.22,299.13l4.25 0.08 4.25 0.07 4.25 0.05 4.25 0.01 4.25 -0.05 4.25 -0.11 4.25 -0.19 4.25 -0.26 4.25 -0.33 4.25 -0.39 4.25 -0.43 4.25 -0.45 4.25 -0.44 4.25 -0.4 4.25 -0.33 4.25 -0.23 4.25 -0.1 4.25 0.05 4.25 0.21 4.25 0.37 4.25 0.53 4.25 0.67 4.25 0.79 4.25 0.88 4.25 0.92 4.25 0.92 4.25 0.88 4.25 0.79 4.25 0.67 4.25 0.5 4.25 0.31 4.25 0.11 4.25 -0.11 4.25 -0.31 4.25 -0.5 4.25 -0.67 4.25 -0.79 4.25 -0.88 4.25 -0.92 4.25 -0.92 4.25 -0.88 4.25 -0.79 4.25 -0.67 4.25 -0.53 4.25 -0.37 4.25 -0.21 4.25 -0.05 4.25 0.1 4.25 0.23 4.25 0.33 4.25 0.4 4.25 0.44 4.25 0.45 4.25 0.43 4.25 0.39 4.25 0.33 4.25 0.26 4.25 0.19 4.25 0.11 4.25 0.05 4.25 -0.01 4.25 -0.05 4.25 -0.07 4.25 -0.08" fill="none" stroke="#4a3cac" stroke-width="1.08"/>
<path d="M38.22,332.73l4.25 0.08 4.25 0.07 4.25 0.05 4.25 0.01 4.25 -0.05 4.25 -0.11 4.25 -0.19 4.25 -0.26 4.25 -0.33 4.25 -0.39 4.25 -0.43 4.25 -0.45 4.25 -0.44 4.25 -0.4 4.25 -0.33 4.25 -0.23 4.25 -0.1 4.25 0.05 4.25 0.21 4.25 0.37 4.25 0.53 4.25 0.67 4.25 0.79 4.25 0.88 4.25 0.92 4.25 0.92 4.25 0.88 4.25 0.79 4.25 0.67 4.25 0.5 4.25 0.31 4.25 0.11 4.25 -0.11 4.25 -0.31 4.25 -0.5 4.25 -0.67 4.25 -0.79 4.25 -0.88 4.25 -0.92 4.25 -0.92 4.25 -0.88 4.25 -0.79 4.25 -0.67 4.25 -0.53 4.25 -0.37 4.25 -0.21 4.25 -0.05 4.25 0.1 4.25 0.23 4.25 0.33 4.25 0.4 4.25 0.44 4.25 0.45 4.25 0.43 4.25 0.39 4.25 0.33 4.25 0.26 4.25 0.19 4.25 0.11 4.25 0.05 4.25 -0.01 4.25 -0.05 4.25 -0.07 4.25 -0.08" fill="none" stroke="#4a3cac" stroke-width="1.08"/>
<path d="M38.22,299.73l4.25 0.08 4.25 0.07 4.25 0.05 4.25 0.01 4.25 -0.05 4.25 -0.11 4.25 -0.19 4.25 -0.26 4.25 -0.33 4.25 -0.39 4.25 -0.43 4.25 -0.45 4.25 -0.44 4.25 -0.4 4.25 -0.33 4.25 -0.23 4.25 -0.1 4.25 0.05 4.25 0.21 4.25 0.37 4.25 0.53 4.25 0.67 4.25 0.79 4.25 0.88 4.25 0.92 4.25 0.92 4.25 0.88 4.25 0.79 4.25 0.67 4.25 0.5 4.25 0.31 4.25 0.11 4.25 -0.11 4.25 -0.31 4.25 -0.5 4.25 -0.67 4.25 -0.79 4.25 -0.88 4.25 -0.92 4.25 -0.92 4.25 -0.88 4.25 -0.79 4.25 -0.67 4.25 -0.53 4.25 -0.37 4.25 -0.21 4.25 -0.05 4.25 0.1 4.25 0.23 4.25 0.33 4.25 0.4 4.25 0.44 4.25 0.45 4.25 0.43 4.25 0.39 4.25 0.33 4.25 0.26 4.25 0.19 4.25 0.11 4.25 0.05 4.25 -0.01 4.25 -0.05 4.25 -0.07 4.25 -0.08" fill="none" stroke="#493dae" stroke-width="1.08"/>
<path d="M38.22,332.13l4.25 0.08 4.25 0.07 4.25 0.05 4.25 0.01 4.25 -0.05 4.25 -0.11 4.25 -0.19 4.25 -0.26 4.25 -0.33 4.25 -0.39 4.25 -0.43 4.25 -0.45 4.25 -0.44 4.25 -0.4 4.25 -0.33 4.25 -0.23 4.25 -0.1 4.25 0.05 4.25 0.21 4.25 0.37 4.25 0.53 4.25 0.67 4.25 0.79 4.25 0.88 4.25 0.92 4.25 0.92 4.25 0.88 4.25 0.79 4.25 0.67 4.25 0.5 4.25 0.31 4.25 0.11 4.25 -0.11 4.25 -0.31 4.25 -0.5 4.25 -0.67 4.25 -0.79 4.25 -0.88 4.25 -0.92 4.25 -0.92 4.25 -0.88 4.25 -0.79 4.25 -0.67 4.25 -0.53 4.25 -0.37 4.25 -0.21 4.25 -0.05 4.25 0.1 4.25 0.23 4.25 0.33 4.25 0.4 4.25 0.44 4.25 0.45 4.25 0.43 4.25 0.39 4.25 0.33 4.25 0.26 4.25 0.19 4.25 0.11 4.25 0.05 4.25 -0.01 4.25 -0.05 4.25 -0.07 4.25 -0.08" fill="none" stroke="#493dae" stroke-width="1.08"/>
<path d="M38.22,300.33l4.25 0.08 4.25 0.07 4.25 0.05 4.25 0.01 4.25 -0.05 4.25 -0.11 4.25 -0.19 4.25 -0.26 4.25 -0.33 4.25 -0.39 4.25 -0.43 4.25 -0.45 4.25 -0.44 4.25 -0.4 4.25 -0.33 4.25 -0.23 4.25 -0.1 4.25 0.05 4.25 0.21 4.25 0.37 4.25 0.53 4.25 0.67 4.25 0.79 4.25 0.88 4.25 0.92 4.25 0.92 4.25 0.88 4.25 0.79 4.25 0.67 4.25 0.5 4.25 0.31 4.25 0.11 4.25 -0.11 4.25 -0.31 4.25 -0.5 4.25 -0.67 4.25 -0.79 4.25 -0.88 4.25 -0.92 4.25 -0.92 4.25 -0.88 4.25 -0.79 4.25 -0.67 4.25 -0.53 4.25 -0.37 4.25 -0.21 4.25 -0.05 4.25 0.1 4.25 0.23 4.25 0.33 4.25 0.4 4.25 0.44 4.25 0.45 4.25 0.43 4.25 0.39 4.25 0.33 4.25 0.26 4.25 0.19 4.25 0.11 4.25 0.05 4.25 -0.01 4.25 -0.05 4.25 -0.07 4.25 -0.08" fill="none" stroke="#493eaf" stroke-width="1.08"/>
<path d="M38.22,331.53l4.25 0.08 4.25 0.07 4.25 0.05 4.25 0.01 4.25 -0.05 4.25 -0.11 4.25 -0.19 4.25 -0.26 4.25 -0.33 4.25 -0.39 4.25 -0.43 4.25 -0.45 4.25 -0.44 4.25 -0.4 4.25 -0.33 4.25 -0.23 4.25 -0.1 4.25 0.05 4.25 0.21 4.25 0.37 4.25 0.53 4.25 0.67 4.25 0.79 4.25 0.88 4.25 0.92 4.25 0.92 4.25 0.88 4.25 0.79 4.25 0.67 4.25 0.5 4.25 0.31 4.25 0.11 4.25 -0.11 4.25 -0.31 4.25 -0.5 4.25 -0.67 4.25 -0.79 4.25 -0.88 4.25 -0.92 4.25 -0.92 4.25 -0.88 4.25 -0.79 4.25 -0.67 4.25 -0.53 4.25 -0.37 4.25 -0.21 4.25 -0.05 4.25 0.1 4.25 0.23 4.25 0.33 4.25 0.4 4.25 0.44 4.25 0.45 4.25 0.43 4.25 0.39 4.25 0.33 4.25 0.26 4.25 0.19 4.25 0.11 4.25 0.05 4.25 -0.01 4.25 -0.05 4.25 -0.07 4.25 -0.08" fill="none" stroke="#493eaf" stroke-width="1.08"/>
<path d="M38.22,300.93l4.25 0.08 4.25 0.07 4.25 0.05 4.25 0.01 4.25 -0.05 4.25 -0.11 4.25 -0.19 4.25 -0.26 4.25 -0.33 4.25 -0.39 4.25 -0.43 4.25 -0.45 4.25 -0.44 4.25 -0.4 4.25 -0.33 4.25 -0.23 4.25 -0.1 4.25 0.05 4.25 0.21 4.25 0.37 4.25 0.53 4.25 0.67 4.25 0.79 4.25 0.88 4.25 0.92 4.25 0.92 4.25 0.88 4.25 0.79 4.25 0.67 4.25 0.5 4.25 0.31 4.25 0.11 4.25 -0.11 4.25 -0.31 4.25 -0.5 4.25 -0.67 4.25 -0.79 4.25 -0.88 4.25 -0.92 4.25 -0.92 4.25 -0.88 4.25 -0.79 4.25 -0.67 4.25 -0.53 4.25 -0.37 4.25 -0.21 4.25 -0.05 4.25 0.1 4.25 0.23 4.25 0.33 4.25 0.4 4.25 0.44 4.25 0.45 4.25 0.43 4.25 0.39 4.25 0.33 4.25 0.26 4.25 0.19 4.25 0.11 4.25 0.05 4.25 -0.01 4.25 -0.05 4.25 -0.07 4.25 -0.08" fill="none" stroke="#483fb0" stroke-width="1.08"/>
<path d="M38.22,330.93l4.25 0.08 4.25 0.07 4.25 0.05 4.25 0.01 4.25 -0.05 4.25 -0.11 4.25 -0.19 4.25 -0.26 4.25 -0.33 4.25 -0.39 4.25 -0.43 4.25 -0.45 4.25 -0.44 4.25 -0.4 4.25 -0.33 4.25 -0.23 4.25 -0.1 4.25 0.05 4.25 0.21 4.25 0.37 4.25 0.53 4.25 0.67 4.25 0.79 4.25 0.88 4.25 0.92 4.25 0.92 4.25 0.88 4.25 0.79 4.25 0.67 4.25 0.5 4.25 0.31 4.25 0.11 4.25 -0.11 4.25 -0.31 4.25 -0.5 4.25 -0.67 4.25 -0.79 4.25 -0.88 4.25 -0.92 4.25 -0.92 4.25 -0.88 4.25 -0.79 4.25 -0.67 4.25 -0.53 4.25 -0.37 4.25 -0.21 4.25 -0.05 4.25 0.1 4.25 0.23 4.25 0.33 4.25 0.4 4.25 0.44 4.25 0.45 4.25 0.43 4.25 0.39 4.25 0.33 4.25 0.26 4.25 0.19 4.25 0.11 4.25 0.05 4.25 -0.01 4.25 -0.05 4.25 -0.07 4.25 -0.08" fill="none" stroke="#483fb0" stroke-width="1.08"/>
<path d="M38.22,301.53l4.25 0.08 4.25 0.07 4.25 0.05 4.25 0.01 4.25 -0.05 4.25 -0.11 4.25 -0.19 4.25 -0.26 4.25 -0.33 4.25 -0.39 4.25 -0.43 4.25 -0.45 4.25 -0.44 4.25 -0.4 4.25 -0.33 4.25 -0.23 4.25 -0.1 4.25 0.05 4.25 0.21 4.25 0.37 4.25 0.53 4.25 0.67 4.25 0.79 4.25 0.88 4.25 0.92 4.25 0.92 4.25 0.88 4.25 0.79 4.25 0.67 4.25 0.5 4.25 0.31 4.25 0.11 4.25 -0.11 4.25 -0.31 4.25 -0.5 4.25 -0.67 4.25 -0.79 4.25 -0.88 4.25 -0.92 4.25 -0.92 4.25 -0.88 4.25 -0.79 4.25 -0.67 4.25 -0.53 4.25 -0.37 4.25 -0.21 4.25 -0.05 4.25 0.1 4.25 0.23 4.25 0.33 4.25 0.4 4.25 0.44 4.25 0.45 4.25 0.43 4.25 0.39 4.25 0.33 4.25 0.26 4.25 0.19 4.25 0.11 4.25 0.05 4.25 -0.01 4.25 -0.05 4.25 -0.07 4.25 -0.08" fill="none" stroke="#4741b2" stroke-width="1.08"/>
<path d="M38.22,330.33l4.25 0.08 4.25 0.07 4.25 0.05 4.25 0.01 4.25 -0.05 4.25 -0.11 4.25 -0.19 4.25 -0.26 4.25 -0.33 4.25 -0.39 4.25 -0.43 4.25 -0.45 4.25 -0.44 4.25 -0.4 4.25 -0.33 4.25 -0.23 4.25 -0.1 4.25 0.05 4.25 0.21 4.25 0.37 4.25 0.53 4.25 0.67 4.25 0.79 4.25 0.88 4.25 0.92 4.25 0.92 4.25 0.88 4.25 0.79 4.25 0.67 4.25 0.5 4.25 0.31 4.25 0.11 4.25 -0.11 4.25 -0.31 4.25 -0.5 4.25 -0.67 4.25 -0.79 4.25 -0.88 4.25 -0.92 4.25 -0.92 4.25 -0.88 4.25 -0.79 4.25 -0.67 4.25 -0.53 4.25 -0.37 4.25 -0.21 4.25 -0.05 4.25 0.1 4.25 0.23 4.25 0.33 4.25 0.4 4.25 0.44 4.25 0.45 4.25 0.43 4.25 0.39 4.25 0.33 4.25 0.26 4.25 0.19 4.25 0.11 4.25 0.05 4.25 -0.01 4.25 -0.05 4.25 -0.07 4.25 -0.08" fill="none" stroke="#4741b2" stroke-width="1.08"/>
<path d="M38.22,302.13l4.25 0.08 4.25 0.07 4.25 0.05 4.25 0.01 4.25 -0.05 4.25 -0.11 4.25 -0.19 4.25 -0.26 4.25 -0.33 4.25 -0.39 4.25 -0.43 4.25 -0.45 4.25 -0.44 4.25 -0.4 4.25 -0.33 4.25 -0.23 4.25 -0.1 4.25 0.05 4.25 0.21 4.25 0.37 4.25 0.53 4.25 0.67 4.25 0.79 4.25 0.88 4.25 0.92 4.25 0.92 4.25 0.88 4.25 0.79 4.25 0.67 4.25 0.5 4.25 0.31 4.25 0.11 4.25 -0.11 4.25 -0.31 4.25 -0.5 4.25 -0.67 4.25 -0.79 4.25 -0.88 4.25 -0.92 4.25 -0.92 4.25 -0.88 4.25 -0.79 4.25 -0.67 4.25 -0.53 4.25 -0.37 4.25 -0.21 4.25 -0.05 4.25 0.1 4.25 0.23 4.25 0.33 4.25 0.4 4.25 0.44 4.25 0.45 4.25 0.43 4.25 0.39 4.25 0.33 4.25 0.26 4.25 0.19 4.25 0.11 4.25 0.05 4.25 -0.01 4.25 -0.05 4.25 -0.07 4.25 -0.08" fill="none" stroke="#4742b4" stroke-width="1.08"/>
<path d="M38.22,329.73l4.25 0.08 4.25 0.07 4.25 0.05 4.25 0.01 4.25 -0.05 4.25 -0.11 4.25 -0.19 4.25 -0.26 4.25 -0.33 4.25 -0.39 4.25 -0.43 4.25 -0.45 4.25 -0.44 4.25 -0.4 4.25 -0.33 4.25 -0.23 4.25 -0.1 4.25 0.05 4.25 0.21 4.25 0.37 4.25 0.53 4.25 0.67 4.25 0.79 4.25 0.88 4.25 0.92 4.25 0.92 4.25 0.88 4.25 0.79 4.25 0.67 4.25 0.5 4.25 0.31 4.25 0.11 4.25 -0.11 4.25 -0.31 4.25 -0.5 4.25 -0.67 4.25 -0.79 4.25 -0.88 4.25 -0.92 4.25 -0.92 4.25 -0.88 4.25 -0.79 4.25 -0.67 4.25 -0.53 4.25 -0.37 4.25 -0.21 4.25 -0.05 4.25 0.1 4.25 0.23 4.25 0.33 4.25 0.4 4.25 0.44 4.25 0.45 4.25 0.43 4.25 0.39 4.25 0.33 4.25 0.26 4.25 0.19 4.25 0.11 4.25 0.05 4.25 -0.01 4.25 -0.05 4.25 -0.07 4.25 -0.08" fill="none" stroke="#4742b4" stroke-width="1.08"/>
<path d="M38.22,302.73l4.25 0.08 4.25 0.07 4.25 0.05 4.25 0.01 4.25 -0.05 4.25 -0.11 4.25 -0.19 4.25 -0.26 4.25 -0.33 4.25 -0.39 4.25 -0.43 4.25 -0.45 4.25 -0.44 4.25 -0.4 4.25 -0.33 4.25 -0.23 4.25 -0.1 4.25 0.05 4.25 0.21 4.25 0.37 4.25 0.53 4.25 0.67 4.25 0.79 4.25 0.88 4.25 0.92 4.25 0.92 4.25 0.88 4.25 0.79 4.25 0.67 4.25 0.5 4.25 0.31 4.25 0.11 4.25 -0.11 4.25 -0.31 4.25 -0.5 4.25 -0.67 4.25 -0.79 4.25 -0.88 4.25 -0.92 4.25 -0.92 4.25 -0.88 4.25 -0.79 4.25 -0.67 4.25 -0.53 4.25 -0.37 4.25 -0.21 4.25 -0.05 4.25 0.1 4.25 0.23 4.25 0.33 4.25 0.4 4.25 0.44 4.25 0.45 4.25 0.43 4.25 0.39 4.25 0.33 4.25 0.26 4.25 0.19 4.25 0.11 4.25 0.05 4.25 -0.01 4.25 -0.05 4.25 -0.07 4.25 -0.08" fill="none" stroke="#4644b6" stroke-width="1.08"/>
<path d="M38.22,329.13l4.25 0.08 4.25 0.07 4.25 0.05 4.25 0.01 4.25 -0.05 4.25 -0.11 4.25 -0.19 4.25 -0.26 4.25 -0.33 4.25 -0.39 4.25 -0.43 4.25 -0.45 4.25 -0.44 4.25 -0.4 4.25 -0.33 4.25 -0.23 4.25 -0.1 4.25 0.05 4.25 0.21 4.25 0.37 4.25 0.53 4.25 0.67 4.25 0.79 4.25 0.88 4.25 0.92 4.25 0.92 4.25 0.88 4.25 0.79 4.25 0.67 4.25 0.5 4.25 0.31 4.25 0.11 4.25 -0.11 4.25 -0.31 4.25 -0.5 4.25 -0.67 4.25 -0.79 4.25 -0.88 4.25 -0.92 4.25 -0.92 4.25 -0.88 4.25 -0.79 4.25 -0.67 4.25 -0.53 4.25 -0.37 4.25 -0.21 4.25 -0.05 4.25 0.1 4.25 0.23 4.25 0.33 4.25 0.4 4.25 0.44 4.25 0.45 4.25 0.43 4.25 0.39 4.25 0.33 4.25 0.26 4.25 0.19 4.25 0.11 4.25 0.05 4.25 -0.01 4.25 -0.05 4.25 -0.07 4.25 -0.08" fill="none" stroke="#4644b6" stroke-width="1.08"/>
<path d="M38.22,303.33l4.25 0.08 4.25 0.07 4.25 0.05 4.25 0.01 4.25 -0.05 4.25 -0.11 4.25 -0.19 4.25 -0.26 4.25 -0.33 4.25 -0.39 4.25 -0.43 4.25 -0.45 4.25 -0.44 4.25 -0.4 4.25 -0.33 4.25 -0.23 4.25 -0.1 4.25 0.05 4.25 0.21 4.25 0.37 4.25 0.53 4.25 0.67 4.25 0.79 4.25 0.88 4.25 0.92 4.25 0.92 4.25 0.88 4.25 0.79 4.25 0.67 4.25 0.5 4.25 0.31 4.25 0.11 4.25 -0.11 4.25 -0.31 4.25 -0.5 4.25 -0.67 4.25 -0.79 4.25 -0.88 4.25 -0.92 4.25 -0.92 4.25 -0.88 4.25 -0.79 4.25 -0.67 4.25 -0.53 4.25 -0.37 4.25 -0.21 4.25 -0.05 4.25 0.1 4.25 0.23 4.25 0.33 4.25 0.4 4.25 0.44 4.25 0.45 4.25 0.43 4.25 0.39 4.25 0.33 4.25 0.26 4.25 0.19 4.25 0.11 4.25 0.05 4.25 -0.01 4.25 -0.05 4.25 -0.07 4.25 -0.08" fill="none" stroke="#4546b8" stroke-width="1.08"/>
<path d="M38.22,328.53l4.25 0.08 4.25 0.07 4.25 0.05 4.25 0.01 4.25 -0.05 4.25 -0.11 4.25 -0.19 4.25 -0.26 4.25 -0.33 4.25 -0.39 4.25 -0.43 4.25 -0.45 4.25 -0.44 4.25 -0.4 4.25 -0.33 4.25 -0.23 4.25 -0.1 4.25 0.05 4.25 0.21 4.25 0.37 4.25 0.53 4.25 0.67 4.25 0.79 4.25 0.88 4.25 0.92 4.25 0.92 4.25 0.88 4.25 0.79 4.25 0.67 4.25 0.5 4.25 0.31 4.25 0.11 4.25 -0.11 4.25 -0.31 4.25 -0.5 4.25 -0.67 4.25 -0.79 4.25 -0.88 4.25 -0.92 4.25 -0.92 4.25 -0.88 4.25 -0.79 4.25 -0.67 4.25 -0.53 4.25 -0.37 4.25 -0.21 4.25 -0.05 4.25 0.1 4.25 0.23 4.25 0.33 4.25 0.4 4.25 0.44 4.25 0.45 4.25 0.43 4.25 0.39 4.25 0.33 4.25 0.26 4.25 0.19 4.25 0.11 4.25 0.05 4.25 -0.01 4.25 -0.05 4.25 -0.07 4.25 -0.08" fill="none" stroke="#4546b8" stroke-width="1.08"/>
<path d="M38.22,303.93l4.25 0.08 4.25 0.07 4.25 0.05 4.25 0.01 4.25 -0.05 4.25 -0.11 4.25 -0.19 4.25 -0.26 4.25 -0.33 4.25 -0.39 4.25 -0.43 4.25 -0.45 4.25 -0.44 4.25 -0.4 4.25 -0.33 4.25 -0.23 4.25 -0.1 4.25 0.05 4.25 0.21 4.25 0.37 4.25 0.53 4.25 0.67 4.25 0.79 4.25 0.88 4.25 0.92 4.25 0.92 4.25 0.88 4.25 0.79 4.25 0.67 4.25 0.5 4.25 0.31 4.25 0.11 4.25 -0.11 4.25 -0.31 4.25 -0.5 4.25 -0.67 4.25 -0.79 4.25 -0.88 4.25 -0.92 4.25 -0.92 4.25 -0.88 4.25 -0.79 4.25 -0.67 4.25 -0.53 4.25 -0.37 4.25 -0.21 4.25 -0.05 4.25 0.1 4.25 0.23 4.25 0.33 4.25 0.4 4.25 0.44 4.25 0.45 4.25 0.43 4.25 0.39 4.25 0.33 4.25 0.26 4.25 0.19 4.25 0.11 4.25 0.05 4.25 -0.01 4.25 -0.05 4.25 -0.07 4.25 -0.08" fill="none" stroke="#4448ba" stroke-width="1.08"/>
<path d="M38.22,327.93l4.25 0.08 4.25 0.07 4.25 0.05 4.25 0.01 4.25 -0.05 4.25 -0.11 4.25 -0.19 4.25 -0.26 4.25 -0.33 4.25 -0.39 4.25 -0.43 4.25 -0.45 4.25 -0.44 4.25 -0.4 4.25 -0.33 4.25 -0.23 4.25 -0.1 4.25 0.05 4.25 0.21 4.25 0.37 4.25 0.53 4.25 0.67 4.25 0.79 4.25 0.88 4.25 0.92 4.25 0.92 4.25 0.88 4.25 0.79 4.25 0.67 4.25 0.5 4.25 0.31 4.25 0.11 4.25 -0.11 4.25 -0.31 4.25 -0.5 4.25 -0.67 4.25 -0.79 4.25 -0.88 4.25 -0.92 4.25 -0.92 4.25 -0.88 4.25 -0.79 4.25 -0.67 4.25 -0.53 4.25 -0.37 4.25 -0.21 4.25 -0.05 4.25 0.1 4.25 0.23 4.25 0.33 4.25 0.4 4.25 0.44 4.25 0.45 4.25 0.43 4.25 0.39 4.25 0.33 4.25 0.26 4.25 0.19 4.25 0.11 4.25 0.05 4.25 -0.01 4.25 -0.05 4.25 -0.07 4.25 -0.08" fill="none" stroke="#4448ba" stroke-width="1.08"/>
<path d="M38.22,304.53l4.25 0.08 4.25 0.07 4.25 0.05 4.25 0.01 4.25 -0.05 4.25 -0.11 4.25 -0.19 4.25 -0.26 4.25 -0.33 4.25 -0.39 4.25 -0.43 4.25 -0.45 4.25 -0.44 4.25 -0.4 4.25 -0.33 4.25 -0.23 4.25 -0.1 4.25 0.05 4.25 0.21 4.25 0.37 4.25 0.53 4.25 0.67 4.25 0.79 4.25 0.88 4.25 0.92 4.25 0.92 4.25 0.88 4.25 0.79 4.25 0.67 4.25 0.5 4.25 0.31 4.25 0.11 4.25 -0.11 4.25 -0.31 4.25 -0.5 4.25 -0.67 4.25 -0.79 4.25 -0.88 4.25 -0.92 4.25 -0.92 4.25 -0.88 4.25 -0.79 4.25 -0.67 4.25 -0.53 4.25 -0.37 4.25 -0.21 4.25 -0.05 4.25 0.1 4.25 0.23 4.25 0.33 4.25 0.4 4.25 0.44 4.25 0.45 4.25 0.43 4.25 0.39 4.25 0.33 4.25 0.26 4.25 0.19 4.25 0.11 4.25 0.05 4.25 -0.01 4.25 -0.05 4.25 -0.07 4.25 -0.08" fill="none" stroke="#424fbe" stroke-width="1.08"/>
<path d="M38.22,327.33l4.25 0.08 4.25 0.07 4.25 0.05 4.25 0.01 4.25 -0.05 4.25 -0.11 4.25 -0.19 4.25 -0.26 4.25 -0.33 4.25 -0.39 4.25 -0.43 4.25 -0.45 4.25 -0.44 4.25 -0.4 4.25 -0.33 4.25 -0.23 4.25 -0.1 4.25 0.05 4.25 0.21 4.25 0.37 4.25 0.53 4.25 0.67 4.25 0.79 4.25 0.88 4.25 0.92 4.25 0.92 4.25 0.88 4.25 0.79 4.25 0.67 4.25 0.5 4.25 0.31 4.25 0.11 4.25 -0.11 4.25 -0.31 4.25 -0.5 4.25 -0.67 4.25 -0.79 4.25 -0.88 4.25 -0.92 4.25 -0.92 4.25 -0.88 4.25 -0.79 4.25 -0.67 4.25 -0.53 4.25 -0.37 4.25 -0.21 4.25 -0.05 4.25 0.1 4.25 0.23 4.25 0.33 4.25 0.4 4.25 0.44 4.25 0.45 4.25 0.43 4.25 0.39 4.25 0.33 4.25 0.26 4.25 0.19 4.25 0.11 4.25 0.05 4.25 -0.01 4.25 -0.05 4.25 -0.07 4.25 -0.08" fill="none" stroke="#424fbe" stroke-width="1.08"/>
<path d="M38.22,305.13l4.25 0.08 4.25 0.07 4.25 0.05 4.25 0.01 4.25 -0.05 4.25 -0.11 4.25 -0.19 4.25 -0.26 4.25 -0.33 4.25 -0.39 4.25 -0.43 4.25 -0.45 4.25 -0.44 4.25 -0.4 4.25 -0.33 4.25 -0.23 4.25 -0.1 4.25 0.05 4.25 0.21 4.25 0.37 4.25 0.53 4.25 0.67 4.25 0.79 4.25 0.88 4.25 0.92 4.25 0.92 4.25 0.88 4.25 0.79 4.25 0.67 4.25 0.5 4.25 0.31 4.25 0.11 4.25 -0.11 4.25 -0.31 4.25 -0.5 4.25 -0.67 4.25 -0.79 4.25 -0.88 4.25 -0.92 4.25 -0.92 4.25 -0.88 4.25 -0.79 4.25 -0.67 4.25 -0.53 4.25 -0.37 4.25 -0.21 4.25 -0.05 4.25 0.1 4.25 0.23 4.25 0.33 4.25 0.4 4.25 0.44 4.25 0.45 4.25 0.43 4.25 0.39 4.25 0.33 4.25 0.26 4.25 0.19 4.25 0.11 4.25 0.05 4.25 -0.01 4.25 -0.05 4.25 -0.07 4.25 -0.08" fill="none" stroke="#4058c3" stroke-width="1.08"/>
<path d="M38.22,326.73l4.25 0.08 4.25 0.07 4.25 0.05 4.25 0.01 4.25 -0.05 4.25 -0.11 4.25 -0.19 4.25 -0.26 4.25 -0.33 4.25 -0.39 4.25 -0.43 4.25 -0.45 4.25 -0.44 4.25 -0.4 4.25 -0.33 4.25 -0.23 4.25 -0.1 4.25 0.05 4.25 0.21 4.25 0.37 4.25 0.53 4.25 0.67 4.25 0.79 4.25 0.88 4.25 0.92 4.25 0.92 4.25 0.88 4.25 0.79 4.25 0.67 4.25 0.5 4.25 0.31 4.25 0.11 4.25 -0.11 4.25 -0.31 4.25 -0.5 4.25 -0.67 4.25 -0.79 4.25 -0.88 4.25 -0.92 4.25 -0.92 4.25 -0.88 4.25 -0.79 4.25 -0.67 4.25 -0.53 4.25 -0.37 4.25 -0.21 4.25 -0.05 4.25 0.1 4.25 0.23 4.25 0.33 4.25 0.4 4.25 0.44 4.25 0.45 4.25 0.43 4.25 0.39 4.25 0.33 4.25 0.26 4.25 0.19 4.25 0.11 4.25 0.05 4.25 -0.01 4.25 -0.05 4.25 -0.07 4.25 -0.08" fill="none" stroke="#4058c3" stroke-width="1.08"/>
<path d="M38.22,305.73l4.25 0.08 4.25 0.07 4.25 0.05 4.25 0.01 4.25 -0.05 4.25 -0.11 4.25 -0.19 4.25 -0.26 4.25 -0.33 4.25 -0.39 4.25 -0.43 4.25 -0.45 4.25 -0.44 4.25 -0.4 4.25 -0.33 4.25 -0.23 4.25 -0.1 4.25 0.05 4.25 0.21 4.25 0.37 4.25 0.53 4.25 0.67 4.25 0.79 4.25 0.88 4.25 0.92 4.25 0.92 4.25 0.88 4.25 0.79 4.25 0.67 4.25 0.5 4.25 0.31 4.25 0.11 4.25 -0.11 4.25 -0.31 4.25 -0.5 4.25 -0.67 4.25 -0.79 4.25 -0.88 4.25 -0.92 4.25 -0.92 4.25 -0.88 4.25 -0.79 4.25 -0.67 4.25 -0.53 4.25 -0.37 4.25 -0.21 4.25 -0.05 4.25 0.1 4.25 0.23 4.25 0.33 4.25 0.4 4.25 0.44 4.25 0.45 4.25 0.43 4.25 0.39 4.25 0.33 4.25 0.26 4.25 0.19 4.25 0.11 4.25 0.05 4.25 -0.01 4.25 -0.05 4.25 -0.07 4.25 -0.08" fill="none" stroke="#3d60c9" stroke-width="1.08"/>
<path d="M38.22,326.13l4.25 0.08 4.25 0.07 4.25 0.05 4.25 0.01 4.25 -0.05 4.25 -0.11 4.25 -0.19 4.25 -0.26 4.25 -0.33 4.25 -0.39 4.25 -0.43 4.25 -0.45 4.25 -0.44 4.25 -0.4 4.25 -0.33 4.25 -0.23 4.25 -0.1 4.25 0.05 4.25 0.21 4.25 0.37 4.25 0.53 4.25 0.67 4.25 0.79 4.25 0.88 4.25 0.92 4.25 0.92 4.25 0.88 4.25 0.79 4.25 0.67 4.25 0.5 4.25 0.31 4.25 0.11 4.25 -0.11 4.25 -0.31 4.25 -0.5 4.25 -0.67 4.25 -0.79 4.25 -0.88 4.25 -0.92 4.25 -0.92 4.25 -0.88 4.25 -0.79 4.25 -0.67 4.25 -0.53 4.25 -0.37 4.25 -0.21 4.25 -0.05 4.25 0.1 4.25 0.23 4.25 0.33 4.25 0.4 4.25 0.44 4.25 0.45 4.25 0.43 4.25 0.39 4.25 0.33 4.25 0.26 4.25 0.19 4.25 0.11 4.25 0.05 4.25 -0.01 4.25 -0.05 4.25 -0.07 4.25 -0.08" fill="none" stroke="#3d60c9" stroke-width="1.08"/>
<path d="M38.22,306.33l4.25 0.08 4.25 0.07 4.25 0.05 4.25 0.01 4.25 -0.05 4.25 -0.11 4.25 -0.19 4.25 -0.26 4.25 -0.33 4.25 -0.39 4.25 -0.43 4.25 -0.45 4.25 -0.44 4.25 -0.4 4.25 -0.33 4.25 -0.23 4.25 -0.1 4.25 0.05 4.25 0.21 4.25 0.37 4.25 0.53 4.25 0.67 4.25 0.79 4.25 0.88 4.25 0.92 4.25 0.92 4.25 0.88 4.25 0.79 4.25 0.67 4.25 0.5 4.25 0.31 4.25 0.11 4.25 -0.11 4.25 -0.31 4.25 -0.5 4.25 -0.67 4.25 -0.79 4.25 -0.88 4.25 -0.92 4.25 -0.92 4.25 -0.88 4.25 -0.79 4.25 -0.67 4.25 -0.53 4.25 -0.37 4.25 -0.21 4.25 -0.05 4.25 0.1 4.25 0.23 4.25 0.33 4.25 0.4 4.25 0.44 4.25 0.45 4.25 0.43 4.25 0.39 4.25 0.33 4.25 0.26 4.25 0.19 4.25 0.11 4.25 0.05 4.25 -0.01 4.25 -0.05 4.25 -0.07 4.25 -0.08" fill="none" stroke="#3b69ce" stroke-width="1.08"/>
<path d="M38.22,325.53l4.25 0.08 4.25 0.07 4.25 0.05 4.25 0.01 4.25 -0.05 4.25 -0.11 4.25 -0.19 4.25 -0.26 4.25 -0.33 4.25 -0.39 4.25 -0.43 4.25 -0.45 4.25 -0.44 4.25 -0.4 4.25 -0.33 4.25 -0.23 4.25 -0.1 4.25 0.05 4.25 0.21 4.25 0.37 4.25 0.53 4.25 0.67 4.25 0.79 4.25 0.88 4.25 0.92 4.25 0.92 4.25 0.88 4.25 0.79 4.25 0.67 4.25 0.5 4.25 0.31 4.25 0.11 4.25 -0.11 4.25 -0.31 4.25 -0.5 4.25 -0.67 4.25 -0.79 4.25 -0.88 4.25 -0.92 4.25 -0.92 4.25 -0.88 4.25 -0.79 4.25 -0.67 4.25 -0.53 4.25 -0.37 4.25 -0.21 4.25 -0.05 4.25 0.1 4.25 0.23 4.25 0.33 4.25 0.4 4.25 0.44 4.25 0.45 4.25 0.43 4.25 0.39 4.25 0.33 4.25 0.26 4.25 0.19 4.25 0.11 4.25 0.05 4.25 -0.01 4.25 -0.05 4.25 -0.07 4.25 -0.08" fill="none" stroke="#3b69ce" stroke-width="1.08"/>
<path d="M38.22,306.93l4.25 0.08 4.25 0.07 4.25 0.05 4.25 0.01 4.25 -0.05 4.25 -0.11 4.25 -0.19 4.25 -0.26 4.25 -0.33 4.25 -0.39 4.25 -0.43 4.25 -0.45 4.25 -0.44 4.25 -0.4 4.25 -0.33 4.25 -0.23 4.25 -0.1 4.25 0.05 4.25 0.21 4.25 0.37 4.25 0.53 4.25 0.67 4.25 0.79 4.25 0.88 4.25 0.92 4.25 0.92 4.25 0.88 4.25 0.79 4.25 0.67 4.25 0.5 4.25 0.31 4.25 0.11 4.25 -0.11 4.25 -0.31 4.25 -0.5 4.25 -0.67 4.25 -0.79 4.25 -0.88 4.25 -0.92 4.25 -0.92 4.25 -0.88 4.25 -0.79 4.25 -0.67 4.25 -0.53 4.25 -0.37 4.25 -0.21 4.25 -0.05 4.25 0.1 4.25 0.23 4.25 0.33 4.25 0.4 4.25 0.44 4.25 0.45 4.25 0.43 4.25 0.39 4.25 0.33 4.25 0.26 4.25 0.19 4.25 0.11 4.25 0.05 4.25 -0.01 4.25 -0.05 4.25 -0.07 4.25 -0.08" fill="none" stroke="#3872d3" stroke-width="1.08"/>
<path d="M38.22,324.93l4.25 0.08 4.25 0.07 4.25 0.05 4.25 0.01 4.25 -0.05 4.25 -0.11 4.25 -0.19 4.25 -0.26 4.25 -0.33 4.25 -0.39 4.25 -0.43 4.25 -0.45 4.25 -0.44 4.25 -0.4 4.25 -0.33 4.25 -0.23 4.25 -0.1 4.25 0.05 4.25 0.21 4.25 0.37 4.25 0.53 4.25 0.67 4.25 0.79 4.25 0.88 4.25 0.92 4.25 0.92 4.25 0.88 4.25 0.79 4.25 0.67 4.25 0.5 4.25 0.31 4.25 0.11 4.25 -0.11 4.25 -0.31 4.25 -0.5 4.25 -0.67 4.25 -0.79 4.25 -0.88 4.25 -0.92 4.25 -0.92 4.25 -0.88 4.25 -0.79 4.25 -0.67 4.25 -0.53 4.25 -0.37 4.25 -0.21 4.25 -0.05 4.25 0.1 4.25 0.23 4.25 0.33 4.25 0.4 4.25 0.44 4.25 0.45 4.25 0.43 4.25 0.39 4.25 0.33 4.25 0.26 4.25 0.19 4.25 0.11 4.25 0.05 4.25 -0.01 4.25 -0.05 4.25 -0.07 4.25 -0.08" fill="none" stroke="#3872d3" stroke-width="1.08"/>
<path d="M38.22,307.53l4.25 0.08 4.25 0.07 4.25 0.05 4.25 0.01 4.25 -0.05 4.25 -0.11 4.25 -0.19 4.25 -0.26 4.25 -0.33 4.25 -0.39 4.25 -0.43 4.25 -0.45 4.25 -0.44 4.25 -0.4 4.25 -0.33 4.25 -0.23 4.25 -0.1 4.25 0.05 4.25 0.21 4.25 0.37 4.25 0.53 4.25 0.67 4.25 0.79 4.25 0.88 4.25 0.92 4.25 0.92 4.25 0.88 4.25 0.79 4.25 0.67 4.25 0.5 4.25 0.31 4.25 0.11 4.25 -0.11 4.25 -0.31 4.25 -0.5 4.25 -0.67 4.25 -0.79 4.25 -0.88 4.25 -0.92 4.25 -0.92 4.25 -0.88 4.25 -0.79 4.25 -0.67 4.25 -0.53 4.25 -0.37 4.25 -0.21 4.25 -0.05 4.25 0.1 4.25 0.23 4.25 0.33 4.25 0.4 4.25 0.44 4.25 0.45 4.25 0.43 4.25 0.39 4.25 0.33 4.25 0.26 4.25 0.19 4.25 0.11 4.25 0.05 4.25 -0.01 4.25 -0.05 4.25 -0.07 4.25 -0.08" fill="none" stroke="#357bd9" stroke-width="1.08"/>
<path d="M38.22,324.33l4.25 0.08 4.25 0.07 4.25 0.05 4.25 0.01 4.25 -0.05 4.25 -0.11 4.25 -0.19 4.25 -0.26 4.25 -0.33 4.25 -0.39 4.25 -0.43 4.25 -0.45 4.25 -0.44 4.25 -0.4 4.25 -0.33 4.25 -0.23 4.25 -0.1 4.25 0.05 4.25 0.21 4.25 0.37 4.25 0.53 4.25 0.67 4.25 0.79 4.25 0.88 4.25 0.92 4.25 0.92 4.25 0.88 4.25 0.79 4.25 0.67 4.25 0.5 4.25 0.31 4.25 0.11 4.25 -0.11 4.25 -0.31 4.25 -0.5 4.25 -0.67 4.25 -0.79 4.25 -0.88 4.25 -0.92 4.25 -0.92 4.25 -0.88 4.25 -0.79 4.25 -0.67 4.25 -0.53 4.25 -0.37 4.25 -0.21 4.25 -0.05 4.25 0.1 4.25 0.23 4.25 0.33 4.25 0.4 4.25 0.44 4.25 0.45 4.25 0.43 4.25 0.39 4.25 0.33 4.25 0.26 4.25 0.19 4.25 0.11 4.25 0.05 4.25 -0.01 4.25 -0.05 4.25 -0.07 4.25 -0.08" fill="none" stroke="#357bd9" stroke-width="1.08"/>
<path d="M38.22,308.13l4.25 0.08 4.25 0.07 4.25 0.05 4.25 0.01 4.25 -0.05 4.25 -0.11 4.25 -0.19 4.25 -0.26 4.25 -0.33 4.25 -0.39 4.25 -0.43 4.25 -0.45 4.25 -0.44 4.25 -0.4 4.25 -0.33 4.25 -0.23 4.25 -0.1 4.25 0.05 4.25 0.21 4.25 0.37 4.25 0.53 4.25 0.67 4.25 0.79 4.25 0.88 4.25 0.92 4.25 0.92 4.25 0.88 4.25 0.79 4.25 0.67 4.25 0.5 4.25 0.31 4.25 0.11 4.25 -0.11 4.25 -0.31 4.25 -0.5 4.25 -0.67 4.25 -0.79 4.25 -0.88 4.25 -0.92 4.25 -0.92 4.25 -0.88 4.25 -0.79 4.25 -0.67 4.25 -0.53 4.25 -0.37 4.25 -0.21 4.25 -0.05 4.25 0.1 4.25 0.23 4.25 0.33 4.25 0.4 4.25 0.44 4.25 0.45 4.25 0.43 4.25 0.39 4.25 0.33 4.25 0.26 4.25 0.19 4.25 0.11 4.25 0.05 4.25 -0.01 4.25 -0.05 4.25 -0.07 4.25 -0.08" fill="none" stroke="#3385dd" stroke-width="1.08"/>
<path d="M38.22,323.73l4.25 0.08 4.25 0.07 4.25 0.05 4.25 0.01 4.25 -0.05 4.25 -0.11 4.25 -0.19 4.25 -0.26 4.25 -0.33 4.25 -0.39 4.25 -0.43 4.25 -0.45 4.25 -0.44 4.25 -0.4 4.25 -0.33 4.25 -0.23 4.25 -0.1 4.25 0.05 4.25 0.21 4.25 0.37 4.25 0.53 4.25 0.67 4.25 0.79 4.25 0.88 4.25 0.92 4.25 0.92 4.25 0.88 4.25 0.79 4.25 0.67 4.25 0.5 4.25 0.31 4.25 0.11 4.25 -0.11 4.25 -0.31 4.25 -0.5 4.25 -0.67 4.25 -0.79 4.25 -0.88 4.25 -0.92 4.25 -0.92 4.25 -0.88 4.25 -0.79 4.25 -0.67 4.25 -0.53 4.25 -0.37 4.25 -0.21 4.25 -0.05 4.25 0.1 4.25 0.23 4.25 0.33 4.25 0.4 4.25 0.44 4.25 0.45 4.25 0.43 4.25 0.39 4.25 0.33 4.25 0.26 4.25 0.19 4.25 0.11 4.25 0.05 4.25 -0.01 4.25 -0.05 4.25 -0.07 4.25 -0.08" fill="none" stroke="#3385dd" stroke-width="1.08"/>
<path d="M38.22,308.73l4.25 0.08 4.25 0.07 4.25 0.05 4.25 0.01 4.25 -0.05 4.25 -0.11 4.25 -0.19 4.25 -0.26 4.25 -0.33 4.25 -0.39 4.25 -0.43 4.25 -0.45 4.25 -0.44 4.25 -0.4 4.25 -0.33 4.25 -0.23 4.25 -0.1 4.25 0.05 4.25 0.21 4.25 0.37 4.25 0.53 4.25 0.67 4.25 0.79 4.25 0.88 4.25 0.92 4.25 0.92 4.25 0.88 4.25 0.79 4.25 0.67 4.25 0.5 4.25 0.31 4.25 0.11 4.25 -0.11 4.25 -0.31 4.25 -0.5 4.25 -0.67 4.25 -0.79 4.25 -0.88 4.25 -0.92 4.25 -0.92 4.25 -0.88 4.25 -0.79 4.25 -0.67 4.25 -0.53 4.25 -0.37 4.25 -0.21 4.25 -0.05 4.25 0.1 4.25 0.23 4.25 0.33 4.25 0.4 4.25 0.44 4.25 0.45 4.25 0.43 4.25 0.39 4.25 0.33 4.25 0.26 4.25 0.19 4.25 0.11 4.25 0.05 4.25 -0.01 4.25 -0.05 4.25 -0.07 4.25 -0.08" fill="none" stroke="#328fdf" stroke-width="1.08"/>
<path d="M38.22,323.13l4.25 0.08 4.25 0.07 4.25 0.05 4.25 0.01 4.25 -0.05 4.25 -0.11 4.25 -0.19 4.25 -0.26 4.25 -0.33 4.25 -0.39 4.25 -0.43 4.25 -0.45 4.25 -0.44 4.25 -0.4 4.25 -0.33 4.25 -0.23 4.25 -0.1 4.25 0.05 4.25 0.21 4.25 0.37 4.25 0.53 4.25 0.67 4.25 0.79 4.25 0.88 4.25 0.92 4.25 0.92 4.25 0.88 4.25 0.79 4.25 0.67 4.25 0.5 4.25 0.31 4.25 0.11 4.25 -0.11 4.25 -0.31 4.25 -0.5 4.25 -0.67 4.25 -0.79 4.25 -0.88 4.25 -0.92 4.25 -0.92 4.25 -0.88 4.25 -0.79 4.25 -0.67 4.25 -0.53 4.25 -0.37 4.25 -0.21 4.25 -0.05 4.25 0.1 4.25 0.23 4.25 0.33 4.25 0.4 4.25 0.44 4.25 0.45 4.25 0.43 4.25 0.39 4.25 0.33 4.25 0.26 4.25 0.19 4.25 0.11 4.25 0.05 4.25 -0.01 4.25 -0.05 4.25 -0.07 4.25 -0.08" fill="none" stroke="#328fdf" stroke-width="1.08"/>
<path d="M38.22,309.33l4.25 0.08 4.25 0.07 4.25 0.05 4.25 0.01 4.25 -0.05 4.25 -0.11 4.25 -0.19 4.25 -0.26 4.25 -0.33 4.25 -0.39 4.25 -0.43 4.25 -0.45 4.25 -0.44 4.25 -0.4 4.25 -0.33 4.25 -0.23 4.25 -0.1 4.25 0.05 4.25 0.21 4.25 0.37 4.25 0.53 4.25 0.67 4.25 0.79 4.25 0.88 4.25 0.92 4.25 0.92 4.25 0.88 4.25 0.79 4.25 0.67 4.25 0.5 4.25 0.31 4.25 0.11 4.25 -0.11 4.25 -0.31 4.25 -0.5 4.25 -0.67 4.25 -0.79 4.25 -0.88 4.25 -0.92 4.25 -0.92 4.25 -0.88 4.25 -0.79 4.25 -0.67 4.25 -0.53 4.25 -0.37 4.25 -0.21 4.25 -0.05 4.25 0.1 4.25 0.23 4.25 0.33 4.25 0.4 4.25 0.44 4.25 0.45 4.25 0.43 4.25 0.39 4.25 0.33 4.25 0.26 4.25 0.19 4.25 0.11 4.25 0.05 4.25 -0.01 4.25 -0.05 4.25 -0.07 4.25 -0.08" fill="none" stroke="#319ae2" stroke-width="1.08"/>
<path d="M38.22,322.53l4.25 0.08 4.25 0.07 4.25 0.05 4.25 0.01 4.25 -0.05 4.25 -0.11 4.25 -0.19 4.25 -0.26 4.25 -0.33 4.25 -0.39 4.25 -0.43 4.25 -0.45 4.25 -0.44 4.25 -0.4 4.25 -0.33 4.25 -0.23 4.25 -0.1 4.25 0.05 4.25 0.21 4.25 0.37 4.25 0.53 4.25 0.67 4.25 0.79 4.25 0.88 4.25 0.92 4.25 0.92 4.25 0.88 4.25 0.79 4.25 0.67 4.25 0.5 4.25 0.31 4.25 0.11 4.25 -0.11 4.25 -0.31 4.25 -0.5 4.25 -0.67 4.25 -0.79 4.25 -0.88 4.25 -0.92 4.25 -0.92 4.25 -0.88 4.25 -0.79 4.25 -0.67 4.25 -0.53 4.25 -0.37 4.25 -0.21 4.25 -0.05 4.25 0.1 4.25 0.23 4.25 0.33 4.25 0.4 4.25 0.44 4.25 0.45 4.25 0.43 4.25 0.39 4.25 0.33 4.25 0.26 4.25 0.19 4.25 0.11 4.25 0.05 4.25 -0.01 4.25 -0.05 4.25 -0.07 4.25 -0.08" fill="none" stroke="#319ae2" stroke-width="1.08"/>
<path d="M38.22,309.93l4.25 0.08 4.25 0.07 4.25 0.05 4.25 0.01 4.25 -0.05 4.25 -0.11 4.25 -0.19 4.25 -0.26 4.25 -0.33 4.25 -0.39 4.25 -0.43 4.25 -0.45 4.25 -0.44 4.25 -0.4 4.25 -0.33 4.25 -0.23 4.25 -0.1 4.25 0.05 4.25 0.21 4.25 0.37 4.25 0.53 4.25 0.67 4.25 0.79 4.25 0.88 4.25 0.92 4.25 0.92 4.25 0.88 4.25 0.79 4.25 0.67 4.25 0.5 4.25 0.31 4.25 0.11 4.25 -0.11 4.25 -0.31 4.25 -0.5 4.25 -0.67 4.25 -0.79 4.25 -0.88 4.25 -0.92 4.25 -0.92 4.25 -0.88 4.25 -0.79 4.25 -0.67 4.25 -0.53 4.25 -0.37 4.25 -0.21 4.25 -0.05 4.25 0.1 4.25 0.23 4.25 0.33 4.25 0.4 4.25 0.44 4.25 0.45 4.25 0.43 4.25 0.39 4.25 0.33 4.25 0.26 4.25 0.19 4.25 0.11 4.25 0.05 4.25 -0.01 4.25 -0.05 4.25 -0.07 4.25 -0.08" fill="none" stroke="#30a4e4" stroke-width="1.08"/>
<path d="M38.22,321.93l4.25 0.08 4.25 0.07 4.25 0.05 4.25 0.01 4.25 -0.05 4.25 -0.11 4.25 -0.19 4.25 -0.26 4.25 -0.33 4.25 -0.39 4.25 -0.43 4.25 -0.45 4.25 -0.44 4.25 -0.4 4.25 -0.33 4.25 -0.23 4.25 -0.1 4.25 0.05 4.25 0.21 4.25 0.37 4.25 0.53 4.25 0.67 4.25 0.79 4.25 0.88 4.25 0.92 4.25 0.92 4.25 0.88 4.25 0.79 4.25 0.67 4.25 0.5 4.25 0.31 4.25 0.11 4.25 -0.11 4.25 -0.31 4.25 -0.5 4.25 -0.67 4.25 -0.79 4.25 -0.88 4.25 -0.92 4.25 -0.92 4.25 -0.88 4.25 -0.79 4.25 -0.67 4.25 -0.53 4.25 -0.37 4.25 -0.21 4.25 -0.05 4.25 0.1 4.25 0.23 4.25 0.33 4.25 0.4 4.25 0.44 4.25 0.45 4.25 0.43 4.25 0.39 4.25 0.33 4.25 0.26 4.25 0.19 4.25 0.11 4.25 0.05 4.25 -0.01 4.25 -0.05 4.25 -0.07 4.25 -0.08" fill="none" stroke="#30a4e4" stroke-width="1.08"/>
<path d="M38.22,310.53l4.25 0.08 4.25 0.07 4.25 0.05 4.25 0.01 4.25 -0.05 4.25 -0.11 4.25 -0.19 4.25 -0.26 4.25 -0.33 4.25 -0.39 4.25 -0.43 4.25 -0.45 4.25 -0.44 4.25 -0.4 4.25 -0.33 4.25 -0.23 4.25 -0.1 4.25 0.05 4.25 0.21 4.25 0.37 4.25 0.53 4.25 0.67 4.25 0.79 4.25 0.88 4.25 0.92 4.25 0.92 4.25 0.88 4.25 0.79 4.25 0.67 4.25 0.5 4.25 0.31 4.25 0.11 4.25 -0.11 4.25 -0.31 4.25 -0.5 4.25 -0.67 4.25 -0.79 4.25 -0.88 4.25 -0.92 4.25 -0.92 4.25 -0.88 4.25 -0.79 4.25 -0.67 4.25 -0.53 4.25 -0.37 4.25 -0.21 4.25 -0.05 4.25 0.1 4.25 0.23 4.25 0.33 4.25 0.4 4.25 0.44 4.25 0.45 4.25 0.43 4.25 0.39 4.25 0.33 4.25 0.26 4.25 0.19 4.25 0.11 4.25 0.05 4.25 -0.01 4.25 -0.05 4.25 -0.07 4.25 -0.08" fill="none" stroke="#2fade6" stroke-width="1.08"/>
<path d="M38.22,321.33l4.25 0.08 4.25 0.07 4.25 0.05 4.25 0.01 4.25 -0.05 4.25 -0.11 4.25 -0.19 4.25 -0.26 4.25 -0.33 4.25 -0.39 4.25 -0.43 4.25 -0.45 4.25 -0.44 4.25 -0.4 4.25 -0.33 4.25 -0.23 4.25 -0.1 4.25 0.05 4.25 0.21 4.25 0.37 4.25 0.53 4.25 0.67 4.25 0.79 4.25 0.88 4.25 0.92 4.25 0.92 4.25 0.88 4.25 0.79 4.25 0.67 4.25 0.5 4.25 0.31 4.25 0.11 4.25 -0.11 4.25 -0.31 4.25 -0.5 4.25 -0.67 4.25 -0.79 4.25 -0.88 4.25 -0.92 4.25 -0.92 4.25 -0.88 4.25 -0.79 4.25 -0.67 4.25 -0.53 4.25 -0.37 4.25 -0.21 4.25 -0.05 4.25 0.1 4.25 0.23 4.25 0.33 4.25 0.4 4.25 0.44 4.25 0.45 4.25 0.43 4.25 0.39 4.25 0.33 4.25 0.26 4.25 0.19 4.25 0.11 4.25 0.05 4.25 -0.01 4.25 -0.05 4.25 -0.07 4.25 -0.08" fill="none" stroke="#2fade6" stroke-width="1.08"/>
<path d="M38.22,311.13l4.25 0.08 4.25 0.07 4.25 0.05 4.25 0.01 4.25 -0.05 4.25 -0.11 4.25 -0.19 4.25 -0.26 4.25 -0.33 4.25 -0.39 4.25 -0.43 4.25 -0.45 4.25 -0.44 4.25 -0.4 4.25 -0.33 4.25 -0.23 4.25 -0.1 4.25 0.05 4.25 0.21 4.25 0.37 4.25 0.53 4.25 0.67 4.25 0.79 4.25 0.88 4.25 0.92 4.25 0.92 4.25 0.88 4.25 0.79 4.25 0.67 4.25 0.5 4.25 0.31 4.25 0.11 4.25 -0.11 4.25 -0.31 4.25 -0.5 4.25 -0.67 4.25 -0.79 4.25 -0.88 4.25 -0.92 4.25 -0.92 4.25 -0.88 4.25 -0.79 4.25 -0.67 4.25 -0.53 4.25 -0.37 4.25 -0.21 4.25 -0.05 4.25 0.1 4.25 0.23 4.25 0.33 4.25 0.4 4.25 0.44 4.25 0.45 4.25 0.43 4.25 0.39 4.25 0.33 4.25 0.26 4.25 0.19 4.25 0.11 4.25 0.05 4.25 -0.01 4.25 -0.05 4.25 -0.07 4.25 -0.08" fill="none" stroke="#2eb6e8" stroke-width="1.08"/>
<path d="M38.22,320.73l4.25 0.08 4.25 0.07 4.25 0.05 4.25 0.01 4.25 -0.05 4.25 -0.11 4.25 -0.19 4.25 -0.26 4.25 -0.33 4.25 -0.39 4.25 -0.43 4.25 -0.45 4.25 -0.44 4.25 -0.4 4.25 -0.33 4.25 -0.23 4.25 -0.1 4.25 0.05 4.25 0.21 4.25 0.37 4.25 0.53 4.25 0.67 4.25 0.79 4.25 0.88 4.25 0.92 4.25 0.92 4.25 0.88 4.25 0.79 4.25 0.67 4.25 0.5 4.25 0.31 4.25 0.11 4.25 -0.11 4.25 -0.31 4.25 -0.5 4.25 -0.67 4.25 -0.79 4.25 -0.88 4.25 -0.92 4.25 -0.92 4.25 -0.88 4.25 -0.79 4.25 -0.67 4.25 -0.53 4.25 -0.37 4.25 -0.21 4.25 -0.05 4.25 0.1 4.25 0.23 4.25 0.33 4.25 0.4 4.25 0.44 4.25 0.45 4.25 0.43 4.25 0.39 4.25 0.33 4.25 0.26 4.25 0.19 4.25 0.11 4.25 0.05 4.25 -0.01 4.25 -0.05 4.25 -0.07 4.25 -0.08" fill="none" stroke="#2eb6e8" stroke-width="1.08"/>
<path d="M38.22,311.73l4.25 0.08 4.25 0.07 4.25 0.05 4.25 0.01 4.25 -0.05 4.25 -0.11 4.25 -0.19 4.25 -0.26 4.25 -0.33 4.25 -0.39 4.25 -0.43 4.25 -0.45 4.25 -0.44 4.25 -0.4 4.25 -0.33 4.25 -0.23 4.25 -0.1 4.25 0.05 4.25 0.21 4.25 0.37 4.25 0.53 4.25 0.67 4.25 0.79 4.25 0.88 4.25 0.92 4.25 0.92 4.25 0.88 4.25 0.79 4.25 0.67 4.25 0.5 4.25 0.31 4.25 0.11 4.25 -0.11 4.25 -0.31 4.25 -0.5 4.25 -0.67 4.25 -0.79 4.25 -0.88 4.25 -0.92 4.25 -0.92 4.25 -0.88 4.25 -0.79 4.25 -0.67 4.25 -0.53 4.25 -0.37 4.25 -0.21 4.25 -0.05 4.25 0.1 4.25 0.23 4.25 0.33 4.25 0.4 4.25 0.44 4.25 0.45 4.25 0.43 4.25 0.39 4.25 0.33 4.25 0.26 4.25 0.19 4.25 0.11 4.25 0.05 4.25 -0.01 4.25 -0.05 4.25 -0.07 4.25 -0.08" fill="none" stroke="#2db6e4" stroke-width="1.08"/>
<path d="M38.22,320.13l4.25 0.08 4.25 0.07 4.25 0.05 4.25 0.01 4.25 -0.05 4.25 -0.11 4.25 -0.19 4.25 -0.26 4.25 -0.33 4.25 -0.39 4.25 -0.43 4.25 -0.45 4.25 -0.44 4.25 -0.4 4.25 -0.33 4.25 -0.23 4.25 -0.1 4.25 0.05 4.25 0.21 4.25 0.37 4.25 0.53 4.25 0.67 4.25 0.79 4.25 0.88 4.25 0.92 4.25 0.92 4.25 0.88 4.25 0.79 4.25 0.67 4.25 0.5 4.25 0.31 4.25 0.11 4.25 -0.11 4.25 -0.31 4.25 -0.5 4.25 -0.67 4.25 -0.79 4.25 -0.88 4.25 -0.92 4.25 -0.92 4.25 -0.88 4.25 -0.79 4.25 -0.67 4.25 -0.53 4.25 -0.37 4.25 -0.21 4.25 -0.05 4.25 0.1 4.25 0.23 4.25 0.33 4.25 0.4 4.25 0.44 4.25 0.45 4.25 0.43 4.25 0.39 4.25 0.33 4.25 0.26 4.25 0.19 4.25 0.11 4.25 0.05 4.25 -0.01 4.25 -0.05 4.25 -0.07 4.25 -0.08" fill="none" stroke="#2db6e4" stroke-width="1.08"/>
<path d="M38.22,312.33l4.25 0.08 4.25 0.07 4.25 0.05 4.25 0.01 4.25 -0.05 4.25 -0.11 4.25 -0.19 4.25 -0.26 4.25 -0.33 4.25 -0.39 4.25 -0.43 4.25 -0.45 4.25 -0.44 4.25 -0.4 4.25 -0.33 4.25 -0.23 4.25 -0.1 4.25 0.05 4.25 0.21 4.25 0.37 4.25 0.53 4.25 0.67 4.25 0.79 4.25 0.88 4.25 0.92 4.25 0.92 4.25 0.88 4.25 0.79 4.25 0.67 4.25 0.5 4.25 0.31 4.25 0.11 4.25 -0.11 4.25 -0.31 4.25 -0.5 4.25 -0.67 4.25 -0.79 4.25 -0.88 4.25 -0.92 4.25 -0.92 4.25 -0.88 4.25 -0.79 4.25 -0.67 4.25 -0.53 4.25 -0.37 4.25 -0.21 4.25 -0.05 4.25 0.1 4.25 0.23 4.25 0.33 4.25 0.4 4.25 0.44 4.25 0.45 4.25 0.43 4.25 0.39 4.25 0.33 4.25 0.26 4.25 0.19 4.25 0.11 4.25 0.05 4.25 -0.01 4.25 -0.05 4.25 -0.07 4.25 -0.08" fill="none" stroke="#2cb7e0" stroke-width="1.08"/>
<path d="M38.22,319.53l4.25 0.08 4.25 0.07 4.25 0.05 4.25 0.01 4.25 -0.05 4.25 -0.11 4.25 -0.19 4.25 -0.26 4.25 -0.33 4.25 -0.39 4.25 -0.43 4.25 -0.45 4.25 -0.44 4.25 -0.4 4.25 -0.33 4.25 -0.23 4.25 -0.1 4.25 0.05 4.25 0.21 4.25 0.37 4.25 0.53 4.25 0.67 4.25 0.79 4.25 0.88 4.25 0.92 4.25 0.92 4.25 0.88 4.25 0.79 4.25 0.67 4.25 0.5 4.25 0.31 4.25 0.11 4.25 -0.11 4.25 -0.31 4.25 -0.5 4.25 -0.67 4.25 -0.79 4.25 -0.88 4.25 -0.92 4.25 -0.92 4.25 -0.88 4.25 -0.79 4.25 -0.67 4.25 -0.53 4.25 -0.37 4.25 -0.21 4.25 -0.05 4.25 0.1 4.25 0.23 4.25 0.33 4.25 0.4 4.25 0.44 4.25 0.45 4.25 0.43 4.25 0.39 4.25 0.33 4.25 0.26 4.25 0.19 4.25 0.11 4.25 0.05 4.25 -0.01 4.25 -0.05 4.25 -0.07 4.25 -0.08" fill="none" stroke="#2cb7e0" stroke-width="1.08"/>
<path d="M38.22,312.93l4.25 0.08 4.25 0.07 4.25 0.05 4.25 0.01 4.25 -0.05 4.25 -0.11 4.25 -0.19 4.25 -0.26 4.25 -0.33 4.25 -0.39 4.25 -0.43 4.25 -0.45 4.25 -0.44 4.25 -0.4 4.25 -0.33 4.25 -0.23 4.25 -0.1 4.25 0.05 4.25 0.21 4.25 0.37 4.25 0.53 4.25 0.67 4.25 0.79 4.25 0.88 4.25 0.92 4.25 0.92 4.25 0.88 4.25 0.79 4.25 0.67 4.25 0.5 4.25 0.31 4.25 0.11 4.25 -0.11 4.25 -0.31 4.25 -0.5 4.25 -0.67 4.25 -0.79 4.25 -0.88 4.25 -0.92 4.25 -0.92 4.25 -0.88 4.25 -0.79 4.25 -0.67 4.25 -0.53 4.25 -0.37 4.25 -0.21 4.25 -0.05 4.25 0.1 4.25 0.23 4.25 0.33 4.25 0.4 4.25 0.44 4.25 0.45 4.25 0.43 4.25 0.39 4.25 0.33 4.25 0.26 4.25 0.19 4.25 0.11 4.25 0.05 4.25 -0.01 4.25 -0.05 4.25 -0.07 4.25 -0.08" fill="none" stroke="#2cb7dd" stroke-width="1.08"/>
<path d="M38.22,318.93l4.25 0.08 4.25 0.07 4.25 0.05 4.25 0.01 4.25 -0.05 4.25 -0.11 4.25 -0.19 4.25 -0.26 4.25 -0.33 4.25 -0.39 4.25 -0.43 4.25 -0.45 4.25 -0.44 4.25 -0.4 4.25 -0.33 4.25 -0.23 4.25 -0.1 4.25 0.05 4.25 0.21 4.25 0.37 4.25 0.53 4.25 0.67 4.25 0.79 4.25 0.88 4.25 0.92 4.25 0.92 4.25 0.88 4.25 0.79 4.25 0.67 4.25 0.5 4.25 0.31 4.25 0.11 4.25 -0.11 4.25 -0.31 4.25 -0.5 4.25 -0.67 4.25 -0.79 4.25 -0.88 4.25 -0.92 4.25 -0.92 4.25 -0.88 4.25 -0.79 4.25 -0.67 4.25 -0.53 4.25 -0.37 4.25 -0.21 4.25 -0.05 4.25 0.1 4.25 0.23 4.25 0.33 4.25 0.4 4.25 0.44 4.25 0.45 4.25 0.43 4.25 0.39 4.25 0.33 4.25 0.26 4.25 0.19 4.25 0.11 4.25 0.05 4.25 -0.01 4.25 -0.05 4.25 -0.07 4.25 -0.08" fill="none" stroke="#2cb7dd" stroke-width="1.08"/>
<path d="M38.22,313.53l4.25 0.08 4.25 0.07 4.25 0.05 4.25 0.01 4.25 -0.05 4.25 -0.11 4.25 -0.19 4.25 -0.26 4.25 -0.33 4.25 -0.39 4.25 -0.43 4.25 -0.45 4.25 -0.44 4.25 -0.4 4.25 -0.33 4.25 -0.23 4.25 -0.1 4.25 0.05 4.25 0.21 4.25 0.37 4.25 0.53 4.25 0.67 4.25 0.79 4.25 0.88 4.25 0.92 4.25 0.92 4.25 0.88 4.25 0.79 4.25 0.67 4.25 0.5 4.25 0.31 4.25 0.11 4.25 -0.11 4.25 -0.31 4.25 -0.5 4.25 -0.67 4.25 -0.79 4.25 -0.88 4.25 -0.92 4.25 -0.92 4.25 -0.88 4.25 -0.79 4.25 -0.67 4.25 -0.53 4.25 -0.37 4.25 -0.21 4.25 -0.05 4.25 0.1 4.25 0.23 4.25 0.33 4.25 0.4 4.25 0.44 4.25 0.45 4.25 0.43 4.25 0.39 4.25 0.33 4.25 0.26 4.25 0.19 4.25 0.11 4.25 0.05 4.25 -0.01 4.25 -0.05 4.25 -0.07 4.25 -0.08" fill="none" stroke="#2bb7da" stroke-width="1.08"/>
<path d="M38.22,318.33l4.25 0.08 4.25 0.07 4.25 0.05 4.25 0.01 4.25 -0.05 4.25 -0.11 4.25 -0.19 4.25 -0.26 4.25 -0.33 4.25 -0.39 4.25 -0.43 4.25 -0.45 4.25 -0.44 4.25 -0.4 4.25 -0.33 4.25 -0.23 4.25 -0.1 4.25 0.05 4.25 0.21 4.25 0.37 4.25 0.53 4.25 0.67 4.25 0.79 4.25 0.88 4.25 0.92 4.25 0.92 4.25 0.88 4.25 0.79 4.25 0.67 4.25 0.5 4.25 0.31 4.25 0.11 4.25 -0.11 4.25 -0.31 4.25 -0.5 4.25 -0.67 4.25 -0.79 4.25 -0.88 4.25 -0.92 4.25 -0.92 4.25 -0.88 4.25 -0.79 4.25 -0.67 4.25 -0.53 4.25 -0.37 4.25 -0.21 4.25 -0.05 4.25 0.1 4.25 0.23 4.25 0.33 4.25 0.4 4.25 0.44 4.25 0.45 4.25 0.43 4.25 0.39 4.25 0.33 4.25 0.26 4.25 0.19 4.25 0.11 4.25 0.05 4.25 -0.01 4.25 -0.05 4.25 -0.07 4.25 -0.08" fill="none" stroke="#2bb7da" stroke-width="1.08"/>
<path d="M38.22,314.13l4.25 0.08 4.25 0.07 4.25 0.05 4.25 0.01 4.25 -0.05 4.25 -0.11 4.25 -0.19 4.25 -0.26 4.25 -0.33 4.25 -0.39 4.25 -0.43 4.25 -0.45 4.25 -0.44 4.25 -0.4 4.25 -0.33 4.25 -0.23 4.25 -0.1 4.25 0.05 4.25 0.21 4.25 0.37 4.25 0.53 4.25 0.67 4.25 0.79 4.25 0.88 4.25 0.92 4.25 0.92 4.25 0.88 4.25 0.79 4.25 0.67 4.25 0.5 4.25 0.31 4.25 0.11 4.25 -0.11 4.25 -0.31 4.25 -0.5 4.25 -0.67 4.25 -0.79 4.25 -0.88 4.25 -0.92 4.25 -0.92 4.25 -0.88 4.25 -0.79 4.25 -0.67 4.25 -0.53 4.25 -0.37 4.25 -0.21 4.25 -0.05 4.25 0.1 4.25 0.23 4.25 0.33 4.25 0.4 4.25 0.44 4.25 0.45 4.25 0.43 4.25 0.39 4.25 0.33 4.25 0.26 4.25 0.19 4.25 0.11 4.25 0.05 4.25 -0.01 4.25 -0.05 4.25 -0.07 4.25 -0.08" fill="none" stroke="#2ab7d8" stroke-width="1.08"/>
<path d="M38.22,317.73l4.25 0.08 4.25 0.07 4.25 0.05 4.25 0.01 4.25 -0.05 4.25 -0.11 4.25 -0.19 4.25 -0.26 4.25 -0.33 4.25 -0.39 4.25 -0.43 4.25 -0.45 4.25 -0.44 4.25 -0.4 4.25 -0.33 4.25 -0.23 4.25 -0.1 4.25 0.05 4.25 0.21 4.25 0.37 4.25 0.53 4.25 0.67 4.25 0.79 4.25 0.88 4.25 0.92 4.25 0.92 4.25 0.88 4.25 0.79 4.25 0.67 4.25 0.5 4.25 0.31 4.25 0.11 4.25 -0.11 4.25 -0.31 4.25 -0.5 4.25 -0.67 4.25 -0.79 4.25 -0.88 4.25 -0.92 4.25 -0.92 4.25 -0.88 4.25 -0.79 4.25 -0.67 4.25 -0.53 4.25 -0.37 4.25 -0.21 4.25 -0.05 4.25 0.1 4.25 0.23 4.25 0.33 4.25 0.4 4.25 0.44 4.25 0.45 4.25 0.43 4.25 0.39 4.25 0.33 4.25 0.26 4.25 0.19 4.25 0.11 4.25 0.05 4.25 -0.01 4.25 -0.05 4.25 -0.07 4.25 -0.08" fill="none" stroke="#2ab7d8" stroke-width="1.08"/>
<path d="M38.22,314.73l4.25 0.08 4.25 0.07 4.25 0.05 4.25 0.01 4.25 -0.05 4.25 -0.11 4.25 -0.19 4.25 -0.26 4.25 -0.33 4.25 -0.39 4.25 -0.43 4.25 -0.45 4.25 -0.44 4.25 -0.4 4.25 -0.33 4.25 -0.23 4.25 -0.1 4.25 0.05 4.25 0.21 4.25 0.37 4.25 0.53 4.25 0.67 4.25 0.79 4.25 0.88 4.25 0.92 4.25 0.92 4.25 0.88 4.25 0.79 4.25 0.67 4.25 0.5 4.25 0.31 4.25 0.11 4.25 -0.11 4.25 -0.31 4.25 -0.5 4.25 -0.67 4.25 -0.79 4.25 -0.88 4.25 -0.92 4.25 -0.92 4.25 -0.88 4.25 -0.79 4.25 -0.67 4.25 -0.53 4.25 -0.37 4.25 -0.21 4.25 -0.05 4.25 0.1 4.25 0.23 4.25 0.33 4.25 0.4 4.25 0.44 4.25 0.45 4.25 0.43 4.25 0.39 4.25 0.33 4.25 0.26 4.25 0.19 4.25 0.11 4.25 0.05 4.25 -0.01 4.25 -0.05 4.25 -0.07 4.25 -0.08" fill="none" stroke="#2ab7d6" stroke-width="1.08"/>
<path d="M38.22,317.13l4.25 0.08 4.25 0.07 4.25 0.05 4.25 0.01 4.25 -0.05 4.25 -0.11 4.25 -0.19 4.25 -0.26 4.25 -0.33 4.25 -0.39 4.25 -0.43 4.25 -0.45 4.25 -0.44 4.25 -0.4 4.25 -0.33 4.25 -0.23 4.25 -0.1 4.25 0.05 4.25 0.21 4.25 0.37 4.25 0.53 4.25 0.67 4.25 0.79 4.25 0.88 4.25 0.92 4.25 0.92 4.25 0.88 4.25 0.79 4.25 0.67 4.25 0.5 4.25 0.31 4.25 0.11 4.25 -0.11 4.25 -0.31 4.25 -0.5 4.25 -0.67 4.25 -0.79 4.25 -0.88 4.25 -0.92 4.25 -0.92 4.25 -0.88 4.25 -0.79 4.25 -0.67 4.25 -0.53 4.25 -0.37 4.25 -0.21 4.25 -0.05 4.25 0.1 4.25 0.23 4.25 0.33 4.25 0.4 4.25 0.44 4.25 0.45 4.25 0.43 4.25 0.39 4.25 0.33 4.25 0.26 4.25 0.19 4.25 0.11 4.25 0.05 4.25 -0.01 4.25 -0.05 4.25 -0.07 4.25 -0.08" fill="none" stroke="#2ab7d6" stroke-width="1.08"/>
<path d="M38.22,315.33l4.25 0.08 4.25 0.07 4.25 0.05 4.25 0.01 4.25 -0.05 4.25 -0.11 4.25 -0.19 4.25 -0.26 4.25 -0.33 4.25 -0.39 4.25 -0.43 4.25 -0.45 4.25 -0.44 4.25 -0.4 4.25 -0.33 4.25 -0.23 4.25 -0.1 4.25 0.05 4.25 0.21 4.25 0.37 4.25 0.53 4.25 0.67 4.25 0.79 4.25 0.88 4.25 0.92 4.25 0.92 4.25 0.88 4.25 0.79 4.25 0.67 4.25 0.5 4.25 0.31 4.25 0.11 4.25 -0.11 4.25 -0.31 4.25 -0.5 4.25 -0.67 4.25 -0.79 4.25 -0.88 4.25 -0.92 4.25 -0.92 4.25 -0.88 4.25 -0.79 4.25 -0.67 4.25 -0.53 4.25 -0.37 4.25 -0.21 4.25 -0.05 4.25 0.1 4.25 0.23 4.25 0.33 4.25 0.4 4.25 0.44 4.25 0.45 4.25 0.43 4.25 0.39 4.25 0.33 4.25 0.26 4.25 0.19 4.25 0.11 4.25 0.05 4.25 -0.01 4.25 -0.05 4.25 -0.07 4.25 -0.08" fill="none" stroke="#2ab7d5" stroke-width="1.08"/>
<path d="M38.22,316.53l4.25 0.08 4.25 0.07 4.25 0.05 4.25 0.01 4.25 -0.05 4.25 -0.11 4.25 -0.19 4.25 -0.26 4.25 -0.33 4.25 -0.39 4.25 -0.43 4.25 -0.45 4.25 -0.44 4.25 -0.4 4.25 -0.33 4.25 -0.23 4.25 -0.1 4.25 0.05 4.25 0.21 4.25 0.37 4.25 0.53 4.25 0.67 4.25 0.79 4.25 0.88 4.25 0.92 4.25 0.92 4.25 0.88 4.25 0.79 4.25 0.67 4.25 0.5 4.25 0.31 4.25 0.11 4.25 -0.11 4.25 -0.31 4.25 -0.5 4.25 -0.67 4.25 -0.79 4.25 -0.88 4.25 -0.92 4.25 -0.92 4.25 -0.88 4.25 -0.79 4.25 -0.67 4.25 -0.53 4.25 -0.37 4.25 -0.21 4.25 -0.05 4.25 0.1 4.25 0.23 4.25 0.33 4.25 0.4 4.25 0.44 4.25 0.45 4.25 0.43 4.25 0.39 4.25 0.33 4.25 0.26 4.25 0.19 4.25 0.11 4.25 0.05 4.25 -0.01 4.25 -0.05 4.25 -0.07 4.25 -0.08" fill="none" stroke="#2ab7d5" stroke-width="1.08"/>
<path d="M38.22,315.93l4.25 0.08 4.25 0.07 4.25 0.05 4.25 0.01 4.25 -0.05 4.25 -0.11 4.25 -0.19 4.25 -0.26 4.25 -0.33 4.25 -0.39 4.25 -0.43 4.25 -0.45 4.25 -0.44 4.25 -0.4 4.25 -0.33 4.25 -0.23 4.25 -0.1 4.25 0.05 4.25 0.21 4.25 0.37 4.25 0.53 4.25 0.67 4.25 0.79 4.25 0.88 4.25 0.92 4.25 0.92 4.25 0.88 4.25 0.79 4.25 0.67 4.25 0.5 4.25 0.31 4.25 0.11 4.25 -0.11 4.25 -0.31 4.25 -0.5 4.25 -0.67 4.25 -0.79 4.25 -0.88 4.25 -0.92 4.25 -0.92 4.25 -0.88 4.25 -0.79 4.25 -0.67 4.25 -0.53 4.25 -0.37 4.25 -0.21 4.25 -0.05 4.25 0.1 4.25 0.23 4.25 0.33 4.25 0.4 4.25 0.44 4.25 0.45 4.25 0.43 4.25 0.39 4.25 0.33 4.25 0.26 4.25 0.19 4.25 0.11 4.25 0.05 4.25 -0.01 4.25 -0.05 4.25 -0.07 4.25 -0.08" fill="none" stroke="#2ab7d5" stroke-width="1.2"/>
<path d="M38.22,242.43l4.25 0.08 4.25 0.07 4.25 0.05 4.25 0.01 4.25 -0.05 4.25 -0.11 4.25 -0.19 4.25 -0.26 4.25 -0.33 4.25 -0.39 4.25 -0.43 4.25 -0.45 4.25 -0.44 4.25 -0.4 4.25 -0.33 4.25 -0.23 4.25 -0.1 4.25 0.05 4.25 0.21 4.25 0.37 4.25 0.53 4.25 0.67 4.25 0.79 4.25 0.88 4.25 0.92 4.25 0.92 4.25 0.88 4.25 0.79 4.25 0.67 4.25 0.5 4.25 0.31 4.25 0.11 4.25 -0.11 4.25 -0.31 4.25 -0.5 4.25 -0.67 4.25 -0.79 4.25 -0.88 4.25 -0.92 4.25 -0.92 4.25 -0.88 4.25 -0.79 4.25 -0.67 4.25 -0.53 4.25 -0.37 4.25 -0.21 4.25 -0.05 4.25 0.1 4.25 0.23 4.25 0.33 4.25 0.4 4.25 0.44 4.25 0.45 4.25 0.43 4.25 0.39 4.25 0.33 4.25 0.26 4.25 0.19 4.25 0.11 4.25 0.05 4.25 -0.01 4.25 -0.05 4.25 -0.07 4.25 -0.08" fill="none" stroke="#f8e0e0" stroke-width="0.9" stroke-opacity="0.8"/>
<path d="M38.22,315.93l4.25 0.08 4.25 0.07 4.25 0.05 4.25 0.01 4.25 -0.05 4.25 -0.11 4.25 -0.19 4.25 -0.26 4.25 -0.33 4.25 -0.39 4.25 -0.43 4.25 -0.45 4.25 -0.44 4.25 -0.4 4.25 -0.33 4.25 -0.23 4.25 -0.1 4.25 0.05 4.25 0.21 4.25 0.37 4.25 0.53 4.25 0.67 4.25 0.79 4.25 0.88 4.25 0.92 4.25 0.92 4.25 0.88 4.25 0.79 4.25 0.67 4.25 0.5 4.25 0.31 4.25 0.11 4.25 -0.11 4.25 -0.31 4.25 -0.5 4.25 -0.67 4.25 -0.79 4.25 -0.88 4.25 -0.92 4.25 -0.92 4.25 -0.88 4.25 -0.79 4.25 -0.67 4.25 -0.53 4.25 -0.37 4.25 -0.21 4.25 -0.05 4.25 0.1 4.25 0.23 4.25 0.33 4.25 0.4 4.25 0.44 4.25 0.45 4.25 0.43 4.25 0.39 4.25 0.33 4.25 0.26 4.25 0.19 4.25 0.11 4.25 0.05 4.25 -0.01 4.25 -0.05 4.25 -0.07 4.25 -0.08" fill="none" stroke="#e6f8f0" stroke-width="1" stroke-opacity="0.85"/>
<path d="M38.22,287.23l4.25 0.08 4.25 0.07 4.25 0.05 4.25 0.01 4.25 -0.05 4.25 -0.11 4.25 -0.19 4.25 -0.26 4.25 -0.33 4.25 -0.39 4.25 -0.43 4.25 -0.45 4.25 -0.44 4.25 -0.4 4.25 -0.33 4.25 -0.23 4.25 -0.1 4.25 0.05 4.25 0.21 4.25 0.37 4.25 0.53 4.25 0.67 4.25 0.79 4.25 0.88 4.25 0.92 4.25 0.92 4.25 0.88 4.25 0.79 4.25 0.67 4.25 0.5 4.25 0.31 4.25 0.11 4.25 -0.11 4.25 -0.31 4.25 -0.5 4.25 -0.67 4.25 -0.79 4.25 -0.88 4.25 -0.92 4.25 -0.92 4.25 -0.88 4.25 -0.79 4.25 -0.67 4.25 -0.53 4.25 -0.37 4.25 -0.21 4.25 -0.05 4.25 0.1 4.25 0.23 4.25 0.33 4.25 0.4 4.25 0.44 4.25 0.45 4.25 0.43 4.25 0.39 4.25 0.33 4.25 0.26 4.25 0.19 4.25 0.11 4.25 0.05 4.25 -0.01 4.25 -0.05 4.25 -0.07 4.25 -0.08" fill="none" stroke="#e23c3c" stroke-width="1.5"/>
</g>
<line x1="174.7" y1="208.0" x2="174.7" y2="347.2" stroke="#d04a78" stroke-width="0.9" stroke-opacity="0.85"/>
<line x1="174.7" y1="209.0" x2="174.7" y2="347.2" stroke="#fbd6e6" stroke-width="1.3" stroke-dasharray="3.4 2.4"/>
<g fill="none" stroke="#dcdcf2" stroke-width="1.2">
<rect x="107.6" y="265.9" width="53.7" height="17.7"/>
<path d="M152.2,265.9v2.2M152.2,283.6v-2.2"/>
<path d="M123.8,266.6V283.6M132.6,266.6V283.6" stroke-dasharray="2.8 1.8" stroke-width="1.3"/>
<path d="M161.3,265.9L178.3,294.4M161.3,283.6L172.6,303.6" stroke-dasharray="2.6 1.6" stroke-width="1.3"/>
<rect x="172.6" y="294.2" width="5.7" height="9.6" rx="1.5"/>
</g>
<line x1="120.6" y1="265.9" x2="120.6" y2="283.6" stroke="#e8423c" stroke-width="1.4"/>
<path d="M0,0.22 C0.05,0.08 0.12,0.05 0.25,0.05 L1,0.05 M0.66,0.07 C0.52,0.35 0.45,0.6 0.46,0.78 C0.47,0.95 0.58,0.98 0.72,0.95" transform="translate(119.5,295.3) scale(4.2,5.4)" fill="none" stroke="#e4e4f4" stroke-width="1.1" vector-effect="non-scaling-stroke" stroke-linecap="round"/>
<g font-family="Liberation Sans, sans-serif" fill="#e8e8f6" stroke="#e8e8f6" stroke-width="0.25" font-size="10" text-anchor="middle"><text x="119.9" y="293.3">0</text><text x="151.3" y="293.3" textLength="11.6" lengthAdjust="spacingAndGlyphs">50</text><text x="127.3" y="300.8" font-size="10.5" text-anchor="start" textLength="17.8" lengthAdjust="spacingAndGlyphs">[as]</text></g>
<text font-family="Liberation Sans, sans-serif" fill="#ececf6" font-size="11" x="226.8" y="263.8" textLength="46.4" lengthAdjust="spacingAndGlyphs">He<tspan font-size="8" dy="-4">+</tspan><tspan dy="4"> (1s)</tspan></text>
<g font-family="Liberation Sans, sans-serif" fill="#ececf6" font-size="11"><text x="226.4" y="331.6" textLength="30" lengthAdjust="spacingAndGlyphs">He<tspan font-size="8" dy="-4">+</tspan><tspan dy="4"> (</tspan></text><text x="256.6" y="331.6" font-size="11.5" font-style="italic" textLength="6.4" lengthAdjust="spacingAndGlyphs">n</text><text x="267.2" y="330.3" font-size="10.5" textLength="7.6" lengthAdjust="spacingAndGlyphs">&gt;</text><text x="278.6" y="331.6" textLength="11.4" lengthAdjust="spacingAndGlyphs">2)</text></g>
<rect x="267.9" y="332.1" width="7.1" height="1.1" fill="#ececf6"/>
<g font-family="Liberation Sans, sans-serif" fill="#dc4646" font-size="11.5"><text x="263.6" y="297.4">-</text><text x="266.4" y="297.6" textLength="7.6" lengthAdjust="spacingAndGlyphs">A</text><text x="274.4" y="299.2" font-size="6.5" textLength="7.4" lengthAdjust="spacingAndGlyphs">IR</text><text x="281.6" y="298.3" font-size="12">(</text><text x="293.4" y="298.3" font-size="12">)</text></g>
<path d="M0,0.22 C0.05,0.08 0.12,0.05 0.25,0.05 L1,0.05 M0.66,0.07 C0.52,0.35 0.45,0.6 0.46,0.78 C0.47,0.95 0.58,0.98 0.72,0.95" transform="translate(285.3,291.6) scale(6.6,6.4)" fill="none" stroke="#dc4646" stroke-width="1.05" vector-effect="non-scaling-stroke" stroke-linecap="round"/>
<rect x="43.0" y="208.0" width="262.4" height="139.2" fill="none" stroke="#1a1240" stroke-width="1.6"/>
<path d="M69.6,208.0v2.6M69.6,347.2v-2.6M121.9,208.0v2.6M121.9,347.2v-2.6M174.2,208.0v2.6M174.2,347.2v-2.6M226.5,208.0v2.6M226.5,347.2v-2.6M278.8,208.0v2.6M278.8,347.2v-2.6M43.0,217.7h2.8M305.4,217.7h-2.8M43.0,236.9h2.8M305.4,236.9h-2.8M43.0,256.1h2.8M305.4,256.1h-2.8M43.0,275.3h2.8M305.4,275.3h-2.8M43.0,294.5h2.8M305.4,294.5h-2.8M43.0,313.7h2.8M305.4,313.7h-2.8M43.0,332.9h2.8M305.4,332.9h-2.8" stroke="#1e1648" stroke-width="1.2" fill="none"/>
<defs><linearGradient id="cg" x1="0" y1="1" x2="0" y2="0"><stop offset="0" stop-color="#4838a0"/><stop offset="0.03" stop-color="#424cc0"/><stop offset="0.06" stop-color="#3491e2"/><stop offset="0.08" stop-color="#28b0c3"/><stop offset="0.1" stop-color="#1ea873"/><stop offset="0.15" stop-color="#1ea555"/><stop offset="0.24" stop-color="#41b446"/><stop offset="0.31" stop-color="#96cd3c"/><stop offset="0.41" stop-color="#f2e832"/><stop offset="0.46" stop-color="#f6de32"/><stop offset="0.52" stop-color="#f7b632"/><stop offset="0.62" stop-color="#f28432"/><stop offset="0.75" stop-color="#eb5837"/><stop offset="0.85" stop-color="#e64437"/><stop offset="1" stop-color="#e23a32"/></linearGradient></defs>
<rect x="311.3" y="208" width="13.8" height="139.3" fill="url(#cg)" stroke="#222" stroke-width="1.1"/>
<g font-family="Liberation Sans, sans-serif" font-size="10.5" fill="#484848"><text x="36" y="221.3" text-anchor="end">2.6</text><text x="36" y="240.5" text-anchor="end">2.4</text><text x="36" y="259.7" text-anchor="end">2.2</text><text x="36" y="278.9" text-anchor="end">2</text><text x="36" y="298.1" text-anchor="end">1.8</text><text x="36" y="317.3" text-anchor="end">1.6</text><text x="36" y="336.5" text-anchor="end">1.4</text><text x="69.4" y="362.7" text-anchor="middle">-2</text><text x="121.7" y="362.7" text-anchor="middle">-1</text><text x="175.4" y="362.7" text-anchor="middle">0</text><text x="227.7" y="362.7" text-anchor="middle">1</text><text x="280" y="362.7" text-anchor="middle">2</text><text x="333" y="210.6">1</text><text x="333" y="350.6">0</text></g>
<text font-family="Liberation Sans, sans-serif" font-size="10.6" fill="#484848" transform="translate(12.9,350.5) rotate(-90)" textLength="146.3" lengthAdjust="spacingAndGlyphs">Electron momentum [a.u.]</text>
<path d="M0,0.22 C0.05,0.08 0.12,0.05 0.25,0.05 L1,0.05 M0.66,0.07 C0.52,0.35 0.45,0.6 0.46,0.78 C0.47,0.95 0.58,0.98 0.72,0.95" transform="translate(160.3,370.0) scale(6.0,6.8)" fill="none" stroke="#3a3a3a" stroke-width="1.15" vector-effect="non-scaling-stroke" stroke-linecap="round"/>
<text font-family="Liberation Sans, sans-serif" font-size="11" fill="#3a3a3a" x="169.4" y="375.8" textLength="18.9" lengthAdjust="spacingAndGlyphs">[fs]</text>
</svg>
</body></html>
